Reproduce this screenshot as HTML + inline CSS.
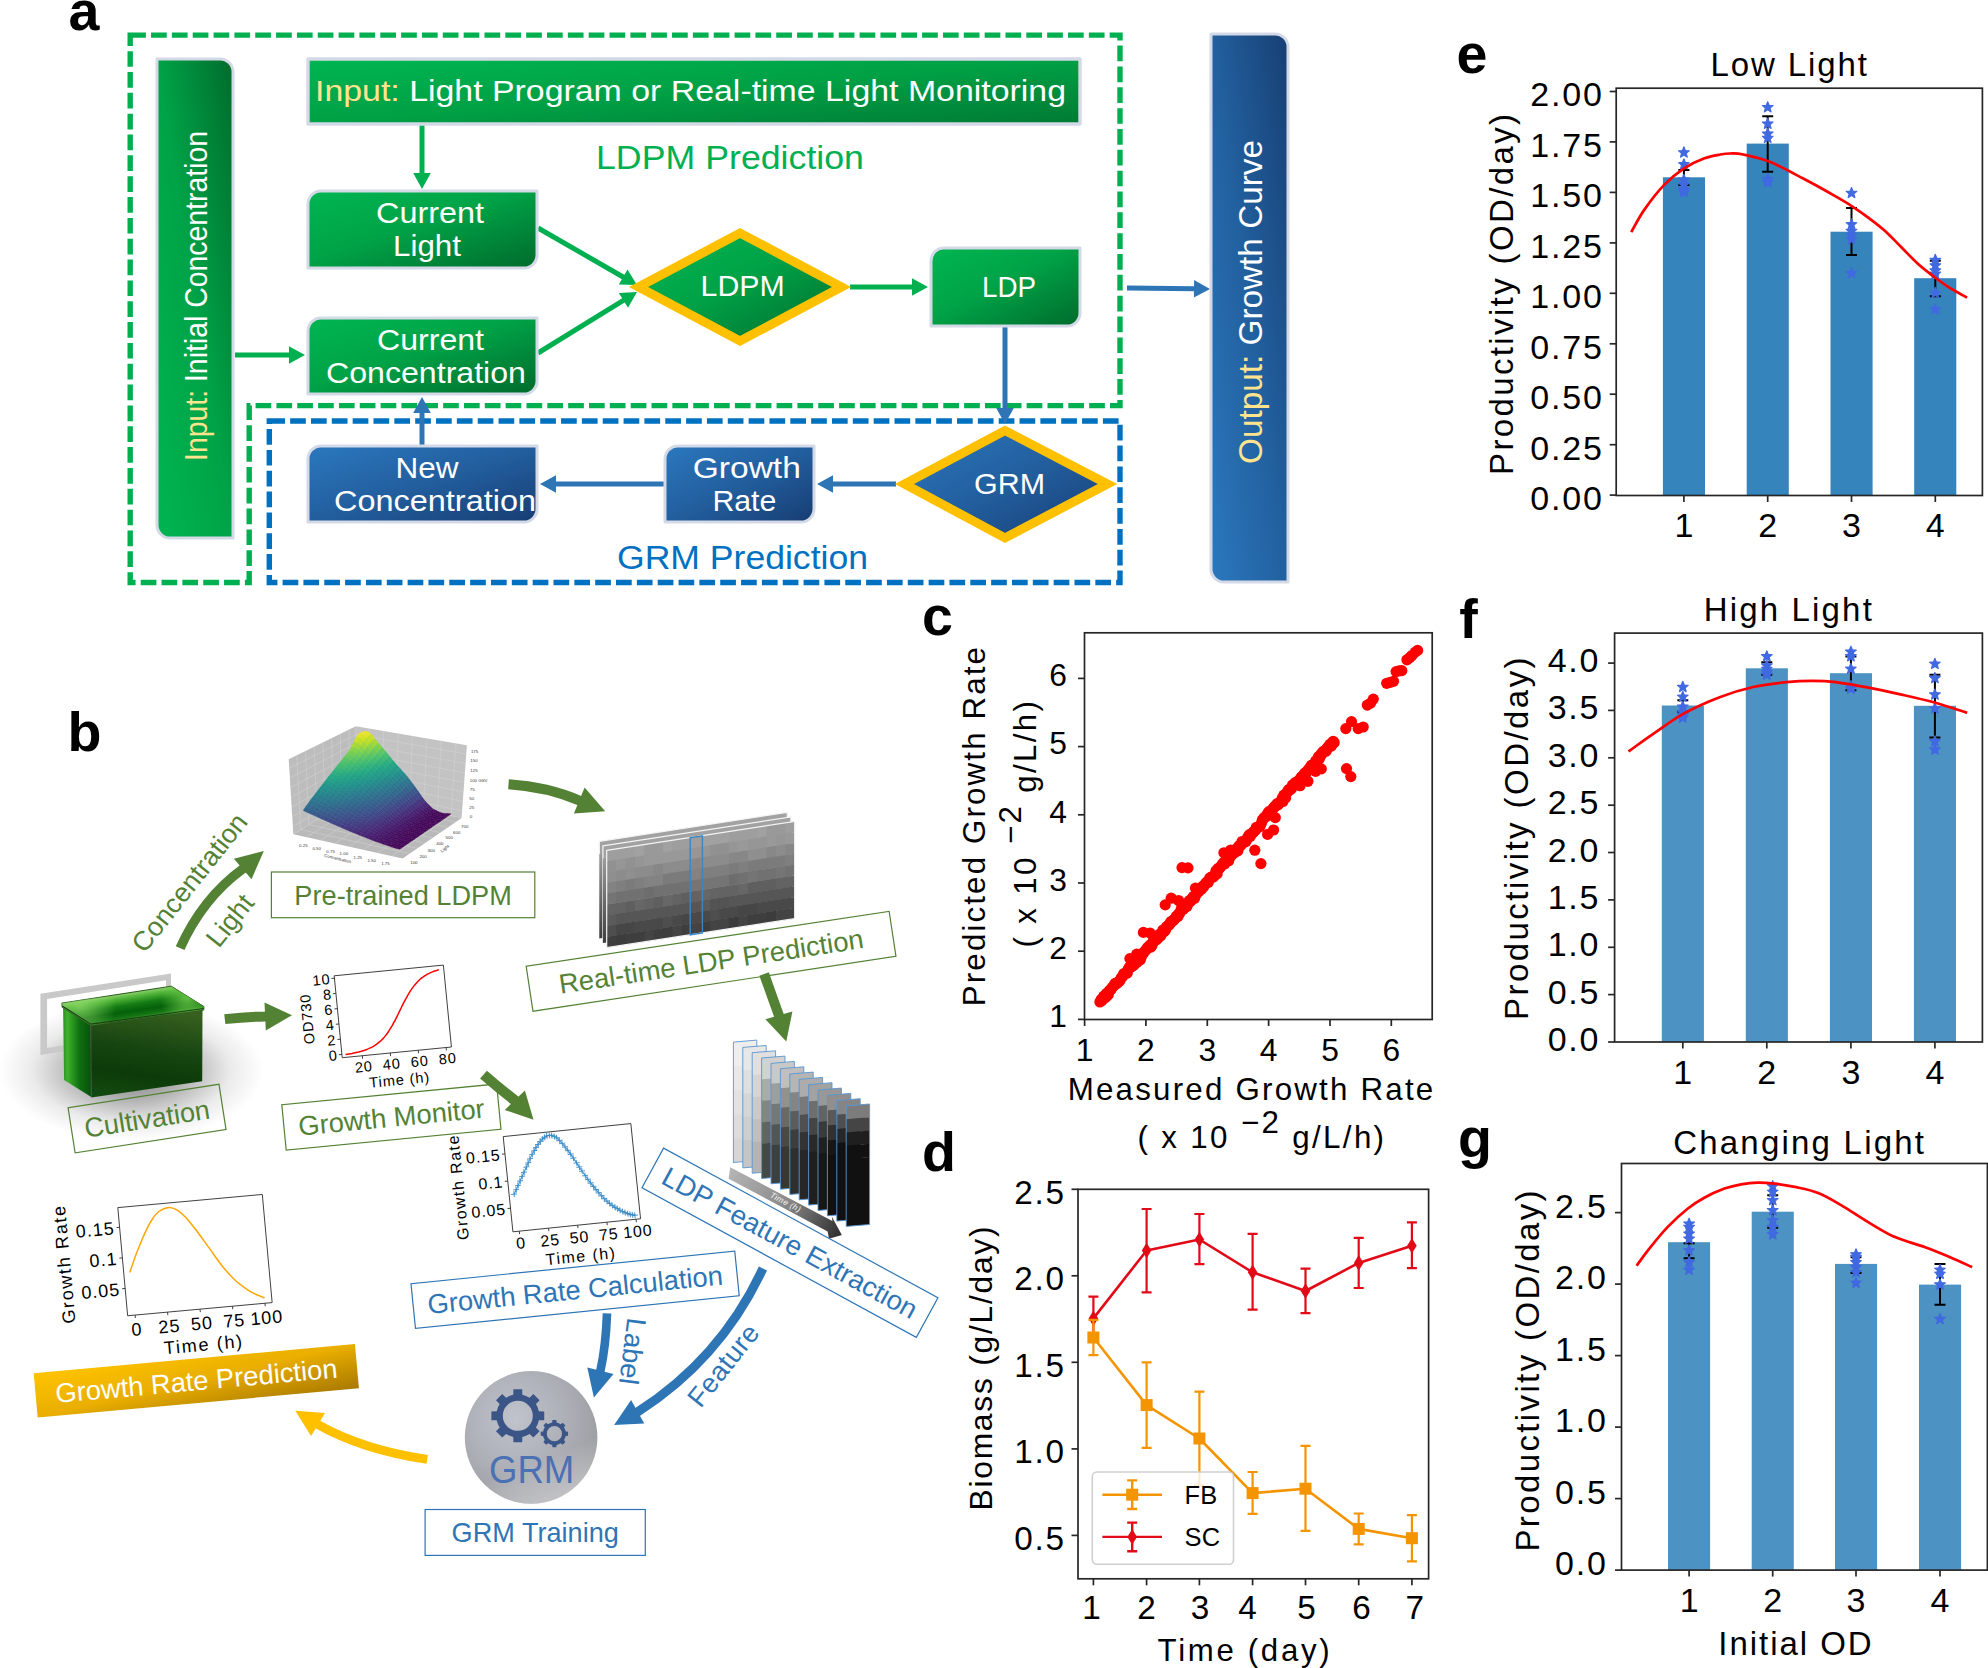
<!DOCTYPE html>
<html lang="en"><head><meta charset="utf-8"><title>Figure</title>
<style>
html,body{margin:0;padding:0;background:#fff;}
body{width:1988px;height:1668px;overflow:hidden;}
svg{display:block;}
text{font-family:"Liberation Sans",sans-serif;}
.pl{font-family:"Liberation Sans",sans-serif;fill:#000;}
</style></head><body>
<svg width="1988" height="1668" viewBox="0 0 1988 1668">
<rect x="0" y="0" width="1988" height="1668" fill="#ffffff"/>
<defs>
<linearGradient id="gG" x1="0" y1="0" x2="1" y2="1"><stop offset="0" stop-color="#00B552"/><stop offset="0.45" stop-color="#00A347"/><stop offset="1" stop-color="#006B2C"/></linearGradient>
<linearGradient id="gGw" x1="0" y1="0" x2="1" y2="1"><stop offset="0" stop-color="#00B552"/><stop offset="0.5" stop-color="#00A045"/><stop offset="1" stop-color="#007A34"/></linearGradient>
<linearGradient id="gGv" x1="0" y1="1" x2="1" y2="0"><stop offset="0" stop-color="#00B552"/><stop offset="0.5" stop-color="#00A347"/><stop offset="1" stop-color="#006B2C"/></linearGradient>
<linearGradient id="gB" x1="0" y1="0" x2="1" y2="1"><stop offset="0" stop-color="#2B78BE"/><stop offset="0.5" stop-color="#225E9E"/><stop offset="1" stop-color="#173D72"/></linearGradient>
<linearGradient id="gBv" x1="0" y1="1" x2="1" y2="0"><stop offset="0" stop-color="#2B78BE"/><stop offset="0.5" stop-color="#22609F"/><stop offset="1" stop-color="#173F73"/></linearGradient>
</defs>
<g id="panelA">
<text x="68.5" y="30.2" font-size="55.6" font-weight="bold" fill="#000">a</text>
<path d="M130.2,35.1 H1120 V405.6 H249.2 V582.5 H130.2 Z" fill="none" stroke="#00B050" stroke-width="5.4" stroke-dasharray="15.7,5.14"/>
<path d="M269.3,421 H1120 V582.5 H269.3 Z" fill="none" stroke="#0070C0" stroke-width="5.4" stroke-dasharray="15.7,5.14"/>
<line x1="422.0" y1="124.0" x2="422.0" y2="174.0" stroke="#00B050" stroke-width="5.0"/><polygon points="422.0,189.0 413.2,173.0 430.8,173.0" fill="#00B050"/>
<line x1="235.0" y1="355.0" x2="290.0" y2="355.0" stroke="#00B050" stroke-width="5.0"/><polygon points="305.0,355.0 289.0,363.8 289.0,346.2" fill="#00B050"/>
<line x1="538.0" y1="228.0" x2="624.0" y2="277.5" stroke="#00B050" stroke-width="5.0"/><polygon points="637.0,285.0 618.8,284.6 627.5,269.4" fill="#00B050"/>
<line x1="538.0" y1="353.0" x2="624.2" y2="299.9" stroke="#00B050" stroke-width="5.0"/><polygon points="637.0,292.0 628.0,307.8 618.8,292.9" fill="#00B050"/>
<line x1="850.0" y1="287.0" x2="913.0" y2="287.0" stroke="#00B050" stroke-width="5.0"/><polygon points="928.0,287.0 912.0,295.8 912.0,278.2" fill="#00B050"/>
<line x1="1005.0" y1="327.0" x2="1005.0" y2="409.0" stroke="#2E75B6" stroke-width="5.0"/><polygon points="1005.0,424.0 996.2,408.0 1013.8,408.0" fill="#2E75B6"/>
<line x1="1127.0" y1="288.0" x2="1195.0" y2="288.8" stroke="#2E75B6" stroke-width="5.0"/><polygon points="1210.0,289.0 1193.9,297.6 1194.1,280.1" fill="#2E75B6"/>
<line x1="896.0" y1="484.0" x2="832.0" y2="484.0" stroke="#2E75B6" stroke-width="5.0"/><polygon points="817.0,484.0 833.0,475.2 833.0,492.8" fill="#2E75B6"/>
<line x1="665.0" y1="484.0" x2="555.0" y2="484.0" stroke="#2E75B6" stroke-width="5.0"/><polygon points="540.0,484.0 556.0,475.2 556.0,492.8" fill="#2E75B6"/>
<line x1="422.0" y1="446.0" x2="422.0" y2="412.0" stroke="#2E75B6" stroke-width="5.0"/><polygon points="422.0,397.0 430.8,413.0 413.2,413.0" fill="#2E75B6"/>
<path d="M157.0,59.0 H220.0 A13,13 0 0 1 233.0,72.0 V538.0 H170.0 A13,13 0 0 1 157.0,525.0 V59.0 Z" fill="url(#gGv)" stroke="#D3D9E6" stroke-width="3.0" stroke-linejoin="round"/>
<path d="M308.0,59.0 H1080.0 V124.0 H308.0 V59.0 Z" fill="url(#gGw)" stroke="#D3D9E6" stroke-width="3.4" stroke-linejoin="round"/>
<path d="M321.0,191.0 H537.0 V255.0 A13,13 0 0 1 524.0,268.0 H308.0 V204.0 A13,13 0 0 1 321.0,191.0 Z" fill="url(#gG)" stroke="#D3D9E6" stroke-width="3.0" stroke-linejoin="round"/>
<path d="M321.0,318.0 H537.0 V381.0 A13,13 0 0 1 524.0,394.0 H308.0 V331.0 A13,13 0 0 1 321.0,318.0 Z" fill="url(#gG)" stroke="#D3D9E6" stroke-width="3.0" stroke-linejoin="round"/>
<path d="M944.0,248.0 H1080.0 V313.0 A13,13 0 0 1 1067.0,326.0 H931.0 V261.0 A13,13 0 0 1 944.0,248.0 Z" fill="url(#gG)" stroke="#D3D9E6" stroke-width="3.0" stroke-linejoin="round"/>
<path d="M321.0,446.0 H537.0 V509.0 A13,13 0 0 1 524.0,522.0 H308.0 V459.0 A13,13 0 0 1 321.0,446.0 Z" fill="url(#gB)" stroke="#D3D9E6" stroke-width="3.0" stroke-linejoin="round"/>
<path d="M678.0,446.0 H814.0 V509.0 A13,13 0 0 1 801.0,522.0 H665.0 V459.0 A13,13 0 0 1 678.0,446.0 Z" fill="url(#gB)" stroke="#D3D9E6" stroke-width="3.0" stroke-linejoin="round"/>
<path d="M1211.0,34.0 H1275.0 A13,13 0 0 1 1288.0,47.0 V582.0 H1224.0 A13,13 0 0 1 1211.0,569.0 V34.0 Z" fill="url(#gBv)" stroke="#D3D9E6" stroke-width="3.0" stroke-linejoin="round"/>
<polygon points="638.5,287 740,233 841.5,287 740,341" fill="url(#gG)" stroke="#FFC000" stroke-width="9" stroke-linejoin="miter"/>
<polygon points="904.5,484 1005,430.5 1107.5,484 1005,538" fill="url(#gB)" stroke="#FFC000" stroke-width="9" stroke-linejoin="miter"/>
<text x="315" y="100.9" font-size="30" fill="#fff" textLength="751" lengthAdjust="spacingAndGlyphs"><tspan fill="#FFE48F">Input:</tspan> Light Program or Real-time Light Monitoring</text>
<text x="430.0" y="223.0" font-size="30.0" fill="#fff" text-anchor="middle" textLength="108.0" lengthAdjust="spacingAndGlyphs">Current</text>
<text x="427.0" y="256.0" font-size="30.0" fill="#fff" text-anchor="middle" textLength="68.0" lengthAdjust="spacingAndGlyphs">Light</text>
<text x="430.5" y="349.5" font-size="30.0" fill="#fff" text-anchor="middle" textLength="107.0" lengthAdjust="spacingAndGlyphs">Current</text>
<text x="426.0" y="383.0" font-size="30.0" fill="#fff" text-anchor="middle" textLength="200.0" lengthAdjust="spacingAndGlyphs">Concentration</text>
<text x="427.0" y="477.5" font-size="30.0" fill="#fff" text-anchor="middle" textLength="63.0" lengthAdjust="spacingAndGlyphs">New</text>
<text x="435.0" y="510.5" font-size="30.0" fill="#fff" text-anchor="middle" textLength="202.0" lengthAdjust="spacingAndGlyphs">Concentration</text>
<text x="746.8" y="477.5" font-size="30.0" fill="#fff" text-anchor="middle" textLength="108.0" lengthAdjust="spacingAndGlyphs">Growth</text>
<text x="744.4" y="510.5" font-size="30.0" fill="#fff" text-anchor="middle" textLength="64.0" lengthAdjust="spacingAndGlyphs">Rate</text>
<text x="742.6" y="296.0" font-size="30.0" fill="#fff" text-anchor="middle" textLength="84.0" lengthAdjust="spacingAndGlyphs">LDPM</text>
<text x="1009.0" y="297.0" font-size="30.0" fill="#fff" text-anchor="middle" textLength="54.0" lengthAdjust="spacingAndGlyphs">LDP</text>
<text x="1009.5" y="494.0" font-size="30.0" fill="#fff" text-anchor="middle" textLength="71.0" lengthAdjust="spacingAndGlyphs">GRM</text>
<text transform="translate(207,461) rotate(-90)" font-size="31" fill="#fff" textLength="330" lengthAdjust="spacingAndGlyphs"><tspan fill="#FFE48F">Input:</tspan> Initial Concentration</text>
<text transform="translate(1262,464) rotate(-90)" font-size="33" fill="#fff" textLength="324" lengthAdjust="spacingAndGlyphs"><tspan fill="#FFE48F">Output:</tspan> Growth Curve</text>
<text x="596.0" y="169.0" font-size="33.0" fill="#00B050" text-anchor="start" textLength="268.0" lengthAdjust="spacingAndGlyphs">LDPM Prediction</text>
<text x="617.0" y="569.0" font-size="33.0" fill="#0070C0" text-anchor="start" textLength="251.0" lengthAdjust="spacingAndGlyphs">GRM Prediction</text>
</g>
<g id="panelB">
<defs><linearGradient id="stripg" x1="0" y1="0" x2="0" y2="1"><stop offset="0" stop-color="#9C9C9C"/><stop offset="1" stop-color="#3E3E3E"/></linearGradient><linearGradient id="goldg" x1="0" y1="0" x2="1" y2="1"><stop offset="0" stop-color="#FFC400"/><stop offset="0.5" stop-color="#E9AE00"/><stop offset="1" stop-color="#A97900"/></linearGradient><radialGradient id="sph" cx="0.38" cy="0.36" r="0.75"><stop offset="0" stop-color="#C0C3CB"/><stop offset="0.5" stop-color="#AEB0B8"/><stop offset="1" stop-color="#98989C"/></radialGradient><linearGradient id="sph2" x1="0.2" y1="0" x2="0.6" y2="1"><stop offset="0" stop-color="#fff" stop-opacity="0"/><stop offset="0.7" stop-color="#fff" stop-opacity="0"/><stop offset="1" stop-color="#fff" stop-opacity="0.38"/></linearGradient></defs>
<text x="67.5" y="750.5" font-size="55.6" font-weight="bold" fill="#000">b</text>
<g id="surf3d">
<polygon points="288.7,759.2 355.8,726.2 355.8,796.0 293.3,834.2" fill="#BDBDBD"/><polygon points="355.8,726.2 466.9,745.3 461.6,818.0 355.8,796.0" fill="#C3C3C3"/><polygon points="293.3,834.2 355.8,796.0 461.6,818.0 402.6,858.5" fill="#B9B9B9"/>
<path d="M296.7,755.2 L300.8,829.6 M369.1,728.5 L368.5,798.6 M289.2,768.2 L355.8,734.6 M355.8,734.6 L466.2,754.0 M300.8,829.6 L409.7,853.6 M306.4,837.1 L368.5,798.6 M305.5,751.0 L308.9,824.6 M383.6,731.0 L382.3,801.5 M289.8,777.9 L355.8,743.7 M355.8,743.7 L465.6,763.5 M308.9,824.6 L417.4,848.3 M320.6,840.2 L382.3,801.5 M314.2,746.7 L317.0,819.7 M398.0,733.5 L396.0,804.3 M290.4,787.7 L355.8,752.7 M355.8,752.7 L464.9,772.9 M317.0,819.7 L425.1,843.1 M334.9,843.4 L396.0,804.3 M322.9,742.4 L325.2,814.7 M412.4,736.0 L409.8,807.2 M291.0,797.4 L355.8,761.8 M355.8,761.8 L464.2,782.4 M325.2,814.7 L432.7,837.8 M349.1,846.6 L409.8,807.2 M331.6,738.1 L333.3,809.7 M426.9,738.4 L423.5,810.1 M291.6,807.2 L355.8,770.9 M355.8,770.9 L463.5,791.8 M333.3,809.7 L440.4,832.6 M363.3,849.7 L423.5,810.1 M340.3,733.8 L341.4,804.8 M441.3,740.9 L437.3,812.9 M292.2,816.9 L355.8,779.9 M355.8,779.9 L462.8,801.3 M341.4,804.8 L448.1,827.3 M377.5,852.9 L437.3,812.9 M349.1,729.5 L349.5,799.8 M455.7,743.4 L451.1,815.8 M292.8,826.7 L355.8,789.0 M355.8,789.0 L462.2,810.7 M349.5,799.8 L455.7,822.0 M391.7,856.0 L451.1,815.8" stroke="#D6D6D6" stroke-width="0.45" fill="none"/>
<polygon points="361.4,732.5 365.0,733.2 367.5,731.6 363.9,731.4" fill="#EEE525" stroke="#EEE525" stroke-width="0.35"/><polygon points="365.0,733.2 368.7,736.2 371.2,734.2 367.5,731.6" fill="#E5E425" stroke="#E5E425" stroke-width="0.35"/><polygon points="368.7,736.2 372.3,740.9 374.8,738.6 371.2,734.2" fill="#CAE126" stroke="#CAE126" stroke-width="0.35"/><polygon points="372.3,740.9 376.0,745.6 378.4,743.0 374.8,738.6" fill="#A6DA35" stroke="#A6DA35" stroke-width="0.35"/><polygon points="376.0,745.6 379.6,750.2 382.1,747.3 378.4,743.0" fill="#81D24D" stroke="#81D24D" stroke-width="0.35"/><polygon points="379.6,750.2 383.3,754.4 385.7,751.6 382.1,747.3" fill="#63C95E" stroke="#63C95E" stroke-width="0.35"/><polygon points="383.3,754.4 386.9,758.7 389.4,756.0 385.7,751.6" fill="#47C06E" stroke="#47C06E" stroke-width="0.35"/><polygon points="386.9,758.7 390.6,763.0 393.0,760.4 389.4,756.0" fill="#34B47A" stroke="#34B47A" stroke-width="0.35"/><polygon points="390.6,763.0 394.3,767.3 396.6,764.8 393.0,760.4" fill="#22A884" stroke="#22A884" stroke-width="0.35"/><polygon points="394.3,767.3 397.9,771.2 400.3,768.8 396.6,764.8" fill="#229D88" stroke="#229D88" stroke-width="0.35"/><polygon points="397.9,771.2 401.6,775.1 403.9,772.8 400.3,768.8" fill="#21928C" stroke="#21928C" stroke-width="0.35"/><polygon points="401.6,775.1 405.2,779.1 407.6,776.9 403.9,772.8" fill="#25868D" stroke="#25868D" stroke-width="0.35"/><polygon points="405.2,779.1 408.9,783.8 411.2,781.7 407.6,776.9" fill="#2A798E" stroke="#2A798E" stroke-width="0.35"/><polygon points="408.9,783.8 412.5,788.5 414.8,786.6 411.2,781.7" fill="#306A8D" stroke="#306A8D" stroke-width="0.35"/><polygon points="412.5,788.5 416.2,793.5 418.5,791.7 414.8,786.6" fill="#375A8C" stroke="#375A8C" stroke-width="0.35"/><polygon points="416.2,793.5 419.8,798.7 422.1,797.0 418.5,791.7" fill="#3F4988" stroke="#3F4988" stroke-width="0.35"/><polygon points="419.8,798.7 423.5,803.3 425.8,801.8 422.1,797.0" fill="#44367F" stroke="#44367F" stroke-width="0.35"/><polygon points="423.5,803.3 427.2,806.9 429.4,805.4 425.8,801.8" fill="#482676" stroke="#482676" stroke-width="0.35"/><polygon points="427.2,806.9 430.8,810.3 433.0,808.9 429.4,805.4" fill="#47186A" stroke="#47186A" stroke-width="0.35"/><polygon points="430.8,810.3 434.5,812.1 436.7,810.7 433.0,808.9" fill="#460E61" stroke="#460E61" stroke-width="0.35"/><polygon points="434.5,812.1 438.1,813.9 440.3,812.5 436.7,810.7" fill="#45095B" stroke="#45095B" stroke-width="0.35"/><polygon points="438.1,813.9 441.8,814.8 444.0,813.4 440.3,812.5" fill="#450658" stroke="#450658" stroke-width="0.35"/><polygon points="441.8,814.8 445.4,815.1 447.6,813.6 444.0,813.4" fill="#450659" stroke="#450659" stroke-width="0.35"/><polygon points="445.4,815.1 449.1,815.3 451.2,813.8 447.6,813.6" fill="#45095B" stroke="#45095B" stroke-width="0.35"/><polygon points="358.8,733.7 362.5,734.9 365.0,733.2 361.4,732.5" fill="#EEE525" stroke="#EEE525" stroke-width="0.35"/><polygon points="362.5,734.9 366.2,738.3 368.7,736.2 365.0,733.2" fill="#E1E425" stroke="#E1E425" stroke-width="0.35"/><polygon points="366.2,738.3 369.8,743.3 372.3,740.9 368.7,736.2" fill="#C3E026" stroke="#C3E026" stroke-width="0.35"/><polygon points="369.8,743.3 373.5,748.3 376.0,745.6 372.3,740.9" fill="#9BD83C" stroke="#9BD83C" stroke-width="0.35"/><polygon points="373.5,748.3 377.2,753.1 379.6,750.2 376.0,745.6" fill="#75CF54" stroke="#75CF54" stroke-width="0.35"/><polygon points="377.2,753.1 380.9,757.2 383.3,754.4 379.6,750.2" fill="#58C665" stroke="#58C665" stroke-width="0.35"/><polygon points="380.9,757.2 384.5,761.4 386.9,758.7 383.3,754.4" fill="#3FBC73" stroke="#3FBC73" stroke-width="0.35"/><polygon points="384.5,761.4 388.2,765.6 390.6,763.0 386.9,758.7" fill="#2EB07D" stroke="#2EB07D" stroke-width="0.35"/><polygon points="388.2,765.6 391.9,769.7 394.3,767.3 390.6,763.0" fill="#22A485" stroke="#22A485" stroke-width="0.35"/><polygon points="391.9,769.7 395.5,773.6 397.9,771.2 394.3,767.3" fill="#219989" stroke="#219989" stroke-width="0.35"/><polygon points="395.5,773.6 399.2,777.4 401.6,775.1 397.9,771.2" fill="#228E8C" stroke="#228E8C" stroke-width="0.35"/><polygon points="399.2,777.4 402.9,781.3 405.2,779.1 401.6,775.1" fill="#26838D" stroke="#26838D" stroke-width="0.35"/><polygon points="402.9,781.3 406.6,785.9 408.9,783.8 405.2,779.1" fill="#2B768E" stroke="#2B768E" stroke-width="0.35"/><polygon points="406.6,785.9 410.2,790.5 412.5,788.5 408.9,783.8" fill="#31688D" stroke="#31688D" stroke-width="0.35"/><polygon points="410.2,790.5 413.9,795.3 416.2,793.5 412.5,788.5" fill="#38588C" stroke="#38588C" stroke-width="0.35"/><polygon points="413.9,795.3 417.6,800.4 419.8,798.7 416.2,793.5" fill="#3F4888" stroke="#3F4888" stroke-width="0.35"/><polygon points="417.6,800.4 421.2,804.9 423.5,803.3 419.8,798.7" fill="#44357F" stroke="#44357F" stroke-width="0.35"/><polygon points="421.2,804.9 424.9,808.4 427.2,806.9 423.5,803.3" fill="#482676" stroke="#482676" stroke-width="0.35"/><polygon points="424.9,808.4 428.6,811.7 430.8,810.3 427.2,806.9" fill="#47186A" stroke="#47186A" stroke-width="0.35"/><polygon points="428.6,811.7 432.3,813.5 434.5,812.1 430.8,810.3" fill="#460E61" stroke="#460E61" stroke-width="0.35"/><polygon points="432.3,813.5 435.9,815.3 438.1,813.9 434.5,812.1" fill="#45095C" stroke="#45095C" stroke-width="0.35"/><polygon points="435.9,815.3 439.6,816.2 441.8,814.8 438.1,813.9" fill="#450658" stroke="#450658" stroke-width="0.35"/><polygon points="439.6,816.2 443.3,816.5 445.4,815.1 441.8,814.8" fill="#450659" stroke="#450659" stroke-width="0.35"/><polygon points="443.3,816.5 446.9,816.8 449.1,815.3 445.4,815.1" fill="#45095B" stroke="#45095B" stroke-width="0.35"/><polygon points="356.3,737.1 360.0,738.3 362.5,734.9 358.8,733.7" fill="#E4E425" stroke="#E4E425" stroke-width="0.35"/><polygon points="360.0,738.3 363.7,741.6 366.2,738.3 362.5,734.9" fill="#D6E226" stroke="#D6E226" stroke-width="0.35"/><polygon points="363.7,741.6 367.4,746.4 369.8,743.3 366.2,738.3" fill="#B6DE2A" stroke="#B6DE2A" stroke-width="0.35"/><polygon points="367.4,746.4 371.0,751.3 373.5,748.3 369.8,743.3" fill="#8DD545" stroke="#8DD545" stroke-width="0.35"/><polygon points="371.0,751.3 374.7,756.0 377.2,753.1 373.5,748.3" fill="#69CB5B" stroke="#69CB5B" stroke-width="0.35"/><polygon points="374.7,756.0 378.4,760.0 380.9,757.2 377.2,753.1" fill="#4DC26B" stroke="#4DC26B" stroke-width="0.35"/><polygon points="378.4,760.0 382.1,764.1 384.5,761.4 380.9,757.2" fill="#39B777" stroke="#39B777" stroke-width="0.35"/><polygon points="382.1,764.1 385.8,768.2 388.2,765.6 384.5,761.4" fill="#28AC81" stroke="#28AC81" stroke-width="0.35"/><polygon points="385.8,768.2 389.5,772.2 391.9,769.7 388.2,765.6" fill="#22A087" stroke="#22A087" stroke-width="0.35"/><polygon points="389.5,772.2 393.2,776.0 395.5,773.6 391.9,769.7" fill="#21968A" stroke="#21968A" stroke-width="0.35"/><polygon points="393.2,776.0 396.9,779.7 399.2,777.4 395.5,773.6" fill="#238B8C" stroke="#238B8C" stroke-width="0.35"/><polygon points="396.9,779.7 400.5,783.5 402.9,781.3 399.2,777.4" fill="#27808D" stroke="#27808D" stroke-width="0.35"/><polygon points="400.5,783.5 404.2,788.0 406.6,785.9 402.9,781.3" fill="#2C738E" stroke="#2C738E" stroke-width="0.35"/><polygon points="404.2,788.0 407.9,792.5 410.2,790.5 406.6,785.9" fill="#32658D" stroke="#32658D" stroke-width="0.35"/><polygon points="407.9,792.5 411.6,797.2 413.9,795.3 410.2,790.5" fill="#39568B" stroke="#39568B" stroke-width="0.35"/><polygon points="411.6,797.2 415.3,802.1 417.6,800.4 413.9,795.3" fill="#404687" stroke="#404687" stroke-width="0.35"/><polygon points="415.3,802.1 419.0,806.5 421.2,804.9 417.6,800.4" fill="#45347E" stroke="#45347E" stroke-width="0.35"/><polygon points="419.0,806.5 422.7,809.9 424.9,808.4 421.2,804.9" fill="#482576" stroke="#482576" stroke-width="0.35"/><polygon points="422.7,809.9 426.4,813.1 428.6,811.7 424.9,808.4" fill="#471869" stroke="#471869" stroke-width="0.35"/><polygon points="426.4,813.1 430.0,814.9 432.3,813.5 428.6,811.7" fill="#460E61" stroke="#460E61" stroke-width="0.35"/><polygon points="430.0,814.9 433.7,816.6 435.9,815.3 432.3,813.5" fill="#45095C" stroke="#45095C" stroke-width="0.35"/><polygon points="433.7,816.6 437.4,817.6 439.6,816.2 435.9,815.3" fill="#450659" stroke="#450659" stroke-width="0.35"/><polygon points="437.4,817.6 441.1,818.0 443.3,816.5 439.6,816.2" fill="#450659" stroke="#450659" stroke-width="0.35"/><polygon points="441.1,818.0 444.8,818.3 446.9,816.8 443.3,816.5" fill="#45085B" stroke="#45085B" stroke-width="0.35"/><polygon points="353.8,742.2 357.5,743.1 360.0,738.3 356.3,737.1" fill="#CBE126" stroke="#CBE126" stroke-width="0.35"/><polygon points="357.5,743.1 361.2,745.9 363.7,741.6 360.0,738.3" fill="#BEDF26" stroke="#BEDF26" stroke-width="0.35"/><polygon points="361.2,745.9 364.9,750.3 367.4,746.4 363.7,741.6" fill="#A0D939" stroke="#A0D939" stroke-width="0.35"/><polygon points="364.9,750.3 368.6,754.7 371.0,751.3 367.4,746.4" fill="#7AD151" stroke="#7AD151" stroke-width="0.35"/><polygon points="368.6,754.7 372.3,758.9 374.7,756.0 371.0,751.3" fill="#5CC762" stroke="#5CC762" stroke-width="0.35"/><polygon points="372.3,758.9 376.0,762.8 378.4,760.0 374.7,756.0" fill="#42BE71" stroke="#42BE71" stroke-width="0.35"/><polygon points="376.0,762.8 379.7,766.8 382.1,764.1 378.4,760.0" fill="#32B37B" stroke="#32B37B" stroke-width="0.35"/><polygon points="379.7,766.8 383.4,770.8 385.8,768.2 382.1,764.1" fill="#22A884" stroke="#22A884" stroke-width="0.35"/><polygon points="383.4,770.8 387.1,774.8 389.5,772.2 385.8,768.2" fill="#229D88" stroke="#229D88" stroke-width="0.35"/><polygon points="387.1,774.8 390.8,778.4 393.2,776.0 389.5,772.2" fill="#21928C" stroke="#21928C" stroke-width="0.35"/><polygon points="390.8,778.4 394.5,782.1 396.9,779.7 393.2,776.0" fill="#24878D" stroke="#24878D" stroke-width="0.35"/><polygon points="394.5,782.1 398.2,785.8 400.5,783.5 396.9,779.7" fill="#287D8E" stroke="#287D8E" stroke-width="0.35"/><polygon points="398.2,785.8 401.9,790.1 404.2,788.0 400.5,783.5" fill="#2D708E" stroke="#2D708E" stroke-width="0.35"/><polygon points="401.9,790.1 405.6,794.5 407.9,792.5 404.2,788.0" fill="#33638D" stroke="#33638D" stroke-width="0.35"/><polygon points="405.6,794.5 409.3,799.0 411.6,797.2 407.9,792.5" fill="#3A548B" stroke="#3A548B" stroke-width="0.35"/><polygon points="409.3,799.0 413.0,803.8 415.3,802.1 411.6,797.2" fill="#414587" stroke="#414587" stroke-width="0.35"/><polygon points="413.0,803.8 416.7,808.1 419.0,806.5 415.3,802.1" fill="#45337D" stroke="#45337D" stroke-width="0.35"/><polygon points="416.7,808.1 420.4,811.4 422.7,809.9 419.0,806.5" fill="#482475" stroke="#482475" stroke-width="0.35"/><polygon points="420.4,811.4 424.1,814.5 426.4,813.1 422.7,809.9" fill="#471769" stroke="#471769" stroke-width="0.35"/><polygon points="424.1,814.5 427.8,816.3 430.0,814.9 426.4,813.1" fill="#460F61" stroke="#460F61" stroke-width="0.35"/><polygon points="427.8,816.3 431.5,818.0 433.7,816.6 430.0,814.9" fill="#45095C" stroke="#45095C" stroke-width="0.35"/><polygon points="431.5,818.0 435.2,819.0 437.4,817.6 433.7,816.6" fill="#450659" stroke="#450659" stroke-width="0.35"/><polygon points="435.2,819.0 439.0,819.4 441.1,818.0 437.4,817.6" fill="#450659" stroke="#450659" stroke-width="0.35"/><polygon points="439.0,819.4 442.7,819.7 444.8,818.3 441.1,818.0" fill="#45085B" stroke="#45085B" stroke-width="0.35"/><polygon points="351.2,747.2 354.9,747.8 357.5,743.1 353.8,742.2" fill="#A9DB33" stroke="#A9DB33" stroke-width="0.35"/><polygon points="354.9,747.8 358.7,750.2 361.2,745.9 357.5,743.1" fill="#A0D939" stroke="#A0D939" stroke-width="0.35"/><polygon points="358.7,750.2 362.4,754.1 364.9,750.3 361.2,745.9" fill="#86D449" stroke="#86D449" stroke-width="0.35"/><polygon points="362.4,754.1 366.1,758.0 368.6,754.7 364.9,750.3" fill="#69CB5B" stroke="#69CB5B" stroke-width="0.35"/><polygon points="366.1,758.0 369.8,761.8 372.3,758.9 368.6,754.7" fill="#4FC36A" stroke="#4FC36A" stroke-width="0.35"/><polygon points="369.8,761.8 373.5,765.6 376.0,762.8 372.3,758.9" fill="#3BB975" stroke="#3BB975" stroke-width="0.35"/><polygon points="373.5,765.6 377.3,769.5 379.7,766.8 376.0,762.8" fill="#2BAE7F" stroke="#2BAE7F" stroke-width="0.35"/><polygon points="377.3,769.5 381.0,773.4 383.4,770.8 379.7,766.8" fill="#22A386" stroke="#22A386" stroke-width="0.35"/><polygon points="381.0,773.4 384.7,777.3 387.1,774.8 383.4,770.8" fill="#219989" stroke="#219989" stroke-width="0.35"/><polygon points="384.7,777.3 388.4,780.8 390.8,778.4 387.1,774.8" fill="#228E8C" stroke="#228E8C" stroke-width="0.35"/><polygon points="388.4,780.8 392.1,784.4 394.5,782.1 390.8,778.4" fill="#26848D" stroke="#26848D" stroke-width="0.35"/><polygon points="392.1,784.4 395.9,788.0 398.2,785.8 394.5,782.1" fill="#2A798E" stroke="#2A798E" stroke-width="0.35"/><polygon points="395.9,788.0 399.6,792.2 401.9,790.1 398.2,785.8" fill="#2F6E8E" stroke="#2F6E8E" stroke-width="0.35"/><polygon points="399.6,792.2 403.3,796.5 405.6,794.5 401.9,790.1" fill="#34618D" stroke="#34618D" stroke-width="0.35"/><polygon points="403.3,796.5 407.0,800.9 409.3,799.0 405.6,794.5" fill="#3B528A" stroke="#3B528A" stroke-width="0.35"/><polygon points="407.0,800.9 410.7,805.5 413.0,803.8 409.3,799.0" fill="#414387" stroke="#414387" stroke-width="0.35"/><polygon points="410.7,805.5 414.5,809.6 416.7,808.1 413.0,803.8" fill="#45327D" stroke="#45327D" stroke-width="0.35"/><polygon points="414.5,809.6 418.2,812.9 420.4,811.4 416.7,808.1" fill="#482475" stroke="#482475" stroke-width="0.35"/><polygon points="418.2,812.9 421.9,816.0 424.1,814.5 420.4,811.4" fill="#471769" stroke="#471769" stroke-width="0.35"/><polygon points="421.9,816.0 425.6,817.7 427.8,816.3 424.1,814.5" fill="#460F61" stroke="#460F61" stroke-width="0.35"/><polygon points="425.6,817.7 429.4,819.4 431.5,818.0 427.8,816.3" fill="#45095C" stroke="#45095C" stroke-width="0.35"/><polygon points="429.4,819.4 433.1,820.4 435.2,819.0 431.5,818.0" fill="#450659" stroke="#450659" stroke-width="0.35"/><polygon points="433.1,820.4 436.8,820.8 439.0,819.4 435.2,819.0" fill="#450659" stroke="#450659" stroke-width="0.35"/><polygon points="436.8,820.8 440.5,821.2 442.7,819.7 439.0,819.4" fill="#45085B" stroke="#45085B" stroke-width="0.35"/><polygon points="348.7,751.2 352.4,751.6 354.9,747.8 351.2,747.2" fill="#8CD545" stroke="#8CD545" stroke-width="0.35"/><polygon points="352.4,751.6 356.2,753.9 358.7,750.2 354.9,747.8" fill="#85D34A" stroke="#85D34A" stroke-width="0.35"/><polygon points="356.2,753.9 359.9,757.5 362.4,754.1 358.7,750.2" fill="#71CE56" stroke="#71CE56" stroke-width="0.35"/><polygon points="359.9,757.5 363.6,761.1 366.1,758.0 362.4,754.1" fill="#59C664" stroke="#59C664" stroke-width="0.35"/><polygon points="363.6,761.1 367.4,764.7 369.8,761.8 366.1,758.0" fill="#43BE71" stroke="#43BE71" stroke-width="0.35"/><polygon points="367.4,764.7 371.1,768.4 373.5,765.6 369.8,761.8" fill="#34B47A" stroke="#34B47A" stroke-width="0.35"/><polygon points="371.1,768.4 374.9,772.2 377.3,769.5 373.5,765.6" fill="#25AA83" stroke="#25AA83" stroke-width="0.35"/><polygon points="374.9,772.2 378.6,776.0 381.0,773.4 377.3,769.5" fill="#229F87" stroke="#229F87" stroke-width="0.35"/><polygon points="378.6,776.0 382.3,779.8 384.7,777.3 381.0,773.4" fill="#21958B" stroke="#21958B" stroke-width="0.35"/><polygon points="382.3,779.8 386.1,783.3 388.4,780.8 384.7,777.3" fill="#238B8D" stroke="#238B8D" stroke-width="0.35"/><polygon points="386.1,783.3 389.8,786.7 392.1,784.4 388.4,780.8" fill="#27808D" stroke="#27808D" stroke-width="0.35"/><polygon points="389.8,786.7 393.5,790.2 395.9,788.0 392.1,784.4" fill="#2B768E" stroke="#2B768E" stroke-width="0.35"/><polygon points="393.5,790.2 397.3,794.4 399.6,792.2 395.9,788.0" fill="#306B8D" stroke="#306B8D" stroke-width="0.35"/><polygon points="397.3,794.4 401.0,798.5 403.3,796.5 399.6,792.2" fill="#355E8D" stroke="#355E8D" stroke-width="0.35"/><polygon points="401.0,798.5 404.7,802.7 407.0,800.9 403.3,796.5" fill="#3B508A" stroke="#3B508A" stroke-width="0.35"/><polygon points="404.7,802.7 408.5,807.2 410.7,805.5 407.0,800.9" fill="#424186" stroke="#424186" stroke-width="0.35"/><polygon points="408.5,807.2 412.2,811.2 414.5,809.6 410.7,805.5" fill="#45317C" stroke="#45317C" stroke-width="0.35"/><polygon points="412.2,811.2 415.9,814.4 418.2,812.9 414.5,809.6" fill="#482374" stroke="#482374" stroke-width="0.35"/><polygon points="415.9,814.4 419.7,817.4 421.9,816.0 418.2,812.9" fill="#471769" stroke="#471769" stroke-width="0.35"/><polygon points="419.7,817.4 423.4,819.1 425.6,817.7 421.9,816.0" fill="#460F61" stroke="#460F61" stroke-width="0.35"/><polygon points="423.4,819.1 427.2,820.8 429.4,819.4 425.6,817.7" fill="#450A5C" stroke="#450A5C" stroke-width="0.35"/><polygon points="427.2,820.8 430.9,821.8 433.1,820.4 429.4,819.4" fill="#450659" stroke="#450659" stroke-width="0.35"/><polygon points="430.9,821.8 434.6,822.3 436.8,820.8 433.1,820.4" fill="#450659" stroke="#450659" stroke-width="0.35"/><polygon points="434.6,822.3 438.4,822.7 440.5,821.2 436.8,820.8" fill="#45085B" stroke="#45085B" stroke-width="0.35"/><polygon points="346.2,754.5 349.9,755.0 352.4,751.6 348.7,751.2" fill="#77D053" stroke="#77D053" stroke-width="0.35"/><polygon points="349.9,755.0 353.7,757.2 356.2,753.9 352.4,751.6" fill="#72CE55" stroke="#72CE55" stroke-width="0.35"/><polygon points="353.7,757.2 357.4,760.7 359.9,757.5 356.2,753.9" fill="#61C95F" stroke="#61C95F" stroke-width="0.35"/><polygon points="357.4,760.7 361.2,764.2 363.6,761.1 359.9,757.5" fill="#4BC16C" stroke="#4BC16C" stroke-width="0.35"/><polygon points="361.2,764.2 364.9,767.6 367.4,764.7 363.6,761.1" fill="#3BB976" stroke="#3BB976" stroke-width="0.35"/><polygon points="364.9,767.6 368.7,771.2 371.1,768.4 367.4,764.7" fill="#2CAF7E" stroke="#2CAF7E" stroke-width="0.35"/><polygon points="368.7,771.2 372.4,775.0 374.9,772.2 371.1,768.4" fill="#22A585" stroke="#22A585" stroke-width="0.35"/><polygon points="372.4,775.0 376.2,778.7 378.6,776.0 374.9,772.2" fill="#219B89" stroke="#219B89" stroke-width="0.35"/><polygon points="376.2,778.7 379.9,782.3 382.3,779.8 378.6,776.0" fill="#21918C" stroke="#21918C" stroke-width="0.35"/><polygon points="379.9,782.3 383.7,785.7 386.1,783.3 382.3,779.8" fill="#25878D" stroke="#25878D" stroke-width="0.35"/><polygon points="383.7,785.7 387.4,789.1 389.8,786.7 386.1,783.3" fill="#287D8E" stroke="#287D8E" stroke-width="0.35"/><polygon points="387.4,789.1 391.2,792.5 393.5,790.2 389.8,786.7" fill="#2C738E" stroke="#2C738E" stroke-width="0.35"/><polygon points="391.2,792.5 394.9,796.5 397.3,794.4 393.5,790.2" fill="#31688D" stroke="#31688D" stroke-width="0.35"/><polygon points="394.9,796.5 398.7,800.4 401.0,798.5 397.3,794.4" fill="#365C8C" stroke="#365C8C" stroke-width="0.35"/><polygon points="398.7,800.4 402.4,804.6 404.7,802.7 401.0,798.5" fill="#3C4E89" stroke="#3C4E89" stroke-width="0.35"/><polygon points="402.4,804.6 406.2,808.9 408.5,807.2 404.7,802.7" fill="#424085" stroke="#424085" stroke-width="0.35"/><polygon points="406.2,808.9 410.0,812.8 412.2,811.2 408.5,807.2" fill="#45307C" stroke="#45307C" stroke-width="0.35"/><polygon points="410.0,812.8 413.7,815.9 415.9,814.4 412.2,811.2" fill="#482374" stroke="#482374" stroke-width="0.35"/><polygon points="413.7,815.9 417.5,818.8 419.7,817.4 415.9,814.4" fill="#461769" stroke="#461769" stroke-width="0.35"/><polygon points="417.5,818.8 421.2,820.5 423.4,819.1 419.7,817.4" fill="#460F61" stroke="#460F61" stroke-width="0.35"/><polygon points="421.2,820.5 425.0,822.2 427.2,820.8 423.4,819.1" fill="#450A5C" stroke="#450A5C" stroke-width="0.35"/><polygon points="425.0,822.2 428.7,823.2 430.9,821.8 427.2,820.8" fill="#450659" stroke="#450659" stroke-width="0.35"/><polygon points="428.7,823.2 432.5,823.7 434.6,822.3 430.9,821.8" fill="#450659" stroke="#450659" stroke-width="0.35"/><polygon points="432.5,823.7 436.2,824.1 438.4,822.7 434.6,822.3" fill="#45085A" stroke="#45085A" stroke-width="0.35"/><polygon points="343.6,757.7 347.4,758.3 349.9,755.0 346.2,754.5" fill="#68CB5B" stroke="#68CB5B" stroke-width="0.35"/><polygon points="347.4,758.3 351.2,760.4 353.7,757.2 349.9,755.0" fill="#63C95E" stroke="#63C95E" stroke-width="0.35"/><polygon points="351.2,760.4 354.9,763.8 357.4,760.7 353.7,757.2" fill="#53C467" stroke="#53C467" stroke-width="0.35"/><polygon points="354.9,763.8 358.7,767.2 361.2,764.2 357.4,760.7" fill="#40BC72" stroke="#40BC72" stroke-width="0.35"/><polygon points="358.7,767.2 362.5,770.6 364.9,767.6 361.2,764.2" fill="#33B37A" stroke="#33B37A" stroke-width="0.35"/><polygon points="362.5,770.6 366.2,774.1 368.7,771.2 364.9,767.6" fill="#25AA82" stroke="#25AA82" stroke-width="0.35"/><polygon points="366.2,774.1 370.0,777.7 372.4,775.0 368.7,771.2" fill="#22A187" stroke="#22A187" stroke-width="0.35"/><polygon points="370.0,777.7 373.8,781.3 376.2,778.7 372.4,775.0" fill="#21978A" stroke="#21978A" stroke-width="0.35"/><polygon points="373.8,781.3 377.6,784.8 379.9,782.3 376.2,778.7" fill="#238D8C" stroke="#238D8C" stroke-width="0.35"/><polygon points="377.6,784.8 381.3,788.1 383.7,785.7 379.9,782.3" fill="#26838D" stroke="#26838D" stroke-width="0.35"/><polygon points="381.3,788.1 385.1,791.4 387.4,789.1 383.7,785.7" fill="#2A798E" stroke="#2A798E" stroke-width="0.35"/><polygon points="385.1,791.4 388.9,794.7 391.2,792.5 387.4,789.1" fill="#2E708E" stroke="#2E708E" stroke-width="0.35"/><polygon points="388.9,794.7 392.6,798.6 394.9,796.5 391.2,792.5" fill="#32658D" stroke="#32658D" stroke-width="0.35"/><polygon points="392.6,798.6 396.4,802.4 398.7,800.4 394.9,796.5" fill="#38598C" stroke="#38598C" stroke-width="0.35"/><polygon points="396.4,802.4 400.2,806.4 402.4,804.6 398.7,800.4" fill="#3D4C89" stroke="#3D4C89" stroke-width="0.35"/><polygon points="400.2,806.4 403.9,810.6 406.2,808.9 402.4,804.6" fill="#423E84" stroke="#423E84" stroke-width="0.35"/><polygon points="403.9,810.6 407.7,814.4 410.0,812.8 406.2,808.9" fill="#462F7B" stroke="#462F7B" stroke-width="0.35"/><polygon points="407.7,814.4 411.5,817.3 413.7,815.9 410.0,812.8" fill="#482273" stroke="#482273" stroke-width="0.35"/><polygon points="411.5,817.3 415.2,820.2 417.5,818.8 413.7,815.9" fill="#461768" stroke="#461768" stroke-width="0.35"/><polygon points="415.2,820.2 419.0,821.9 421.2,820.5 417.5,818.8" fill="#460F61" stroke="#460F61" stroke-width="0.35"/><polygon points="419.0,821.9 422.8,823.6 425.0,822.2 421.2,820.5" fill="#450A5C" stroke="#450A5C" stroke-width="0.35"/><polygon points="422.8,823.6 426.5,824.6 428.7,823.2 425.0,822.2" fill="#450759" stroke="#450759" stroke-width="0.35"/><polygon points="426.5,824.6 430.3,825.1 432.5,823.7 428.7,823.2" fill="#450659" stroke="#450659" stroke-width="0.35"/><polygon points="430.3,825.1 434.1,825.6 436.2,824.1 432.5,823.7" fill="#45085A" stroke="#45085A" stroke-width="0.35"/><polygon points="341.1,760.8 344.9,761.5 347.4,758.3 343.6,757.7" fill="#5AC663" stroke="#5AC663" stroke-width="0.35"/><polygon points="344.9,761.5 348.7,763.6 351.2,760.4 347.4,758.3" fill="#55C566" stroke="#55C566" stroke-width="0.35"/><polygon points="348.7,763.6 352.5,766.9 354.9,763.8 351.2,760.4" fill="#45BF6F" stroke="#45BF6F" stroke-width="0.35"/><polygon points="352.5,766.9 356.2,770.2 358.7,767.2 354.9,763.8" fill="#38B777" stroke="#38B777" stroke-width="0.35"/><polygon points="356.2,770.2 360.0,773.5 362.5,770.6 358.7,767.2" fill="#2BAE7F" stroke="#2BAE7F" stroke-width="0.35"/><polygon points="360.0,773.5 363.8,776.9 366.2,774.1 362.5,770.6" fill="#22A585" stroke="#22A585" stroke-width="0.35"/><polygon points="363.8,776.9 367.6,780.4 370.0,777.7 366.2,774.1" fill="#219C88" stroke="#219C88" stroke-width="0.35"/><polygon points="367.6,780.4 371.4,783.9 373.8,781.3 370.0,777.7" fill="#21928B" stroke="#21928B" stroke-width="0.35"/><polygon points="371.4,783.9 375.2,787.3 377.6,784.8 373.8,781.3" fill="#24898D" stroke="#24898D" stroke-width="0.35"/><polygon points="375.2,787.3 378.9,790.5 381.3,788.1 377.6,784.8" fill="#277F8D" stroke="#277F8D" stroke-width="0.35"/><polygon points="378.9,790.5 382.7,793.8 385.1,791.4 381.3,788.1" fill="#2B768E" stroke="#2B768E" stroke-width="0.35"/><polygon points="382.7,793.8 386.5,797.0 388.9,794.7 385.1,791.4" fill="#2F6D8E" stroke="#2F6D8E" stroke-width="0.35"/><polygon points="386.5,797.0 390.3,800.7 392.6,798.6 388.9,794.7" fill="#34628D" stroke="#34628D" stroke-width="0.35"/><polygon points="390.3,800.7 394.1,804.4 396.4,802.4 392.6,798.6" fill="#39578B" stroke="#39578B" stroke-width="0.35"/><polygon points="394.1,804.4 397.9,808.3 400.2,806.4 396.4,802.4" fill="#3E4A88" stroke="#3E4A88" stroke-width="0.35"/><polygon points="397.9,808.3 401.7,812.3 403.9,810.6 400.2,806.4" fill="#433C83" stroke="#433C83" stroke-width="0.35"/><polygon points="401.7,812.3 405.4,815.9 407.7,814.4 403.9,810.6" fill="#462E7A" stroke="#462E7A" stroke-width="0.35"/><polygon points="405.4,815.9 409.2,818.8 411.5,817.3 407.7,814.4" fill="#482173" stroke="#482173" stroke-width="0.35"/><polygon points="409.2,818.8 413.0,821.6 415.2,820.2 411.5,817.3" fill="#461668" stroke="#461668" stroke-width="0.35"/><polygon points="413.0,821.6 416.8,823.3 419.0,821.9 415.2,820.2" fill="#460F61" stroke="#460F61" stroke-width="0.35"/><polygon points="416.8,823.3 420.6,824.9 422.8,823.6 419.0,821.9" fill="#450A5C" stroke="#450A5C" stroke-width="0.35"/><polygon points="420.6,824.9 424.4,826.0 426.5,824.6 422.8,823.6" fill="#450759" stroke="#450759" stroke-width="0.35"/><polygon points="424.4,826.0 428.1,826.6 430.3,825.1 426.5,824.6" fill="#450659" stroke="#450659" stroke-width="0.35"/><polygon points="428.1,826.6 431.9,827.1 434.1,825.6 430.3,825.1" fill="#45075A" stroke="#45075A" stroke-width="0.35"/><polygon points="338.6,764.0 342.4,764.7 344.9,761.5 341.1,760.8" fill="#4CC26B" stroke="#4CC26B" stroke-width="0.35"/><polygon points="342.4,764.7 346.2,766.8 348.7,763.6 344.9,761.5" fill="#47C06E" stroke="#47C06E" stroke-width="0.35"/><polygon points="346.2,766.8 350.0,770.1 352.5,766.9 348.7,763.6" fill="#3CBA75" stroke="#3CBA75" stroke-width="0.35"/><polygon points="350.0,770.1 353.8,773.3 356.2,770.2 352.5,766.9" fill="#30B17C" stroke="#30B17C" stroke-width="0.35"/><polygon points="353.8,773.3 357.6,776.5 360.0,773.5 356.2,770.2" fill="#23A983" stroke="#23A983" stroke-width="0.35"/><polygon points="357.6,776.5 361.4,779.8 363.8,776.9 360.0,773.5" fill="#22A087" stroke="#22A087" stroke-width="0.35"/><polygon points="361.4,779.8 365.2,783.2 367.6,780.4 363.8,776.9" fill="#21978A" stroke="#21978A" stroke-width="0.35"/><polygon points="365.2,783.2 369.0,786.6 371.4,783.9 367.6,780.4" fill="#228E8C" stroke="#228E8C" stroke-width="0.35"/><polygon points="369.0,786.6 372.8,789.9 375.2,787.3 371.4,783.9" fill="#26848D" stroke="#26848D" stroke-width="0.35"/><polygon points="372.8,789.9 376.6,793.0 378.9,790.5 375.2,787.3" fill="#297B8E" stroke="#297B8E" stroke-width="0.35"/><polygon points="376.6,793.0 380.4,796.1 382.7,793.8 378.9,790.5" fill="#2D728E" stroke="#2D728E" stroke-width="0.35"/><polygon points="380.4,796.1 384.2,799.2 386.5,797.0 382.7,793.8" fill="#30698D" stroke="#30698D" stroke-width="0.35"/><polygon points="384.2,799.2 388.0,802.8 390.3,800.7 386.5,797.0" fill="#35608D" stroke="#35608D" stroke-width="0.35"/><polygon points="388.0,802.8 391.8,806.4 394.1,804.4 390.3,800.7" fill="#3A548B" stroke="#3A548B" stroke-width="0.35"/><polygon points="391.8,806.4 395.6,810.2 397.9,808.3 394.1,804.4" fill="#3F4888" stroke="#3F4888" stroke-width="0.35"/><polygon points="395.6,810.2 399.4,814.0 401.7,812.3 397.9,808.3" fill="#433B82" stroke="#433B82" stroke-width="0.35"/><polygon points="399.4,814.0 403.2,817.5 405.4,815.9 401.7,812.3" fill="#462D7A" stroke="#462D7A" stroke-width="0.35"/><polygon points="403.2,817.5 407.0,820.3 409.2,818.8 405.4,815.9" fill="#482172" stroke="#482172" stroke-width="0.35"/><polygon points="407.0,820.3 410.8,823.0 413.0,821.6 409.2,818.8" fill="#461668" stroke="#461668" stroke-width="0.35"/><polygon points="410.8,823.0 414.6,824.7 416.8,823.3 413.0,821.6" fill="#460F61" stroke="#460F61" stroke-width="0.35"/><polygon points="414.6,824.7 418.4,826.3 420.6,824.9 416.8,823.3" fill="#450A5D" stroke="#450A5D" stroke-width="0.35"/><polygon points="418.4,826.3 422.2,827.4 424.4,826.0 420.6,824.9" fill="#45075A" stroke="#45075A" stroke-width="0.35"/><polygon points="422.2,827.4 426.0,828.0 428.1,826.6 424.4,826.0" fill="#450659" stroke="#450659" stroke-width="0.35"/><polygon points="426.0,828.0 429.8,828.6 431.9,827.1 428.1,826.6" fill="#45075A" stroke="#45075A" stroke-width="0.35"/><polygon points="336.0,767.2 339.9,768.0 342.4,764.7 338.6,764.0" fill="#40BC72" stroke="#40BC72" stroke-width="0.35"/><polygon points="339.9,768.0 343.7,770.1 346.2,766.8 342.4,764.7" fill="#3DBA74" stroke="#3DBA74" stroke-width="0.35"/><polygon points="343.7,770.1 347.5,773.2 350.0,770.1 346.2,766.8" fill="#33B47A" stroke="#33B47A" stroke-width="0.35"/><polygon points="347.5,773.2 351.3,776.3 353.8,773.3 350.0,770.1" fill="#27AC81" stroke="#27AC81" stroke-width="0.35"/><polygon points="351.3,776.3 355.1,779.4 357.6,776.5 353.8,773.3" fill="#22A386" stroke="#22A386" stroke-width="0.35"/><polygon points="355.1,779.4 358.9,782.6 361.4,779.8 357.6,776.5" fill="#219B88" stroke="#219B88" stroke-width="0.35"/><polygon points="358.9,782.6 362.8,785.9 365.2,783.2 361.4,779.8" fill="#21938B" stroke="#21938B" stroke-width="0.35"/><polygon points="362.8,785.9 366.6,789.2 369.0,786.6 365.2,783.2" fill="#24898D" stroke="#24898D" stroke-width="0.35"/><polygon points="366.6,789.2 370.4,792.4 372.8,789.9 369.0,786.6" fill="#27808D" stroke="#27808D" stroke-width="0.35"/><polygon points="370.4,792.4 374.2,795.4 376.6,793.0 372.8,789.9" fill="#2A778E" stroke="#2A778E" stroke-width="0.35"/><polygon points="374.2,795.4 378.0,798.5 380.4,796.1 376.6,793.0" fill="#2E6F8E" stroke="#2E6F8E" stroke-width="0.35"/><polygon points="378.0,798.5 381.8,801.5 384.2,799.2 380.4,796.1" fill="#32668D" stroke="#32668D" stroke-width="0.35"/><polygon points="381.8,801.5 385.7,805.0 388.0,802.8 384.2,799.2" fill="#365D8C" stroke="#365D8C" stroke-width="0.35"/><polygon points="385.7,805.0 389.5,808.4 391.8,806.4 388.0,802.8" fill="#3B528A" stroke="#3B528A" stroke-width="0.35"/><polygon points="389.5,808.4 393.3,812.0 395.6,810.2 391.8,806.4" fill="#404688" stroke="#404688" stroke-width="0.35"/><polygon points="393.3,812.0 397.1,815.7 399.4,814.0 395.6,810.2" fill="#433981" stroke="#433981" stroke-width="0.35"/><polygon points="397.1,815.7 400.9,819.1 403.2,817.5 399.4,814.0" fill="#462C79" stroke="#462C79" stroke-width="0.35"/><polygon points="400.9,819.1 404.7,821.8 407.0,820.3 403.2,817.5" fill="#482071" stroke="#482071" stroke-width="0.35"/><polygon points="404.7,821.8 408.6,824.4 410.8,823.0 407.0,820.3" fill="#461668" stroke="#461668" stroke-width="0.35"/><polygon points="408.6,824.4 412.4,826.1 414.6,824.7 410.8,823.0" fill="#460F61" stroke="#460F61" stroke-width="0.35"/><polygon points="412.4,826.1 416.2,827.7 418.4,826.3 414.6,824.7" fill="#450A5D" stroke="#450A5D" stroke-width="0.35"/><polygon points="416.2,827.7 420.0,828.8 422.2,827.4 418.4,826.3" fill="#45075A" stroke="#45075A" stroke-width="0.35"/><polygon points="420.0,828.8 423.8,829.5 426.0,828.0 422.2,827.4" fill="#450659" stroke="#450659" stroke-width="0.35"/><polygon points="423.8,829.5 427.6,830.0 429.8,828.6 426.0,828.0" fill="#45075A" stroke="#45075A" stroke-width="0.35"/><polygon points="333.5,770.4 337.3,771.2 339.9,768.0 336.0,767.2" fill="#37B678" stroke="#37B678" stroke-width="0.35"/><polygon points="337.3,771.2 341.2,773.3 343.7,770.1 339.9,768.0" fill="#34B47A" stroke="#34B47A" stroke-width="0.35"/><polygon points="341.2,773.3 345.0,776.3 347.5,773.2 343.7,770.1" fill="#2AAE7F" stroke="#2AAE7F" stroke-width="0.35"/><polygon points="345.0,776.3 348.8,779.4 351.3,776.3 347.5,773.2" fill="#22A685" stroke="#22A685" stroke-width="0.35"/><polygon points="348.8,779.4 352.7,782.4 355.1,779.4 351.3,776.3" fill="#229E87" stroke="#229E87" stroke-width="0.35"/><polygon points="352.7,782.4 356.5,785.5 358.9,782.6 355.1,779.4" fill="#21968A" stroke="#21968A" stroke-width="0.35"/><polygon points="356.5,785.5 360.3,788.7 362.8,785.9 358.9,782.6" fill="#228E8C" stroke="#228E8C" stroke-width="0.35"/><polygon points="360.3,788.7 364.2,791.9 366.6,789.2 362.8,785.9" fill="#25858D" stroke="#25858D" stroke-width="0.35"/><polygon points="364.2,791.9 368.0,795.0 370.4,792.4 366.6,789.2" fill="#297C8E" stroke="#297C8E" stroke-width="0.35"/><polygon points="368.0,795.0 371.8,797.9 374.2,795.4 370.4,792.4" fill="#2C738E" stroke="#2C738E" stroke-width="0.35"/><polygon points="371.8,797.9 375.7,800.8 378.0,798.5 374.2,795.4" fill="#306B8D" stroke="#306B8D" stroke-width="0.35"/><polygon points="375.7,800.8 379.5,803.8 381.8,801.5 378.0,798.5" fill="#33638D" stroke="#33638D" stroke-width="0.35"/><polygon points="379.5,803.8 383.3,807.1 385.7,805.0 381.8,801.5" fill="#37598C" stroke="#37598C" stroke-width="0.35"/><polygon points="383.3,807.1 387.2,810.4 389.5,808.4 385.7,805.0" fill="#3C4F89" stroke="#3C4F89" stroke-width="0.35"/><polygon points="387.2,810.4 391.0,813.9 393.3,812.0 389.5,808.4" fill="#414487" stroke="#414487" stroke-width="0.35"/><polygon points="391.0,813.9 394.8,817.4 397.1,815.7 393.3,812.0" fill="#443780" stroke="#443780" stroke-width="0.35"/><polygon points="394.8,817.4 398.7,820.7 400.9,819.1 397.1,815.7" fill="#472A79" stroke="#472A79" stroke-width="0.35"/><polygon points="398.7,820.7 402.5,823.3 404.7,821.8 400.9,819.1" fill="#472071" stroke="#472071" stroke-width="0.35"/><polygon points="402.5,823.3 406.3,825.9 408.6,824.4 404.7,821.8" fill="#461668" stroke="#461668" stroke-width="0.35"/><polygon points="406.3,825.9 410.2,827.5 412.4,826.1 408.6,824.4" fill="#460F61" stroke="#460F61" stroke-width="0.35"/><polygon points="410.2,827.5 414.0,829.1 416.2,827.7 412.4,826.1" fill="#450A5D" stroke="#450A5D" stroke-width="0.35"/><polygon points="414.0,829.1 417.8,830.2 420.0,828.8 416.2,827.7" fill="#45075A" stroke="#45075A" stroke-width="0.35"/><polygon points="417.8,830.2 421.7,830.9 423.8,829.5 420.0,828.8" fill="#450659" stroke="#450659" stroke-width="0.35"/><polygon points="421.7,830.9 425.5,831.5 427.6,830.0 423.8,829.5" fill="#45075A" stroke="#45075A" stroke-width="0.35"/><polygon points="331.0,773.6 334.8,774.5 337.3,771.2 333.5,770.4" fill="#2EB07D" stroke="#2EB07D" stroke-width="0.35"/><polygon points="334.8,774.5 338.7,776.6 341.2,773.3 337.3,771.2" fill="#2AAE7F" stroke="#2AAE7F" stroke-width="0.35"/><polygon points="338.7,776.6 342.5,779.5 345.0,776.3 341.2,773.3" fill="#22A884" stroke="#22A884" stroke-width="0.35"/><polygon points="342.5,779.5 346.4,782.4 348.8,779.4 345.0,776.3" fill="#22A087" stroke="#22A087" stroke-width="0.35"/><polygon points="346.4,782.4 350.2,785.4 352.7,782.4 348.8,779.4" fill="#219989" stroke="#219989" stroke-width="0.35"/><polygon points="350.2,785.4 354.1,788.4 356.5,785.5 352.7,782.4" fill="#21918C" stroke="#21918C" stroke-width="0.35"/><polygon points="354.1,788.4 357.9,791.5 360.3,788.7 356.5,785.5" fill="#24888D" stroke="#24888D" stroke-width="0.35"/><polygon points="357.9,791.5 361.8,794.5 364.2,791.9 360.3,788.7" fill="#27808D" stroke="#27808D" stroke-width="0.35"/><polygon points="361.8,794.5 365.6,797.5 368.0,795.0 364.2,791.9" fill="#2A778E" stroke="#2A778E" stroke-width="0.35"/><polygon points="365.6,797.5 369.5,800.4 371.8,797.9 368.0,795.0" fill="#2E6F8E" stroke="#2E6F8E" stroke-width="0.35"/><polygon points="369.5,800.4 373.3,803.2 375.7,800.8 371.8,797.9" fill="#31678D" stroke="#31678D" stroke-width="0.35"/><polygon points="373.3,803.2 377.2,806.0 379.5,803.8 375.7,800.8" fill="#35608D" stroke="#35608D" stroke-width="0.35"/><polygon points="377.2,806.0 381.0,809.2 383.3,807.1 379.5,803.8" fill="#39568B" stroke="#39568B" stroke-width="0.35"/><polygon points="381.0,809.2 384.9,812.4 387.2,810.4 383.3,807.1" fill="#3D4C89" stroke="#3D4C89" stroke-width="0.35"/><polygon points="384.9,812.4 388.7,815.8 391.0,813.9 387.2,810.4" fill="#414286" stroke="#414286" stroke-width="0.35"/><polygon points="388.7,815.8 392.6,819.2 394.8,817.4 391.0,813.9" fill="#44357F" stroke="#44357F" stroke-width="0.35"/><polygon points="392.6,819.2 396.4,822.3 398.7,820.7 394.8,817.4" fill="#472978" stroke="#472978" stroke-width="0.35"/><polygon points="396.4,822.3 400.3,824.8 402.5,823.3 398.7,820.7" fill="#471F70" stroke="#471F70" stroke-width="0.35"/><polygon points="400.3,824.8 404.1,827.3 406.3,825.9 402.5,823.3" fill="#461667" stroke="#461667" stroke-width="0.35"/><polygon points="404.1,827.3 408.0,828.9 410.2,827.5 406.3,825.9" fill="#460F61" stroke="#460F61" stroke-width="0.35"/><polygon points="408.0,828.9 411.8,830.5 414.0,829.1 410.2,827.5" fill="#450B5D" stroke="#450B5D" stroke-width="0.35"/><polygon points="411.8,830.5 415.7,831.6 417.8,830.2 414.0,829.1" fill="#45075A" stroke="#45075A" stroke-width="0.35"/><polygon points="415.7,831.6 419.5,832.3 421.7,830.9 417.8,830.2" fill="#450659" stroke="#450659" stroke-width="0.35"/><polygon points="419.5,832.3 423.3,833.0 425.5,831.5 421.7,830.9" fill="#450759" stroke="#450759" stroke-width="0.35"/><polygon points="328.4,776.8 332.3,777.8 334.8,774.5 331.0,773.6" fill="#25AA82" stroke="#25AA82" stroke-width="0.35"/><polygon points="332.3,777.8 336.2,779.8 338.7,776.6 334.8,774.5" fill="#22A784" stroke="#22A784" stroke-width="0.35"/><polygon points="336.2,779.8 340.0,782.7 342.5,779.5 338.7,776.6" fill="#22A286" stroke="#22A286" stroke-width="0.35"/><polygon points="340.0,782.7 343.9,785.5 346.4,782.4 342.5,779.5" fill="#219A89" stroke="#219A89" stroke-width="0.35"/><polygon points="343.9,785.5 347.8,788.4 350.2,785.4 346.4,782.4" fill="#21938B" stroke="#21938B" stroke-width="0.35"/><polygon points="347.8,788.4 351.6,791.3 354.1,788.4 350.2,785.4" fill="#238B8C" stroke="#238B8C" stroke-width="0.35"/><polygon points="351.6,791.3 355.5,794.2 357.9,791.5 354.1,788.4" fill="#26838D" stroke="#26838D" stroke-width="0.35"/><polygon points="355.5,794.2 359.4,797.2 361.8,794.5 357.9,791.5" fill="#297B8E" stroke="#297B8E" stroke-width="0.35"/><polygon points="359.4,797.2 363.2,800.1 365.6,797.5 361.8,794.5" fill="#2C738E" stroke="#2C738E" stroke-width="0.35"/><polygon points="363.2,800.1 367.1,802.8 369.5,800.4 365.6,797.5" fill="#306B8D" stroke="#306B8D" stroke-width="0.35"/><polygon points="367.1,802.8 371.0,805.6 373.3,803.2 369.5,800.4" fill="#33648D" stroke="#33648D" stroke-width="0.35"/><polygon points="371.0,805.6 374.8,808.3 377.2,806.0 373.3,803.2" fill="#365C8C" stroke="#365C8C" stroke-width="0.35"/><polygon points="374.8,808.3 378.7,811.4 381.0,809.2 377.2,806.0" fill="#3A538A" stroke="#3A538A" stroke-width="0.35"/><polygon points="378.7,811.4 382.6,814.5 384.9,812.4 381.0,809.2" fill="#3E4A88" stroke="#3E4A88" stroke-width="0.35"/><polygon points="382.6,814.5 386.4,817.6 388.7,815.8 384.9,812.4" fill="#423F84" stroke="#423F84" stroke-width="0.35"/><polygon points="386.4,817.6 390.3,820.9 392.6,819.2 388.7,815.8" fill="#45347E" stroke="#45347E" stroke-width="0.35"/><polygon points="390.3,820.9 394.1,823.9 396.4,822.3 392.6,819.2" fill="#472877" stroke="#472877" stroke-width="0.35"/><polygon points="394.1,823.9 398.0,826.3 400.3,824.8 396.4,822.3" fill="#471E70" stroke="#471E70" stroke-width="0.35"/><polygon points="398.0,826.3 401.9,828.7 404.1,827.3 400.3,824.8" fill="#461567" stroke="#461567" stroke-width="0.35"/><polygon points="401.9,828.7 405.7,830.3 408.0,828.9 404.1,827.3" fill="#460F61" stroke="#460F61" stroke-width="0.35"/><polygon points="405.7,830.3 409.6,831.9 411.8,830.5 408.0,828.9" fill="#450B5D" stroke="#450B5D" stroke-width="0.35"/><polygon points="409.6,831.9 413.5,833.0 415.7,831.6 411.8,830.5" fill="#45085A" stroke="#45085A" stroke-width="0.35"/><polygon points="413.5,833.0 417.3,833.8 419.5,832.3 415.7,831.6" fill="#450659" stroke="#450659" stroke-width="0.35"/><polygon points="417.3,833.8 421.2,834.5 423.3,833.0 419.5,832.3" fill="#450759" stroke="#450759" stroke-width="0.35"/><polygon points="325.9,780.0 329.8,781.1 332.3,777.8 328.4,776.8" fill="#22A485" stroke="#22A485" stroke-width="0.35"/><polygon points="329.8,781.1 333.7,783.1 336.2,779.8 332.3,777.8" fill="#22A186" stroke="#22A186" stroke-width="0.35"/><polygon points="333.7,783.1 337.6,785.9 340.0,782.7 336.2,779.8" fill="#219B88" stroke="#219B88" stroke-width="0.35"/><polygon points="337.6,785.9 341.4,788.6 343.9,785.5 340.0,782.7" fill="#21958B" stroke="#21958B" stroke-width="0.35"/><polygon points="341.4,788.6 345.3,791.4 347.8,788.4 343.9,785.5" fill="#228D8C" stroke="#228D8C" stroke-width="0.35"/><polygon points="345.3,791.4 349.2,794.2 351.6,791.3 347.8,788.4" fill="#25868D" stroke="#25868D" stroke-width="0.35"/><polygon points="349.2,794.2 353.1,797.0 355.5,794.2 351.6,791.3" fill="#287E8E" stroke="#287E8E" stroke-width="0.35"/><polygon points="353.1,797.0 357.0,799.9 359.4,797.2 355.5,794.2" fill="#2B768E" stroke="#2B768E" stroke-width="0.35"/><polygon points="357.0,799.9 360.8,802.7 363.2,800.1 359.4,797.2" fill="#2E6E8E" stroke="#2E6E8E" stroke-width="0.35"/><polygon points="360.8,802.7 364.7,805.3 367.1,802.8 363.2,800.1" fill="#31678D" stroke="#31678D" stroke-width="0.35"/><polygon points="364.7,805.3 368.6,807.9 371.0,805.6 367.1,802.8" fill="#35608D" stroke="#35608D" stroke-width="0.35"/><polygon points="368.6,807.9 372.5,810.6 374.8,808.3 371.0,805.6" fill="#38588C" stroke="#38588C" stroke-width="0.35"/><polygon points="372.5,810.6 376.4,813.5 378.7,811.4 374.8,808.3" fill="#3C508A" stroke="#3C508A" stroke-width="0.35"/><polygon points="376.4,813.5 380.2,816.5 382.6,814.5 378.7,811.4" fill="#404788" stroke="#404788" stroke-width="0.35"/><polygon points="380.2,816.5 384.1,819.5 386.4,817.6 382.6,814.5" fill="#433D83" stroke="#433D83" stroke-width="0.35"/><polygon points="384.1,819.5 388.0,822.6 390.3,820.9 386.4,817.6" fill="#45327D" stroke="#45327D" stroke-width="0.35"/><polygon points="388.0,822.6 391.9,825.4 394.1,823.9 390.3,820.9" fill="#472777" stroke="#472777" stroke-width="0.35"/><polygon points="391.9,825.4 395.8,827.8 398.0,826.3 394.1,823.9" fill="#471E6F" stroke="#471E6F" stroke-width="0.35"/><polygon points="395.8,827.8 399.7,830.1 401.9,828.7 398.0,826.3" fill="#461567" stroke="#461567" stroke-width="0.35"/><polygon points="399.7,830.1 403.5,831.7 405.7,830.3 401.9,828.7" fill="#460F61" stroke="#460F61" stroke-width="0.35"/><polygon points="403.5,831.7 407.4,833.2 409.6,831.9 405.7,830.3" fill="#450B5D" stroke="#450B5D" stroke-width="0.35"/><polygon points="407.4,833.2 411.3,834.4 413.5,833.0 409.6,831.9" fill="#45085A" stroke="#45085A" stroke-width="0.35"/><polygon points="411.3,834.4 415.2,835.2 417.3,833.8 413.5,833.0" fill="#450659" stroke="#450659" stroke-width="0.35"/><polygon points="415.2,835.2 419.1,835.9 421.2,834.5 417.3,833.8" fill="#450659" stroke="#450659" stroke-width="0.35"/><polygon points="323.4,783.2 327.3,784.4 329.8,781.1 325.9,780.0" fill="#229E88" stroke="#229E88" stroke-width="0.35"/><polygon points="327.3,784.4 331.2,786.4 333.7,783.1 329.8,781.1" fill="#219B89" stroke="#219B89" stroke-width="0.35"/><polygon points="331.2,786.4 335.1,789.1 337.6,785.9 333.7,783.1" fill="#21958B" stroke="#21958B" stroke-width="0.35"/><polygon points="335.1,789.1 339.0,791.7 341.4,788.6 337.6,785.9" fill="#228F8C" stroke="#228F8C" stroke-width="0.35"/><polygon points="339.0,791.7 342.9,794.4 345.3,791.4 341.4,788.6" fill="#24878D" stroke="#24878D" stroke-width="0.35"/><polygon points="342.9,794.4 346.8,797.1 349.2,794.2 345.3,791.4" fill="#27808D" stroke="#27808D" stroke-width="0.35"/><polygon points="346.8,797.1 350.7,799.8 353.1,797.0 349.2,794.2" fill="#2A798E" stroke="#2A798E" stroke-width="0.35"/><polygon points="350.7,799.8 354.6,802.6 357.0,799.9 353.1,797.0" fill="#2D718E" stroke="#2D718E" stroke-width="0.35"/><polygon points="354.6,802.6 358.5,805.2 360.8,802.7 357.0,799.9" fill="#306A8D" stroke="#306A8D" stroke-width="0.35"/><polygon points="358.5,805.2 362.4,807.8 364.7,805.3 360.8,802.7" fill="#33638D" stroke="#33638D" stroke-width="0.35"/><polygon points="362.4,807.8 366.3,810.3 368.6,807.9 364.7,805.3" fill="#365C8C" stroke="#365C8C" stroke-width="0.35"/><polygon points="366.3,810.3 370.2,812.9 372.5,810.6 368.6,807.9" fill="#3A558B" stroke="#3A558B" stroke-width="0.35"/><polygon points="370.2,812.9 374.0,815.7 376.4,813.5 372.5,810.6" fill="#3D4D89" stroke="#3D4D89" stroke-width="0.35"/><polygon points="374.0,815.7 377.9,818.5 380.2,816.5 376.4,813.5" fill="#414487" stroke="#414487" stroke-width="0.35"/><polygon points="377.9,818.5 381.8,821.4 384.1,819.5 380.2,816.5" fill="#433A82" stroke="#433A82" stroke-width="0.35"/><polygon points="381.8,821.4 385.7,824.3 388.0,822.6 384.1,819.5" fill="#45307C" stroke="#45307C" stroke-width="0.35"/><polygon points="385.7,824.3 389.6,827.0 391.9,825.4 388.0,822.6" fill="#482676" stroke="#482676" stroke-width="0.35"/><polygon points="389.6,827.0 393.5,829.3 395.8,827.8 391.9,825.4" fill="#471D6E" stroke="#471D6E" stroke-width="0.35"/><polygon points="393.5,829.3 397.4,831.5 399.7,830.1 395.8,827.8" fill="#461567" stroke="#461567" stroke-width="0.35"/><polygon points="397.4,831.5 401.3,833.1 403.5,831.7 399.7,830.1" fill="#460F61" stroke="#460F61" stroke-width="0.35"/><polygon points="401.3,833.1 405.2,834.6 407.4,833.2 403.5,831.7" fill="#450B5D" stroke="#450B5D" stroke-width="0.35"/><polygon points="405.2,834.6 409.1,835.8 411.3,834.4 407.4,833.2" fill="#45085A" stroke="#45085A" stroke-width="0.35"/><polygon points="409.1,835.8 413.0,836.7 415.2,835.2 411.3,834.4" fill="#450659" stroke="#450659" stroke-width="0.35"/><polygon points="413.0,836.7 416.9,837.4 419.1,835.9 415.2,835.2" fill="#450659" stroke="#450659" stroke-width="0.35"/><polygon points="320.9,786.5 324.8,787.7 327.3,784.4 323.4,783.2" fill="#21978A" stroke="#21978A" stroke-width="0.35"/><polygon points="324.8,787.7 328.7,789.7 331.2,786.4 327.3,784.4" fill="#21948B" stroke="#21948B" stroke-width="0.35"/><polygon points="328.7,789.7 332.6,792.3 335.1,789.1 331.2,786.4" fill="#228F8C" stroke="#228F8C" stroke-width="0.35"/><polygon points="332.6,792.3 336.5,794.9 339.0,791.7 335.1,789.1" fill="#24888D" stroke="#24888D" stroke-width="0.35"/><polygon points="336.5,794.9 340.4,797.4 342.9,794.4 339.0,791.7" fill="#27818D" stroke="#27818D" stroke-width="0.35"/><polygon points="340.4,797.4 344.3,800.0 346.8,797.1 342.9,794.4" fill="#297B8E" stroke="#297B8E" stroke-width="0.35"/><polygon points="344.3,800.0 348.2,802.6 350.7,799.8 346.8,797.1" fill="#2C748E" stroke="#2C748E" stroke-width="0.35"/><polygon points="348.2,802.6 352.2,805.3 354.6,802.6 350.7,799.8" fill="#2F6C8E" stroke="#2F6C8E" stroke-width="0.35"/><polygon points="352.2,805.3 356.1,807.8 358.5,805.2 354.6,802.6" fill="#32668D" stroke="#32668D" stroke-width="0.35"/><polygon points="356.1,807.8 360.0,810.3 362.4,807.8 358.5,805.2" fill="#355F8D" stroke="#355F8D" stroke-width="0.35"/><polygon points="360.0,810.3 363.9,812.7 366.3,810.3 362.4,807.8" fill="#38588B" stroke="#38588B" stroke-width="0.35"/><polygon points="363.9,812.7 367.8,815.2 370.2,812.9 366.3,810.3" fill="#3B518A" stroke="#3B518A" stroke-width="0.35"/><polygon points="367.8,815.2 371.7,817.9 374.0,815.7 370.2,812.9" fill="#3E4A88" stroke="#3E4A88" stroke-width="0.35"/><polygon points="371.7,817.9 375.6,820.5 377.9,818.5 374.0,815.7" fill="#424186" stroke="#424186" stroke-width="0.35"/><polygon points="375.6,820.5 379.6,823.3 381.8,821.4 377.9,818.5" fill="#443880" stroke="#443880" stroke-width="0.35"/><polygon points="379.6,823.3 383.5,826.0 385.7,824.3 381.8,821.4" fill="#462E7B" stroke="#462E7B" stroke-width="0.35"/><polygon points="383.5,826.0 387.4,828.6 389.6,827.0 385.7,824.3" fill="#482575" stroke="#482575" stroke-width="0.35"/><polygon points="387.4,828.6 391.3,830.8 393.5,829.3 389.6,827.0" fill="#471C6E" stroke="#471C6E" stroke-width="0.35"/><polygon points="391.3,830.8 395.2,832.9 397.4,831.5 393.5,829.3" fill="#461567" stroke="#461567" stroke-width="0.35"/><polygon points="395.2,832.9 399.1,834.5 401.3,833.1 397.4,831.5" fill="#460F61" stroke="#460F61" stroke-width="0.35"/><polygon points="399.1,834.5 403.0,836.0 405.2,834.6 401.3,833.1" fill="#450B5E" stroke="#450B5E" stroke-width="0.35"/><polygon points="403.0,836.0 406.9,837.2 409.1,835.8 405.2,834.6" fill="#45085B" stroke="#45085B" stroke-width="0.35"/><polygon points="406.9,837.2 410.9,838.1 413.0,836.7 409.1,835.8" fill="#450759" stroke="#450759" stroke-width="0.35"/><polygon points="410.9,838.1 414.8,838.9 416.9,837.4 413.0,836.7" fill="#450659" stroke="#450659" stroke-width="0.35"/><polygon points="318.3,789.8 322.3,791.1 324.8,787.7 320.9,786.5" fill="#21918C" stroke="#21918C" stroke-width="0.35"/><polygon points="322.3,791.1 326.2,793.1 328.7,789.7 324.8,787.7" fill="#228E8C" stroke="#228E8C" stroke-width="0.35"/><polygon points="326.2,793.1 330.1,795.6 332.6,792.3 328.7,789.7" fill="#24888D" stroke="#24888D" stroke-width="0.35"/><polygon points="330.1,795.6 334.0,798.0 336.5,794.9 332.6,792.3" fill="#27828D" stroke="#27828D" stroke-width="0.35"/><polygon points="334.0,798.0 338.0,800.5 340.4,797.4 336.5,794.9" fill="#297B8E" stroke="#297B8E" stroke-width="0.35"/><polygon points="338.0,800.5 341.9,803.0 344.3,800.0 340.4,797.4" fill="#2B758E" stroke="#2B758E" stroke-width="0.35"/><polygon points="341.9,803.0 345.8,805.5 348.2,802.6 344.3,800.0" fill="#2E6E8E" stroke="#2E6E8E" stroke-width="0.35"/><polygon points="345.8,805.5 349.8,808.0 352.2,805.3 348.2,802.6" fill="#31688D" stroke="#31688D" stroke-width="0.35"/><polygon points="349.8,808.0 353.7,810.4 356.1,807.8 352.2,805.3" fill="#34618D" stroke="#34618D" stroke-width="0.35"/><polygon points="353.7,810.4 357.6,812.8 360.0,810.3 356.1,807.8" fill="#375A8C" stroke="#375A8C" stroke-width="0.35"/><polygon points="357.6,812.8 361.5,815.2 363.9,812.7 360.0,810.3" fill="#3A548B" stroke="#3A548B" stroke-width="0.35"/><polygon points="361.5,815.2 365.5,817.5 367.8,815.2 363.9,812.7" fill="#3D4D89" stroke="#3D4D89" stroke-width="0.35"/><polygon points="365.5,817.5 369.4,820.0 371.7,817.9 367.8,815.2" fill="#404688" stroke="#404688" stroke-width="0.35"/><polygon points="369.4,820.0 373.3,822.6 375.6,820.5 371.7,817.9" fill="#423E84" stroke="#423E84" stroke-width="0.35"/><polygon points="373.3,822.6 377.3,825.2 379.6,823.3 375.6,820.5" fill="#44357F" stroke="#44357F" stroke-width="0.35"/><polygon points="377.3,825.2 381.2,827.8 383.5,826.0 379.6,823.3" fill="#462C7A" stroke="#462C7A" stroke-width="0.35"/><polygon points="381.2,827.8 385.1,830.2 387.4,828.6 383.5,826.0" fill="#482475" stroke="#482475" stroke-width="0.35"/><polygon points="385.1,830.2 389.0,832.3 391.3,830.8 387.4,828.6" fill="#471C6D" stroke="#471C6D" stroke-width="0.35"/><polygon points="389.0,832.3 393.0,834.4 395.2,832.9 391.3,830.8" fill="#461567" stroke="#461567" stroke-width="0.35"/><polygon points="393.0,834.4 396.9,835.9 399.1,834.5 395.2,832.9" fill="#460F61" stroke="#460F61" stroke-width="0.35"/><polygon points="396.9,835.9 400.8,837.4 403.0,836.0 399.1,834.5" fill="#450B5E" stroke="#450B5E" stroke-width="0.35"/><polygon points="400.8,837.4 404.8,838.6 406.9,837.2 403.0,836.0" fill="#45085B" stroke="#45085B" stroke-width="0.35"/><polygon points="404.8,838.6 408.7,839.5 410.9,838.1 406.9,837.2" fill="#450759" stroke="#450759" stroke-width="0.35"/><polygon points="408.7,839.5 412.6,840.4 414.8,838.9 410.9,838.1" fill="#450659" stroke="#450659" stroke-width="0.35"/><polygon points="315.8,793.1 319.7,794.5 322.3,791.1 318.3,789.8" fill="#248A8D" stroke="#248A8D" stroke-width="0.35"/><polygon points="319.7,794.5 323.7,796.5 326.2,793.1 322.3,791.1" fill="#25868D" stroke="#25868D" stroke-width="0.35"/><polygon points="323.7,796.5 327.6,798.8 330.1,795.6 326.2,793.1" fill="#27818D" stroke="#27818D" stroke-width="0.35"/><polygon points="327.6,798.8 331.6,801.2 334.0,798.0 330.1,795.6" fill="#297B8E" stroke="#297B8E" stroke-width="0.35"/><polygon points="331.6,801.2 335.5,803.5 338.0,800.5 334.0,798.0" fill="#2B758E" stroke="#2B758E" stroke-width="0.35"/><polygon points="335.5,803.5 339.5,805.9 341.9,803.0 338.0,800.5" fill="#2E6F8E" stroke="#2E6F8E" stroke-width="0.35"/><polygon points="339.5,805.9 343.4,808.3 345.8,805.5 341.9,803.0" fill="#31698D" stroke="#31698D" stroke-width="0.35"/><polygon points="343.4,808.3 347.4,810.7 349.8,808.0 345.8,805.5" fill="#33628D" stroke="#33628D" stroke-width="0.35"/><polygon points="347.4,810.7 351.3,813.1 353.7,810.4 349.8,808.0" fill="#365C8C" stroke="#365C8C" stroke-width="0.35"/><polygon points="351.3,813.1 355.2,815.3 357.6,812.8 353.7,810.4" fill="#39568B" stroke="#39568B" stroke-width="0.35"/><polygon points="355.2,815.3 359.2,817.6 361.5,815.2 357.6,812.8" fill="#3C508A" stroke="#3C508A" stroke-width="0.35"/><polygon points="359.2,817.6 363.1,819.8 365.5,817.5 361.5,815.2" fill="#3F4A88" stroke="#3F4A88" stroke-width="0.35"/><polygon points="363.1,819.8 367.1,822.2 369.4,820.0 365.5,817.5" fill="#414386" stroke="#414386" stroke-width="0.35"/><polygon points="367.1,822.2 371.0,824.6 373.3,822.6 369.4,820.0" fill="#433B82" stroke="#433B82" stroke-width="0.35"/><polygon points="371.0,824.6 375.0,827.0 377.3,825.2 373.3,822.6" fill="#45337D" stroke="#45337D" stroke-width="0.35"/><polygon points="375.0,827.0 378.9,829.5 381.2,827.8 377.3,825.2" fill="#472B79" stroke="#472B79" stroke-width="0.35"/><polygon points="378.9,829.5 382.9,831.8 385.1,830.2 381.2,827.8" fill="#482274" stroke="#482274" stroke-width="0.35"/><polygon points="382.9,831.8 386.8,833.8 389.0,832.3 385.1,830.2" fill="#471B6C" stroke="#471B6C" stroke-width="0.35"/><polygon points="386.8,833.8 390.8,835.8 393.0,834.4 389.0,832.3" fill="#461466" stroke="#461466" stroke-width="0.35"/><polygon points="390.8,835.8 394.7,837.3 396.9,835.9 393.0,834.4" fill="#460F61" stroke="#460F61" stroke-width="0.35"/><polygon points="394.7,837.3 398.6,838.8 400.8,837.4 396.9,835.9" fill="#450B5E" stroke="#450B5E" stroke-width="0.35"/><polygon points="398.6,838.8 402.6,840.0 404.8,838.6 400.8,837.4" fill="#45085B" stroke="#45085B" stroke-width="0.35"/><polygon points="402.6,840.0 406.5,841.0 408.7,839.5 404.8,838.6" fill="#450759" stroke="#450759" stroke-width="0.35"/><polygon points="406.5,841.0 410.5,841.8 412.6,840.4 408.7,839.5" fill="#450658" stroke="#450658" stroke-width="0.35"/><polygon points="313.3,796.4 317.2,797.9 319.7,794.5 315.8,793.1" fill="#26838D" stroke="#26838D" stroke-width="0.35"/><polygon points="317.2,797.9 321.2,799.9 323.7,796.5 319.7,794.5" fill="#277F8D" stroke="#277F8D" stroke-width="0.35"/><polygon points="321.2,799.9 325.1,802.1 327.6,798.8 323.7,796.5" fill="#297A8E" stroke="#297A8E" stroke-width="0.35"/><polygon points="325.1,802.1 329.1,804.4 331.6,801.2 327.6,798.8" fill="#2C748E" stroke="#2C748E" stroke-width="0.35"/><polygon points="329.1,804.4 333.1,806.6 335.5,803.5 331.6,801.2" fill="#2E6F8E" stroke="#2E6F8E" stroke-width="0.35"/><polygon points="333.1,806.6 337.0,808.9 339.5,805.9 335.5,803.5" fill="#31698D" stroke="#31698D" stroke-width="0.35"/><polygon points="337.0,808.9 341.0,811.2 343.4,808.3 339.5,805.9" fill="#33638D" stroke="#33638D" stroke-width="0.35"/><polygon points="341.0,811.2 345.0,813.5 347.4,810.7 343.4,808.3" fill="#365D8D" stroke="#365D8D" stroke-width="0.35"/><polygon points="345.0,813.5 348.9,815.7 351.3,813.1 347.4,810.7" fill="#39578B" stroke="#39578B" stroke-width="0.35"/><polygon points="348.9,815.7 352.9,817.9 355.2,815.3 351.3,813.1" fill="#3B518A" stroke="#3B518A" stroke-width="0.35"/><polygon points="352.9,817.9 356.8,820.0 359.2,817.6 355.2,815.3" fill="#3E4B89" stroke="#3E4B89" stroke-width="0.35"/><polygon points="356.8,820.0 360.8,822.2 363.1,819.8 359.2,817.6" fill="#404687" stroke="#404687" stroke-width="0.35"/><polygon points="360.8,822.2 364.8,824.4 367.1,822.2 363.1,819.8" fill="#423F84" stroke="#423F84" stroke-width="0.35"/><polygon points="364.8,824.4 368.7,826.7 371.0,824.6 367.1,822.2" fill="#443880" stroke="#443880" stroke-width="0.35"/><polygon points="368.7,826.7 372.7,829.0 375.0,827.0 371.0,824.6" fill="#45307C" stroke="#45307C" stroke-width="0.35"/><polygon points="372.7,829.0 376.6,831.2 378.9,829.5 375.0,827.0" fill="#472978" stroke="#472978" stroke-width="0.35"/><polygon points="376.6,831.2 380.6,833.4 382.9,831.8 378.9,829.5" fill="#482172" stroke="#482172" stroke-width="0.35"/><polygon points="380.6,833.4 384.6,835.3 386.8,833.8 382.9,831.8" fill="#471A6C" stroke="#471A6C" stroke-width="0.35"/><polygon points="384.6,835.3 388.5,837.2 390.8,835.8 386.8,833.8" fill="#461466" stroke="#461466" stroke-width="0.35"/><polygon points="388.5,837.2 392.5,838.7 394.7,837.3 390.8,835.8" fill="#460F62" stroke="#460F62" stroke-width="0.35"/><polygon points="392.5,838.7 396.4,840.1 398.6,838.8 394.7,837.3" fill="#450C5E" stroke="#450C5E" stroke-width="0.35"/><polygon points="396.4,840.1 400.4,841.4 402.6,840.0 398.6,838.8" fill="#45085B" stroke="#45085B" stroke-width="0.35"/><polygon points="400.4,841.4 404.4,842.4 406.5,841.0 402.6,840.0" fill="#450759" stroke="#450759" stroke-width="0.35"/><polygon points="404.4,842.4 408.3,843.3 410.5,841.8 406.5,841.0" fill="#450658" stroke="#450658" stroke-width="0.35"/><polygon points="310.7,799.8 314.7,801.4 317.2,797.9 313.3,796.4" fill="#297B8E" stroke="#297B8E" stroke-width="0.35"/><polygon points="314.7,801.4 318.7,803.3 321.2,799.9 317.2,797.9" fill="#2A788E" stroke="#2A788E" stroke-width="0.35"/><polygon points="318.7,803.3 322.7,805.5 325.1,802.1 321.2,799.9" fill="#2C738E" stroke="#2C738E" stroke-width="0.35"/><polygon points="322.7,805.5 326.6,807.6 329.1,804.4 325.1,802.1" fill="#2F6E8E" stroke="#2F6E8E" stroke-width="0.35"/><polygon points="326.6,807.6 330.6,809.8 333.1,806.6 329.1,804.4" fill="#31688D" stroke="#31688D" stroke-width="0.35"/><polygon points="330.6,809.8 334.6,811.9 337.0,808.9 333.1,806.6" fill="#33638D" stroke="#33638D" stroke-width="0.35"/><polygon points="334.6,811.9 338.6,814.1 341.0,811.2 337.0,808.9" fill="#365D8D" stroke="#365D8D" stroke-width="0.35"/><polygon points="338.6,814.1 342.6,816.3 345.0,813.5 341.0,811.2" fill="#38588B" stroke="#38588B" stroke-width="0.35"/><polygon points="342.6,816.3 346.5,818.4 348.9,815.7 345.0,813.5" fill="#3B528A" stroke="#3B528A" stroke-width="0.35"/><polygon points="346.5,818.4 350.5,820.4 352.9,817.9 348.9,815.7" fill="#3D4C89" stroke="#3D4C89" stroke-width="0.35"/><polygon points="350.5,820.4 354.5,822.5 356.8,820.0 352.9,817.9" fill="#404788" stroke="#404788" stroke-width="0.35"/><polygon points="354.5,822.5 358.5,824.5 360.8,822.2 356.8,820.0" fill="#424186" stroke="#424186" stroke-width="0.35"/><polygon points="358.5,824.5 362.4,826.6 364.8,824.4 360.8,822.2" fill="#433B82" stroke="#433B82" stroke-width="0.35"/><polygon points="362.4,826.6 366.4,828.7 368.7,826.7 364.8,824.4" fill="#44347E" stroke="#44347E" stroke-width="0.35"/><polygon points="366.4,828.7 370.4,830.9 372.7,829.0 368.7,826.7" fill="#462E7A" stroke="#462E7A" stroke-width="0.35"/><polygon points="370.4,830.9 374.4,833.0 376.6,831.2 372.7,829.0" fill="#472777" stroke="#472777" stroke-width="0.35"/><polygon points="374.4,833.0 378.3,835.0 380.6,833.4 376.6,831.2" fill="#482071" stroke="#482071" stroke-width="0.35"/><polygon points="378.3,835.0 382.3,836.8 384.6,835.3 380.6,833.4" fill="#471A6B" stroke="#471A6B" stroke-width="0.35"/><polygon points="382.3,836.8 386.3,838.6 388.5,837.2 384.6,835.3" fill="#461466" stroke="#461466" stroke-width="0.35"/><polygon points="386.3,838.6 390.3,840.1 392.5,838.7 388.5,837.2" fill="#460F62" stroke="#460F62" stroke-width="0.35"/><polygon points="390.3,840.1 394.3,841.5 396.4,840.1 392.5,838.7" fill="#450C5E" stroke="#450C5E" stroke-width="0.35"/><polygon points="394.3,841.5 398.2,842.8 400.4,841.4 396.4,840.1" fill="#45095B" stroke="#45095B" stroke-width="0.35"/><polygon points="398.2,842.8 402.2,843.9 404.4,842.4 400.4,841.4" fill="#450759" stroke="#450759" stroke-width="0.35"/><polygon points="402.2,843.9 406.2,844.8 408.3,843.3 404.4,842.4" fill="#440558" stroke="#440558" stroke-width="0.35"/><polygon points="308.2,803.2 312.2,804.9 314.7,801.4 310.7,799.8" fill="#2C748E" stroke="#2C748E" stroke-width="0.35"/><polygon points="312.2,804.9 316.2,806.8 318.7,803.3 314.7,801.4" fill="#2D708E" stroke="#2D708E" stroke-width="0.35"/><polygon points="316.2,806.8 320.2,808.9 322.7,805.5 318.7,803.3" fill="#2F6C8E" stroke="#2F6C8E" stroke-width="0.35"/><polygon points="320.2,808.9 324.2,810.9 326.6,807.6 322.7,805.5" fill="#32678D" stroke="#32678D" stroke-width="0.35"/><polygon points="324.2,810.9 328.2,813.0 330.6,809.8 326.6,807.6" fill="#34628D" stroke="#34628D" stroke-width="0.35"/><polygon points="328.2,813.0 332.2,815.0 334.6,811.9 330.6,809.8" fill="#365D8C" stroke="#365D8C" stroke-width="0.35"/><polygon points="332.2,815.0 336.2,817.1 338.6,814.1 334.6,811.9" fill="#38578B" stroke="#38578B" stroke-width="0.35"/><polygon points="336.2,817.1 340.1,819.1 342.6,816.3 338.6,814.1" fill="#3B528A" stroke="#3B528A" stroke-width="0.35"/><polygon points="340.1,819.1 344.1,821.1 346.5,818.4 342.6,816.3" fill="#3D4D89" stroke="#3D4D89" stroke-width="0.35"/><polygon points="344.1,821.1 348.1,823.0 350.5,820.4 346.5,818.4" fill="#3F4888" stroke="#3F4888" stroke-width="0.35"/><polygon points="348.1,823.0 352.1,825.0 354.5,822.5 350.5,820.4" fill="#414386" stroke="#414386" stroke-width="0.35"/><polygon points="352.1,825.0 356.1,826.9 358.5,824.5 354.5,822.5" fill="#433D83" stroke="#433D83" stroke-width="0.35"/><polygon points="356.1,826.9 360.1,828.9 362.4,826.6 358.5,824.5" fill="#443780" stroke="#443780" stroke-width="0.35"/><polygon points="360.1,828.9 364.1,830.8 366.4,828.7 362.4,826.6" fill="#45317C" stroke="#45317C" stroke-width="0.35"/><polygon points="364.1,830.8 368.1,832.8 370.4,830.9 366.4,828.7" fill="#472B79" stroke="#472B79" stroke-width="0.35"/><polygon points="368.1,832.8 372.1,834.7 374.4,833.0 370.4,830.9" fill="#482575" stroke="#482575" stroke-width="0.35"/><polygon points="372.1,834.7 376.1,836.6 378.3,835.0 374.4,833.0" fill="#471F70" stroke="#471F70" stroke-width="0.35"/><polygon points="376.1,836.6 380.1,838.3 382.3,836.8 378.3,835.0" fill="#47196B" stroke="#47196B" stroke-width="0.35"/><polygon points="380.1,838.3 384.1,840.0 386.3,838.6 382.3,836.8" fill="#461466" stroke="#461466" stroke-width="0.35"/><polygon points="384.1,840.0 388.1,841.5 390.3,840.1 386.3,838.6" fill="#460F62" stroke="#460F62" stroke-width="0.35"/><polygon points="388.1,841.5 392.1,842.9 394.3,841.5 390.3,840.1" fill="#450C5E" stroke="#450C5E" stroke-width="0.35"/><polygon points="392.1,842.9 396.1,844.2 398.2,842.8 394.3,841.5" fill="#45095B" stroke="#45095B" stroke-width="0.35"/><polygon points="396.1,844.2 400.0,845.3 402.2,843.9 398.2,842.8" fill="#450759" stroke="#450759" stroke-width="0.35"/><polygon points="400.0,845.3 404.0,846.3 406.2,844.8 402.2,843.9" fill="#440558" stroke="#440558" stroke-width="0.35"/><polygon points="305.7,806.7 309.7,808.5 312.2,804.9 308.2,803.2" fill="#2F6C8E" stroke="#2F6C8E" stroke-width="0.35"/><polygon points="309.7,808.5 313.7,810.4 316.2,806.8 312.2,804.9" fill="#31688D" stroke="#31688D" stroke-width="0.35"/><polygon points="313.7,810.4 317.7,812.3 320.2,808.9 316.2,806.8" fill="#33648D" stroke="#33648D" stroke-width="0.35"/><polygon points="317.7,812.3 321.7,814.3 324.2,810.9 320.2,808.9" fill="#355F8D" stroke="#355F8D" stroke-width="0.35"/><polygon points="321.7,814.3 325.7,816.2 328.2,813.0 324.2,810.9" fill="#375B8C" stroke="#375B8C" stroke-width="0.35"/><polygon points="325.7,816.2 329.7,818.2 332.2,815.0 328.2,813.0" fill="#39568B" stroke="#39568B" stroke-width="0.35"/><polygon points="329.7,818.2 333.7,820.1 336.2,817.1 332.2,815.0" fill="#3B518A" stroke="#3B518A" stroke-width="0.35"/><polygon points="333.7,820.1 337.7,822.0 340.1,819.1 336.2,817.1" fill="#3D4C89" stroke="#3D4C89" stroke-width="0.35"/><polygon points="337.7,822.0 341.8,823.9 344.1,821.1 340.1,819.1" fill="#404788" stroke="#404788" stroke-width="0.35"/><polygon points="341.8,823.9 345.8,825.7 348.1,823.0 344.1,821.1" fill="#414286" stroke="#414286" stroke-width="0.35"/><polygon points="345.8,825.7 349.8,827.5 352.1,825.0 348.1,823.0" fill="#433D83" stroke="#433D83" stroke-width="0.35"/><polygon points="349.8,827.5 353.8,829.3 356.1,826.9 352.1,825.0" fill="#443880" stroke="#443880" stroke-width="0.35"/><polygon points="353.8,829.3 357.8,831.2 360.1,828.9 356.1,826.9" fill="#45337D" stroke="#45337D" stroke-width="0.35"/><polygon points="357.8,831.2 361.8,833.0 364.1,830.8 360.1,828.9" fill="#462D7A" stroke="#462D7A" stroke-width="0.35"/><polygon points="361.8,833.0 365.8,834.7 368.1,832.8 364.1,830.8" fill="#472877" stroke="#472877" stroke-width="0.35"/><polygon points="365.8,834.7 369.8,836.5 372.1,834.7 368.1,832.8" fill="#482374" stroke="#482374" stroke-width="0.35"/><polygon points="369.8,836.5 373.8,838.2 376.1,836.6 372.1,834.7" fill="#471D6F" stroke="#471D6F" stroke-width="0.35"/><polygon points="373.8,838.2 377.8,839.9 380.1,838.3 376.1,836.6" fill="#47186A" stroke="#47186A" stroke-width="0.35"/><polygon points="377.8,839.9 381.8,841.4 384.1,840.0 380.1,838.3" fill="#461465" stroke="#461465" stroke-width="0.35"/><polygon points="381.8,841.4 385.9,842.9 388.1,841.5 384.1,840.0" fill="#461062" stroke="#461062" stroke-width="0.35"/><polygon points="385.9,842.9 389.9,844.3 392.1,842.9 388.1,841.5" fill="#450C5E" stroke="#450C5E" stroke-width="0.35"/><polygon points="389.9,844.3 393.9,845.6 396.1,844.2 392.1,842.9" fill="#45095C" stroke="#45095C" stroke-width="0.35"/><polygon points="393.9,845.6 397.9,846.7 400.0,845.3 396.1,844.2" fill="#450759" stroke="#450759" stroke-width="0.35"/><polygon points="397.9,846.7 401.9,847.8 404.0,846.3 400.0,845.3" fill="#440558" stroke="#440558" stroke-width="0.35"/><polygon points="303.1,810.5 307.2,812.4 309.7,808.5 305.7,806.7" fill="#33648D" stroke="#33648D" stroke-width="0.35"/><polygon points="307.2,812.4 311.2,814.2 313.7,810.4 309.7,808.5" fill="#35608D" stroke="#35608D" stroke-width="0.35"/><polygon points="311.2,814.2 315.2,816.1 317.7,812.3 313.7,810.4" fill="#375C8C" stroke="#375C8C" stroke-width="0.35"/><polygon points="315.2,816.1 319.2,817.9 321.7,814.3 317.7,812.3" fill="#39578B" stroke="#39578B" stroke-width="0.35"/><polygon points="319.2,817.9 323.3,819.7 325.7,816.2 321.7,814.3" fill="#3B538A" stroke="#3B538A" stroke-width="0.35"/><polygon points="323.3,819.7 327.3,821.5 329.7,818.2 325.7,816.2" fill="#3C4E89" stroke="#3C4E89" stroke-width="0.35"/><polygon points="327.3,821.5 331.3,823.3 333.7,820.1 329.7,818.2" fill="#3E4A88" stroke="#3E4A88" stroke-width="0.35"/><polygon points="331.3,823.3 335.3,825.0 337.7,822.0 333.7,820.1" fill="#404687" stroke="#404687" stroke-width="0.35"/><polygon points="335.3,825.0 339.4,826.8 341.8,823.9 337.7,822.0" fill="#424185" stroke="#424185" stroke-width="0.35"/><polygon points="339.4,826.8 343.4,828.5 345.8,825.7 341.8,823.9" fill="#433C83" stroke="#433C83" stroke-width="0.35"/><polygon points="343.4,828.5 347.4,830.2 349.8,827.5 345.8,825.7" fill="#443780" stroke="#443780" stroke-width="0.35"/><polygon points="347.4,830.2 351.4,831.9 353.8,829.3 349.8,827.5" fill="#45337D" stroke="#45337D" stroke-width="0.35"/><polygon points="351.4,831.9 355.5,833.5 357.8,831.2 353.8,829.3" fill="#462E7B" stroke="#462E7B" stroke-width="0.35"/><polygon points="355.5,833.5 359.5,835.2 361.8,833.0 357.8,831.2" fill="#472978" stroke="#472978" stroke-width="0.35"/><polygon points="359.5,835.2 363.5,836.8 365.8,834.7 361.8,833.0" fill="#482576" stroke="#482576" stroke-width="0.35"/><polygon points="363.5,836.8 367.5,838.3 369.8,836.5 365.8,834.7" fill="#482071" stroke="#482071" stroke-width="0.35"/><polygon points="367.5,838.3 371.6,839.9 373.8,838.2 369.8,836.5" fill="#471C6D" stroke="#471C6D" stroke-width="0.35"/><polygon points="371.6,839.9 375.6,841.4 377.8,839.9 373.8,838.2" fill="#471769" stroke="#471769" stroke-width="0.35"/><polygon points="375.6,841.4 379.6,842.8 381.8,841.4 377.8,839.9" fill="#461365" stroke="#461365" stroke-width="0.35"/><polygon points="379.6,842.8 383.6,844.3 385.9,842.9 381.8,841.4" fill="#461062" stroke="#461062" stroke-width="0.35"/><polygon points="383.6,844.3 387.7,845.6 389.9,844.3 385.9,842.9" fill="#450C5F" stroke="#450C5F" stroke-width="0.35"/><polygon points="387.7,845.6 391.7,847.0 393.9,845.6 389.9,844.3" fill="#45095C" stroke="#45095C" stroke-width="0.35"/><polygon points="391.7,847.0 395.7,848.2 397.9,846.7 393.9,845.6" fill="#450759" stroke="#450759" stroke-width="0.35"/><polygon points="395.7,848.2 399.8,849.2 401.9,847.8 397.9,846.7" fill="#440557" stroke="#440557" stroke-width="0.35"/>
<g font-size="4.4" fill="#3A3A3A"><text x="470.9" y="752.6">175</text><text x="470.3" y="762.4">150</text><text x="470.3" y="771.9">125</text><text x="469.7" y="781.9">100 GSV</text><text x="469.7" y="790.8">75</text><text x="469.2" y="799.8">50</text><text x="469.2" y="808.9">25</text><text x="469.7" y="817.7">0</text><text x="299.1" y="846.9">0.25</text><text x="312.4" y="849.8">0.50</text><text x="326.3" y="852.7">0.75</text><text x="339.6" y="855.3">1.00</text><text x="353.5" y="858.5">1.25</text><text x="367.4" y="861.7">1.50</text><text x="381.2" y="864.8">1.75</text><text x="410.2" y="864.3">100</text><text x="419.4" y="857.9">200</text><text x="427.5" y="851.5">300</text><text x="436.2" y="845.2">400</text><text x="445.5" y="838.8">500</text><text x="453.0" y="833.6">600</text><text x="461.1" y="827.8">700</text><text x="324.0" y="856.7" transform="rotate(14 324.0 856.7)">Concentration</text><text x="442.0" y="852.7" transform="rotate(-38 442.0 852.7)">Light</text></g>
</g>
<g transform="translate(403.1,894.9) rotate(0.00)"><rect x="-131.7" y="-22.9" width="263.4" height="45.7" fill="none" stroke="#548235" stroke-width="1.2"/><text x="0" y="10.0" font-size="27.3" fill="#548235" text-anchor="middle" textLength="217.5" lengthAdjust="spacingAndGlyphs">Pre-trained LDPM</text></g>
<path d="M180.1,948.1 Q202.8,897.9 242.7,869.0 L243.9,868.0" fill="none" stroke="#548235" stroke-width="9.5"/><polygon points="263.8,851.0 251.5,879.2 233.9,858.7" fill="#548235"/>
<text transform="translate(144.5,954.2) rotate(-51.6)" font-size="27" fill="#548235">Concentration</text>
<text transform="translate(218.8,949.1) rotate(-51.3)" font-size="27" fill="#548235">Light</text>
<path d="M508.5,784.2 Q548.6,787.0 579.2,800.5 L580.6,801.1" fill="none" stroke="#548235" stroke-width="10.0"/><polygon points="605.2,811.3 573.9,813.4 584.6,787.6" fill="#548235"/>
<g id="ldpstack">
<polygon points="599.3,841.3 787.3,812.3 787.3,909.5 599.3,938.5" fill="#A2A2A2" stroke="#F4F4F4" stroke-width="1.2"/><polygon points="599.3,854.0 603.1,853.3 603.1,937.8 599.3,938.5" fill="url(#stripg)"/>
<polygon points="602.9,845.9 790.9,817.0 790.9,914.2 602.9,943.1" fill="#A2A2A2" stroke="#F4F4F4" stroke-width="1.2"/><polygon points="602.9,858.6 606.7,858.0 606.7,942.5 602.9,943.1" fill="url(#stripg)"/>
<polygon points="606.7,850.4 794.7,821.4 794.7,832.4 606.7,861.4" fill="rgb(158,158,158)"/><polygon points="606.7,861.2 794.7,832.2 794.7,843.2 606.7,872.2" fill="rgb(150,150,150)"/><polygon points="606.7,872.0 794.7,843.0 794.7,854.0 606.7,883.0" fill="rgb(140,140,140)"/><polygon points="606.7,882.8 794.7,853.8 794.7,864.8 606.7,893.8" fill="rgb(127,127,127)"/><polygon points="606.7,893.6 794.7,864.6 794.7,875.6 606.7,904.6" fill="rgb(113,113,113)"/><polygon points="606.7,904.4 794.7,875.4 794.7,886.4 606.7,915.4" fill="rgb(99,99,99)"/><polygon points="606.7,915.2 794.7,886.2 794.7,897.2 606.7,926.2" fill="rgb(86,86,86)"/><polygon points="606.7,926.0 794.7,897.0 794.7,908.0 606.7,937.0" fill="rgb(73,73,73)"/><polygon points="606.7,936.8 794.7,907.8 794.7,918.8 606.7,947.8" fill="rgb(62,62,62)"/><polygon points="634.9,846.0 644.3,844.6 644.3,855.4 634.9,856.8" fill="#fff" fill-opacity="0.03"/><polygon points="644.3,844.6 653.7,843.1 653.7,853.9 644.3,855.4" fill="#000" fill-opacity="0.03"/><polygon points="653.7,843.1 663.1,841.7 663.1,852.5 653.7,853.9" fill="#000" fill-opacity="0.03"/><polygon points="663.1,841.7 672.5,840.2 672.5,851.0 663.1,852.5" fill="#fff" fill-opacity="0.03"/><polygon points="700.7,835.9 710.1,834.4 710.1,845.2 700.7,846.7" fill="#fff" fill-opacity="0.03"/><polygon points="710.1,834.4 719.5,833.0 719.5,843.8 710.1,845.2" fill="#fff" fill-opacity="0.03"/><polygon points="719.5,833.0 728.9,831.5 728.9,842.3 719.5,843.8" fill="#fff" fill-opacity="0.03"/><polygon points="757.1,827.2 766.5,825.8 766.5,836.6 757.1,838.0" fill="#fff" fill-opacity="0.03"/><polygon points="766.5,825.8 775.9,824.3 775.9,835.1 766.5,836.6" fill="#000" fill-opacity="0.03"/><polygon points="775.9,824.3 785.3,822.9 785.3,833.7 775.9,835.1" fill="#000" fill-opacity="0.03"/><polygon points="606.7,861.2 616.1,859.7 616.1,870.5 606.7,872.0" fill="#000" fill-opacity="0.03"/><polygon points="625.5,858.3 634.9,856.8 634.9,867.6 625.5,869.1" fill="#000" fill-opacity="0.03"/><polygon points="644.3,855.4 653.7,853.9 653.7,864.7 644.3,866.2" fill="#fff" fill-opacity="0.03"/><polygon points="653.7,853.9 663.1,852.5 663.1,863.3 653.7,864.7" fill="#fff" fill-opacity="0.03"/><polygon points="663.1,852.5 672.5,851.0 672.5,861.8 663.1,863.3" fill="#fff" fill-opacity="0.03"/><polygon points="672.5,851.0 681.9,849.6 681.9,860.4 672.5,861.8" fill="#fff" fill-opacity="0.03"/><polygon points="681.9,849.6 691.3,848.1 691.3,858.9 681.9,860.4" fill="#fff" fill-opacity="0.03"/><polygon points="710.1,845.2 719.5,843.8 719.5,854.6 710.1,856.0" fill="#000" fill-opacity="0.03"/><polygon points="719.5,843.8 728.9,842.3 728.9,853.1 719.5,854.6" fill="#000" fill-opacity="0.03"/><polygon points="738.3,840.9 747.7,839.4 747.7,850.2 738.3,851.7" fill="#fff" fill-opacity="0.03"/><polygon points="766.5,836.6 775.9,835.1 775.9,845.9 766.5,847.4" fill="#fff" fill-opacity="0.03"/><polygon points="785.3,833.7 794.7,832.2 794.7,843.0 785.3,844.5" fill="#fff" fill-opacity="0.03"/><polygon points="606.7,872.0 616.1,870.5 616.1,881.3 606.7,882.8" fill="#fff" fill-opacity="0.03"/><polygon points="625.5,869.1 634.9,867.6 634.9,878.4 625.5,879.9" fill="#fff" fill-opacity="0.03"/><polygon points="653.7,864.7 663.1,863.3 663.1,874.1 653.7,875.5" fill="#000" fill-opacity="0.03"/><polygon points="691.3,858.9 700.7,857.5 700.7,868.3 691.3,869.7" fill="#000" fill-opacity="0.03"/><polygon points="728.9,853.1 738.3,851.7 738.3,862.5 728.9,863.9" fill="#000" fill-opacity="0.03"/><polygon points="738.3,851.7 747.7,850.2 747.7,861.0 738.3,862.5" fill="#000" fill-opacity="0.03"/><polygon points="747.7,850.2 757.1,848.8 757.1,859.6 747.7,861.0" fill="#fff" fill-opacity="0.03"/><polygon points="757.1,848.8 766.5,847.4 766.5,858.2 757.1,859.6" fill="#fff" fill-opacity="0.03"/><polygon points="766.5,847.4 775.9,845.9 775.9,856.7 766.5,858.2" fill="#000" fill-opacity="0.03"/><polygon points="785.3,844.5 794.7,843.0 794.7,853.8 785.3,855.3" fill="#000" fill-opacity="0.03"/><polygon points="606.7,882.8 616.1,881.3 616.1,892.1 606.7,893.6" fill="#fff" fill-opacity="0.03"/><polygon points="625.5,879.9 634.9,878.4 634.9,889.2 625.5,890.7" fill="#000" fill-opacity="0.03"/><polygon points="644.3,877.0 653.7,875.5 653.7,886.3 644.3,887.8" fill="#fff" fill-opacity="0.03"/><polygon points="653.7,875.5 663.1,874.1 663.1,884.9 653.7,886.3" fill="#fff" fill-opacity="0.03"/><polygon points="663.1,874.1 672.5,872.6 672.5,883.4 663.1,884.9" fill="#000" fill-opacity="0.03"/><polygon points="672.5,872.6 681.9,871.2 681.9,882.0 672.5,883.4" fill="#000" fill-opacity="0.03"/><polygon points="681.9,871.2 691.3,869.7 691.3,880.5 681.9,882.0" fill="#000" fill-opacity="0.03"/><polygon points="691.3,869.7 700.7,868.3 700.7,879.1 691.3,880.5" fill="#fff" fill-opacity="0.03"/><polygon points="728.9,863.9 738.3,862.5 738.3,873.3 728.9,874.7" fill="#000" fill-opacity="0.03"/><polygon points="747.7,861.0 757.1,859.6 757.1,870.4 747.7,871.8" fill="#000" fill-opacity="0.03"/><polygon points="757.1,859.6 766.5,858.2 766.5,869.0 757.1,870.4" fill="#000" fill-opacity="0.03"/><polygon points="766.5,858.2 775.9,856.7 775.9,867.5 766.5,869.0" fill="#000" fill-opacity="0.03"/><polygon points="775.9,856.7 785.3,855.3 785.3,866.1 775.9,867.5" fill="#000" fill-opacity="0.03"/><polygon points="606.7,893.6 616.1,892.1 616.1,902.9 606.7,904.4" fill="#fff" fill-opacity="0.03"/><polygon points="644.3,887.8 653.7,886.3 653.7,897.1 644.3,898.6" fill="#000" fill-opacity="0.03"/><polygon points="691.3,880.5 700.7,879.1 700.7,889.9 691.3,891.3" fill="#fff" fill-opacity="0.03"/><polygon points="700.7,879.1 710.1,877.6 710.1,888.4 700.7,889.9" fill="#fff" fill-opacity="0.03"/><polygon points="710.1,877.6 719.5,876.2 719.5,887.0 710.1,888.4" fill="#fff" fill-opacity="0.03"/><polygon points="719.5,876.2 728.9,874.7 728.9,885.5 719.5,887.0" fill="#fff" fill-opacity="0.03"/><polygon points="728.9,874.7 738.3,873.3 738.3,884.1 728.9,885.5" fill="#000" fill-opacity="0.03"/><polygon points="747.7,871.8 757.1,870.4 757.1,881.2 747.7,882.6" fill="#fff" fill-opacity="0.03"/><polygon points="775.9,867.5 785.3,866.1 785.3,876.9 775.9,878.3" fill="#fff" fill-opacity="0.03"/><polygon points="625.5,901.5 634.9,900.0 634.9,910.8 625.5,912.3" fill="#000" fill-opacity="0.03"/><polygon points="634.9,900.0 644.3,898.6 644.3,909.4 634.9,910.8" fill="#fff" fill-opacity="0.03"/><polygon points="653.7,897.1 663.1,895.7 663.1,906.5 653.7,907.9" fill="#000" fill-opacity="0.03"/><polygon points="663.1,895.7 672.5,894.2 672.5,905.0 663.1,906.5" fill="#fff" fill-opacity="0.03"/><polygon points="681.9,892.8 691.3,891.3 691.3,902.1 681.9,903.6" fill="#000" fill-opacity="0.03"/><polygon points="700.7,889.9 710.1,888.4 710.1,899.2 700.7,900.7" fill="#fff" fill-opacity="0.03"/><polygon points="738.3,884.1 747.7,882.6 747.7,893.4 738.3,894.9" fill="#fff" fill-opacity="0.03"/><polygon points="747.7,882.6 757.1,881.2 757.1,892.0 747.7,893.4" fill="#000" fill-opacity="0.03"/><polygon points="757.1,881.2 766.5,879.7 766.5,890.5 757.1,892.0" fill="#000" fill-opacity="0.03"/><polygon points="766.5,879.7 775.9,878.3 775.9,889.1 766.5,890.5" fill="#000" fill-opacity="0.03"/><polygon points="606.7,915.2 616.1,913.7 616.1,924.5 606.7,926.0" fill="#fff" fill-opacity="0.03"/><polygon points="700.7,900.7 710.1,899.2 710.1,910.0 700.7,911.5" fill="#fff" fill-opacity="0.03"/><polygon points="710.1,899.2 719.5,897.8 719.5,908.6 710.1,910.0" fill="#000" fill-opacity="0.03"/><polygon points="719.5,897.8 728.9,896.3 728.9,907.1 719.5,908.6" fill="#000" fill-opacity="0.03"/><polygon points="606.7,926.0 616.1,924.5 616.1,935.3 606.7,936.8" fill="#fff" fill-opacity="0.03"/><polygon points="616.1,924.5 625.5,923.1 625.5,933.9 616.1,935.3" fill="#000" fill-opacity="0.03"/><polygon points="625.5,923.1 634.9,921.6 634.9,932.4 625.5,933.9" fill="#000" fill-opacity="0.03"/><polygon points="663.1,917.3 672.5,915.8 672.5,926.6 663.1,928.1" fill="#fff" fill-opacity="0.03"/><polygon points="681.9,914.4 691.3,912.9 691.3,923.7 681.9,925.2" fill="#000" fill-opacity="0.03"/><polygon points="710.1,910.0 719.5,908.6 719.5,919.4 710.1,920.8" fill="#fff" fill-opacity="0.03"/><polygon points="738.3,905.7 747.7,904.2 747.7,915.0 738.3,916.5" fill="#000" fill-opacity="0.03"/><polygon points="747.7,904.2 757.1,902.8 757.1,913.6 747.7,915.0" fill="#000" fill-opacity="0.03"/><polygon points="616.1,935.3 625.5,933.9 625.5,944.7 616.1,946.1" fill="#000" fill-opacity="0.03"/><polygon points="644.3,931.0 653.7,929.5 653.7,940.3 644.3,941.8" fill="#fff" fill-opacity="0.03"/><polygon points="672.5,926.6 681.9,925.2 681.9,936.0 672.5,937.4" fill="#fff" fill-opacity="0.03"/><polygon points="691.3,923.7 700.7,922.3 700.7,933.1 691.3,934.5" fill="#fff" fill-opacity="0.03"/><polygon points="710.1,920.8 719.5,919.4 719.5,930.2 710.1,931.6" fill="#fff" fill-opacity="0.03"/><polygon points="719.5,919.4 728.9,917.9 728.9,928.7 719.5,930.2" fill="#fff" fill-opacity="0.03"/><polygon points="728.9,917.9 738.3,916.5 738.3,927.3 728.9,928.7" fill="#000" fill-opacity="0.03"/><polygon points="738.3,916.5 747.7,915.0 747.7,925.8 738.3,927.3" fill="#fff" fill-opacity="0.03"/><polygon points="766.5,912.1 775.9,910.7 775.9,921.5 766.5,922.9" fill="#000" fill-opacity="0.03"/><polygon points="775.9,910.7 785.3,909.3 785.3,920.1 775.9,921.5" fill="#fff" fill-opacity="0.03"/><polygon points="785.3,909.3 794.7,907.8 794.7,918.6 785.3,920.1" fill="#fff" fill-opacity="0.03"/><polygon points="606.7,850.4 794.7,821.4 794.7,918.6 606.7,947.5" fill="none" stroke="#F4F4F4" stroke-width="1.2"/>
<polygon points="690.2,837.7 702.4,835.8 702.4,933.0 690.2,934.9" fill="none" stroke="#3B86C6" stroke-width="1.4"/>
</g>
<g transform="translate(711.1,961.3) rotate(-8.60)"><rect x="-183.6" y="-22.7" width="367.1" height="45.4" fill="none" stroke="#548235" stroke-width="1.2"/><text x="0" y="9.6" font-size="27.3" fill="#548235" text-anchor="middle" textLength="307.5" lengthAdjust="spacingAndGlyphs">Real-time LDP Prediction</text></g>
<path d="M764.1,974.0 Q771.5,995.1 778.9,1015.4 L779.3,1016.8" fill="none" stroke="#548235" stroke-width="10.0"/><polygon points="786.3,1041.6 765.4,1019.2 792.4,1011.6" fill="#548235"/>
<g id="cube">
<defs><radialGradient id="cshadow" cx="0.5" cy="0.5" r="0.5"><stop offset="0" stop-color="#000" stop-opacity="0.55"/><stop offset="0.45" stop-color="#000" stop-opacity="0.28"/><stop offset="0.75" stop-color="#000" stop-opacity="0.08"/><stop offset="1" stop-color="#000" stop-opacity="0"/></radialGradient><linearGradient id="cfront" x1="0.6" y1="0" x2="0.4" y2="1"><stop offset="0" stop-color="#37601F"/><stop offset="0.45" stop-color="#174511"/><stop offset="0.75" stop-color="#0C3B09"/><stop offset="1" stop-color="#12480E"/></linearGradient><linearGradient id="cleft" x1="0" y1="0" x2="1" y2="0"><stop offset="0" stop-color="#2E8F22"/><stop offset="0.15" stop-color="#3DB22C"/><stop offset="0.6" stop-color="#0E6E10"/><stop offset="1" stop-color="#07500A"/></linearGradient><linearGradient id="ctop" gradientUnits="userSpaceOnUse" x1="116.2" y1="994.7" x2="120.3" y2="1020.9"><stop offset="0" stop-color="#8ED26F"/><stop offset="0.18" stop-color="#4FB437"/><stop offset="0.45" stop-color="#157C14"/><stop offset="0.7" stop-color="#05600A"/><stop offset="0.9" stop-color="#157514"/><stop offset="1" stop-color="#3A982B"/></linearGradient><radialGradient id="ctopR" gradientUnits="userSpaceOnUse" cx="187.1" cy="998.0" r="27"><stop offset="0" stop-color="#74D04E" stop-opacity="0.8"/><stop offset="1" stop-color="#74D04E" stop-opacity="0"/></radialGradient><radialGradient id="ctopL" gradientUnits="userSpaceOnUse" cx="80.0" cy="1006.1" r="36"><stop offset="0" stop-color="#8FDB6A" stop-opacity="0.7"/><stop offset="1" stop-color="#8FDB6A" stop-opacity="0"/></radialGradient></defs>
<ellipse cx="131.3" cy="1070.7" rx="132" ry="70" fill="url(#cshadow)"/>
<path d="M40.4,993.8 L171.0,973.4 L171.0,1034.5 L40.4,1054.9 Z M47.1,998.9 L166.0,980.3 L166.0,1029.2 L47.1,1048.1 Z" fill="#C9C9C9" fill-rule="evenodd"/>
<polygon points="63.1,1007.3 90.8,1025.0 91.3,1097.1 64.1,1080.1" fill="url(#cleft)"/><polygon points="90.5,1025.0 202.5,1009.2 202.2,1081.3 91.3,1097.4" fill="url(#cfront)"/><polygon points="61.9,1003.1 171.3,986.2 204.0,1006.6 203.7,1010.1 90.8,1025.4 62.2,1007.3" fill="url(#ctop)" stroke="#2A5A1C" stroke-width="1" stroke-linejoin="round"/><polygon points="61.9,1003.1 171.3,986.2 204.0,1006.6 203.7,1010.1 90.8,1025.4 62.2,1007.3" fill="url(#ctopR)"/><polygon points="61.9,1003.1 171.3,986.2 204.0,1006.6 203.7,1010.1 90.8,1025.4 62.2,1007.3" fill="url(#ctopL)"/>
<polyline points="62.2,1006.1 90.8,1024.2 203.7,1008.5" fill="none" stroke="#1C3F14" stroke-width="1.2"/>
<line x1="90.8" y1="1025.4" x2="91.3" y2="1097.1" stroke="#555" stroke-width="0.8"/>
</g>
<g transform="translate(147.0,1118.6) rotate(-8.80)"><rect x="-76.3" y="-22.9" width="152.7" height="45.8" fill="none" stroke="#548235" stroke-width="1.2"/><text x="0" y="9.6" font-size="27.3" fill="#548235" text-anchor="middle" textLength="126.5" lengthAdjust="spacingAndGlyphs">Cultivation</text></g>
<path d="M224.8,1019.1 Q246.0,1016.7 265.1,1016.4 L266.6,1016.3" fill="none" stroke="#548235" stroke-width="10.0"/><polygon points="292.0,1015.2 265.8,1030.4 264.5,1002.4" fill="#548235"/>
<g transform="translate(334.2,975.8) rotate(-5.60)" font-size="14.6" letter-spacing="0.90" fill="#000"><rect x="0" y="0" width="109.7" height="82.3" fill="#fff" stroke="#333" stroke-width="0.9"/><path d="M3.6,79.4 L5.3,79.3 L7.0,79.2 L8.7,79.1 L10.3,79.0 L12.0,78.8 L13.7,78.6 L15.4,78.4 L17.1,78.2 L18.8,77.9 L20.5,77.6 L22.2,77.3 L23.8,76.9 L25.5,76.4 L27.2,75.9 L28.9,75.3 L30.6,74.7 L32.3,74.0 L34.0,73.1 L35.6,72.2 L37.3,71.1 L39.0,70.0 L40.7,68.7 L42.4,67.3 L44.1,65.7 L45.8,64.0 L47.5,62.1 L49.1,60.1 L50.8,57.9 L52.5,55.7 L54.2,53.2 L55.9,50.7 L57.6,48.1 L59.3,45.4 L60.9,42.7 L62.6,40.0 L64.3,37.2 L66.0,34.5 L67.7,31.9 L69.4,29.4 L71.1,26.9 L72.8,24.6 L74.4,22.4 L76.1,20.4 L77.8,18.5 L79.5,16.7 L81.2,15.1 L82.9,13.7 L84.6,12.3 L86.2,11.1 L87.9,10.1 L89.6,9.1 L91.3,8.2 L93.0,7.5 L94.7,6.8 L96.4,6.2 L98.1,5.7 L99.7,5.2 L101.4,4.8 L103.1,4.5 L104.8,4.1" fill="none" stroke="#FF0000" stroke-width="1.5"/><line x1="20.2" y1="82.3" x2="20.2" y2="85.3" stroke="#333" stroke-width="0.9"/><text x="20.2" y="98.5" text-anchor="middle" dx="0.45">20</text><line x1="48.3" y1="82.3" x2="48.3" y2="85.3" stroke="#333" stroke-width="0.9"/><text x="48.3" y="98.5" text-anchor="middle" dx="0.45">40</text><line x1="76.4" y1="82.3" x2="76.4" y2="85.3" stroke="#333" stroke-width="0.9"/><text x="76.4" y="98.5" text-anchor="middle" dx="0.45">60</text><line x1="104.4" y1="82.3" x2="104.4" y2="85.3" stroke="#333" stroke-width="0.9"/><text x="104.4" y="98.5" text-anchor="middle" dx="0.45">80</text><line x1="-3" y1="79.0" x2="0" y2="79.0" stroke="#333" stroke-width="0.9"/><text x="-5.0" y="84.3" text-anchor="end" dx="0.90">0</text><line x1="-3" y1="63.7" x2="0" y2="63.7" stroke="#333" stroke-width="0.9"/><text x="-5.0" y="68.9" text-anchor="end" dx="0.90">2</text><line x1="-3" y1="48.4" x2="0" y2="48.4" stroke="#333" stroke-width="0.9"/><text x="-5.0" y="53.6" text-anchor="end" dx="0.90">4</text><line x1="-3" y1="33.0" x2="0" y2="33.0" stroke="#333" stroke-width="0.9"/><text x="-5.0" y="38.3" text-anchor="end" dx="0.90">6</text><line x1="-3" y1="17.7" x2="0" y2="17.7" stroke="#333" stroke-width="0.9"/><text x="-5.0" y="23.0" text-anchor="end" dx="0.90">8</text><line x1="-3" y1="2.4" x2="0" y2="2.4" stroke="#333" stroke-width="0.9"/><text x="-5.0" y="7.7" text-anchor="end" dx="0.90">10</text><text x="55.0" y="115.0" text-anchor="middle">Time (h)</text><text transform="translate(-26.0,40.3) rotate(-90)" text-anchor="middle">OD730</text></g>
<g transform="translate(391.4,1117.1) rotate(-5.54)"><rect x="-107.9" y="-22.8" width="215.8" height="45.5" fill="none" stroke="#548235" stroke-width="1.2"/><text x="0" y="9.6" font-size="27.3" fill="#548235" text-anchor="middle" textLength="187.0" lengthAdjust="spacingAndGlyphs">Growth Monitor</text></g>
<path d="M483.5,1074.6 Q499.7,1088.7 514.8,1100.3 L515.8,1101.4" fill="none" stroke="#548235" stroke-width="10.5"/><polygon points="533.5,1119.7 504.7,1110.0 524.9,1090.6" fill="#548235"/>
<g id="featstack">
<defs><linearGradient id="tarr" gradientUnits="userSpaceOnUse" x1="729.2" y1="1173.5" x2="841.4" y2="1234.9"><stop offset="0" stop-color="#B4B4B4"/><stop offset="0.5" stop-color="#8A8A8A"/><stop offset="1" stop-color="#2E2E2E"/></linearGradient></defs><polygon points="730.2,1167.3 832.4,1220.9 831.8,1216.6 841.8,1234.9 829.0,1238.7 827.6,1231.4 728.6,1178.8" fill="url(#tarr)"/><text x="784.3" y="1204.6" transform="rotate(27.5 784.3 1204.6)" font-size="8.2" font-style="italic" fill="#F2F2F2" text-anchor="middle" letter-spacing="0.4">Time (h)</text>
<polygon points="733.4,1042.1 756.8,1040.1 756.8,1064.5 733.4,1066.4" fill="rgb(238,238,238)"/><polygon points="733.4,1066.2 756.8,1064.2 756.8,1088.6 733.4,1090.5" fill="rgb(232,232,232)"/><polygon points="733.4,1090.3 756.8,1088.3 756.8,1112.7 733.4,1114.6" fill="rgb(226,226,226)"/><polygon points="733.4,1114.4 756.8,1112.4 756.8,1136.8 733.4,1138.7" fill="rgb(220,220,220)"/><polygon points="733.4,1138.4 756.8,1136.5 756.8,1160.6 733.4,1162.5" fill="rgb(214,214,214)"/><polygon points="733.4,1042.1 756.8,1040.1 756.8,1160.6 733.4,1162.5" fill="none" stroke="#5A96D0" stroke-width="0.9"/>
<polygon points="742.8,1047.4 766.2,1045.5 766.2,1068.9 742.8,1070.9" fill="rgb(231,231,231)"/><polygon points="742.8,1070.6 766.2,1068.7 766.2,1092.1 742.8,1094.1" fill="rgb(223,223,223)"/><polygon points="742.8,1093.8 766.2,1091.9 766.2,1115.3 742.8,1117.3" fill="rgb(214,214,214)"/><polygon points="742.8,1117.0 766.2,1115.0 766.2,1138.5 742.8,1140.4" fill="rgb(206,206,206)"/><polygon points="742.8,1140.2 766.2,1138.2 766.2,1165.9 742.8,1167.9" fill="rgb(197,197,197)"/><polygon points="742.8,1047.4 766.2,1045.5 766.2,1165.9 742.8,1167.9" fill="none" stroke="#5A96D0" stroke-width="0.9"/>
<polygon points="752.2,1052.7 775.6,1050.8 775.6,1073.4 752.2,1075.3" fill="rgb(224,224,224)"/><polygon points="752.2,1075.0 775.6,1073.1 775.6,1095.7 752.2,1097.6" fill="rgb(213,213,213)"/><polygon points="752.2,1097.3 775.6,1095.4 775.6,1117.9 752.2,1119.9" fill="rgb(202,202,202)"/><polygon points="752.2,1119.6 775.6,1117.7 775.6,1140.2 752.2,1142.2" fill="rgb(191,191,191)"/><polygon points="752.2,1141.9 775.6,1139.9 775.6,1171.3 752.2,1173.2" fill="rgb(180,180,180)"/><polygon points="752.2,1052.7 775.6,1050.8 775.6,1171.3 752.2,1173.2" fill="none" stroke="#5A96D0" stroke-width="0.9"/>
<polygon points="761.6,1058.0 785.0,1056.1 785.0,1077.8 761.6,1079.7" fill="rgb(210,210,210)"/><polygon points="761.6,1079.4 785.0,1077.5 785.0,1099.2 761.6,1101.1" fill="rgb(171,171,171)"/><polygon points="761.6,1100.8 785.0,1098.9 785.0,1120.6 761.6,1122.5" fill="rgb(133,133,133)"/><polygon points="761.6,1122.2 785.0,1120.3 785.0,1141.9 761.6,1143.9" fill="rgb(99,99,99)"/><polygon points="761.6,1143.6 785.0,1141.7 785.0,1176.6 761.6,1178.5" fill="rgb(71,71,71)"/><polygon points="761.6,1058.0 785.0,1056.1 785.0,1176.6 761.6,1178.5" fill="none" stroke="#5A96D0" stroke-width="0.9"/>
<polygon points="771.0,1063.4 794.4,1061.4 794.4,1082.2 771.0,1084.1" fill="rgb(201,201,201)"/><polygon points="771.0,1083.8 794.4,1081.9 794.4,1102.7 771.0,1104.6" fill="rgb(158,158,158)"/><polygon points="771.0,1104.3 794.4,1102.4 794.4,1123.2 771.0,1125.1" fill="rgb(119,119,119)"/><polygon points="771.0,1124.8 794.4,1122.9 794.4,1143.7 771.0,1145.6" fill="rgb(85,85,85)"/><polygon points="771.0,1145.3 794.4,1143.4 794.4,1181.9 771.0,1183.8" fill="rgb(63,63,63)"/><polygon points="771.0,1063.4 794.4,1061.4 794.4,1181.9 771.0,1183.8" fill="none" stroke="#5A96D0" stroke-width="0.9"/>
<polygon points="780.4,1068.7 803.8,1066.8 803.8,1086.6 780.4,1088.5" fill="rgb(191,191,191)"/><polygon points="780.4,1088.3 803.8,1086.3 803.8,1106.2 780.4,1108.1" fill="rgb(145,145,145)"/><polygon points="780.4,1107.8 803.8,1105.9 803.8,1125.8 780.4,1127.7" fill="rgb(105,105,105)"/><polygon points="780.4,1127.4 803.8,1125.5 803.8,1145.4 780.4,1147.3" fill="rgb(73,73,73)"/><polygon points="780.4,1147.0 803.8,1145.1 803.8,1187.2 780.4,1189.2" fill="rgb(55,55,55)"/><polygon points="780.4,1068.7 803.8,1066.8 803.8,1187.2 780.4,1189.2" fill="none" stroke="#5A96D0" stroke-width="0.9"/>
<polygon points="789.8,1074.0 813.2,1072.1 813.2,1091.0 789.8,1093.0" fill="rgb(181,181,181)"/><polygon points="789.8,1092.7 813.2,1090.8 813.2,1109.7 789.8,1111.6" fill="rgb(133,133,133)"/><polygon points="789.8,1111.4 813.2,1109.4 813.2,1128.4 789.8,1130.3" fill="rgb(92,92,92)"/><polygon points="789.8,1130.0 813.2,1128.1 813.2,1147.1 789.8,1149.0" fill="rgb(61,61,61)"/><polygon points="789.8,1148.7 813.2,1146.8 813.2,1192.6 789.8,1194.5" fill="rgb(47,47,47)"/><polygon points="789.8,1074.0 813.2,1072.1 813.2,1192.6 789.8,1194.5" fill="none" stroke="#5A96D0" stroke-width="0.9"/>
<polygon points="799.2,1079.3 822.6,1077.4 822.6,1095.5 799.2,1097.4" fill="rgb(172,172,172)"/><polygon points="799.2,1097.1 822.6,1095.2 822.6,1113.2 799.2,1115.2" fill="rgb(121,121,121)"/><polygon points="799.2,1114.9 822.6,1113.0 822.6,1131.0 799.2,1132.9" fill="rgb(80,80,80)"/><polygon points="799.2,1132.6 822.6,1130.7 822.6,1148.8 799.2,1150.7" fill="rgb(51,51,51)"/><polygon points="799.2,1150.4 822.6,1148.5 822.6,1197.9 799.2,1199.8" fill="rgb(39,39,39)"/><polygon points="799.2,1079.3 822.6,1077.4 822.6,1197.9 799.2,1199.8" fill="none" stroke="#5A96D0" stroke-width="0.9"/>
<polygon points="808.6,1084.7 832.0,1082.7 832.0,1099.9 808.6,1101.8" fill="rgb(162,162,162)"/><polygon points="808.6,1101.5 832.0,1099.6 832.0,1116.8 808.6,1118.7" fill="rgb(110,110,110)"/><polygon points="808.6,1118.4 832.0,1116.5 832.0,1133.6 808.6,1135.5" fill="rgb(69,69,69)"/><polygon points="808.6,1135.3 832.0,1133.3 832.0,1150.5 808.6,1152.4" fill="rgb(41,41,41)"/><polygon points="808.6,1152.1 832.0,1150.2 832.0,1203.2 808.6,1205.1" fill="rgb(31,31,31)"/><polygon points="808.6,1084.7 832.0,1082.7 832.0,1203.2 808.6,1205.1" fill="none" stroke="#5A96D0" stroke-width="0.9"/>
<polygon points="818.0,1090.0 841.4,1088.1 841.4,1104.3 818.0,1106.2" fill="rgb(152,152,152)"/><polygon points="818.0,1105.9 841.4,1104.0 841.4,1120.3 818.0,1122.2" fill="rgb(99,99,99)"/><polygon points="818.0,1121.9 841.4,1120.0 841.4,1136.2 818.0,1138.2" fill="rgb(58,58,58)"/><polygon points="818.0,1137.9 841.4,1135.9 841.4,1152.2 818.0,1154.1" fill="rgb(32,32,32)"/><polygon points="818.0,1153.8 841.4,1151.9 841.4,1208.5 818.0,1210.5" fill="rgb(23,23,23)"/><polygon points="818.0,1090.0 841.4,1088.1 841.4,1208.5 818.0,1210.5" fill="none" stroke="#5A96D0" stroke-width="0.9"/>
<polygon points="827.4,1095.3 850.8,1093.4 850.8,1108.7 827.4,1110.6" fill="rgb(143,143,143)"/><polygon points="827.4,1110.4 850.8,1108.4 850.8,1123.8 827.4,1125.7" fill="rgb(89,89,89)"/><polygon points="827.4,1125.4 850.8,1123.5 850.8,1138.8 827.4,1140.8" fill="rgb(49,49,49)"/><polygon points="827.4,1140.5 850.8,1138.6 850.8,1153.9 827.4,1155.8" fill="rgb(23,23,23)"/><polygon points="827.4,1155.5 850.8,1153.6 850.8,1213.9 827.4,1215.8" fill="rgb(17,17,17)"/><polygon points="827.4,1095.3 850.8,1093.4 850.8,1213.9 827.4,1215.8" fill="none" stroke="#5A96D0" stroke-width="0.9"/>
<polygon points="836.8,1100.6 860.2,1098.7 860.2,1113.1 836.8,1115.1" fill="rgb(133,133,133)"/><polygon points="836.8,1114.8 860.2,1112.9 860.2,1127.3 836.8,1129.2" fill="rgb(79,79,79)"/><polygon points="836.8,1128.9 860.2,1127.0 860.2,1141.5 836.8,1143.4" fill="rgb(39,39,39)"/><polygon points="836.8,1143.1 860.2,1141.2 860.2,1155.6 836.8,1157.5" fill="rgb(17,17,17)"/><polygon points="836.8,1157.2 860.2,1155.3 860.2,1219.2 836.8,1221.1" fill="rgb(17,17,17)"/><polygon points="836.8,1100.6 860.2,1098.7 860.2,1219.2 836.8,1221.1" fill="none" stroke="#5A96D0" stroke-width="0.9"/>
<polygon points="846.2,1105.9 869.6,1104.0 869.6,1117.6 846.2,1119.5" fill="rgb(124,124,124)"/><polygon points="846.2,1119.2 869.6,1117.3 869.6,1130.8 846.2,1132.7" fill="rgb(69,69,69)"/><polygon points="846.2,1132.5 869.6,1130.5 869.6,1144.1 846.2,1146.0" fill="rgb(31,31,31)"/><polygon points="846.2,1145.7 869.6,1143.8 869.6,1157.3 846.2,1159.2" fill="rgb(17,17,17)"/><polygon points="846.2,1159.0 869.6,1157.0 869.6,1224.5 846.2,1226.4" fill="rgb(17,17,17)"/><polygon points="846.2,1105.9 869.6,1104.0 869.6,1224.5 846.2,1226.4" fill="none" stroke="#5A96D0" stroke-width="0.9"/>
</g>
<g transform="translate(503.2,1136.6) rotate(-5.83)" font-size="16.0" letter-spacing="0.90" fill="#000"><rect x="0" y="0" width="128.3" height="95.7" fill="#fff" stroke="#333" stroke-width="0.9"/><path d="M5.0,58.4 C6.8,55.2 12.3,45.8 16.0,39.5 C19.7,33.2 23.8,25.6 27.0,20.6 C30.3,15.6 33.0,12.3 35.4,9.6 C37.8,7.0 39.6,5.8 41.4,4.8 C43.2,3.7 44.3,3.2 46.1,3.4 C47.9,3.6 50.1,4.1 52.2,5.9 C54.3,7.6 56.3,10.4 58.7,13.8 C61.0,17.2 63.9,21.9 66.5,26.4 C69.0,31.0 71.5,36.2 74.1,40.9 C76.7,45.5 79.2,50.2 81.8,54.4 C84.4,58.6 87.1,62.5 89.7,66.1 C92.4,69.7 95.1,73.2 97.8,76.1 C100.6,78.9 103.4,81.2 106.2,83.3 C109.0,85.4 111.9,87.3 114.7,88.7 C117.5,90.1 121.6,91.2 123.0,91.7" fill="none" stroke="#3A8DCB" stroke-width="1.0"/><path d="M2.0,58.4 h6 M5.0,55.4 v6 M4.5,54.1 h6 M7.5,51.1 v6 M6.8,50.1 h6 M9.8,47.1 v6 M9.3,45.8 h6 M12.3,42.8 v6 M11.8,41.5 h6 M14.8,38.5 v6 M14.1,37.6 h6 M17.1,34.6 v6 M17.0,32.6 h6 M20.0,29.6 v6 M19.2,28.6 h6 M22.2,25.6 v6 M21.4,24.8 h6 M24.4,21.8 v6 M24.0,20.6 h6 M27.0,17.6 v6 M26.4,17.2 h6 M29.4,14.2 v6 M28.5,14.2 h6 M31.5,11.2 v6 M30.9,11.3 h6 M33.9,8.3 v6 M33.5,8.5 h6 M36.5,5.5 v6 M35.9,6.4 h6 M38.9,3.4 v6 M38.1,4.9 h6 M41.1,1.9 v6 M40.5,3.7 h6 M43.5,0.7 v6 M43.1,3.4 h6 M46.1,0.4 v6 M45.4,3.9 h6 M48.4,0.9 v6 M47.9,5.0 h6 M50.9,2.0 v6 M50.1,6.7 h6 M53.1,3.7 v6 M52.6,9.6 h6 M55.6,6.6 v6 M55.0,12.8 h6 M58.0,9.8 v6 M57.5,16.6 h6 M60.5,13.6 v6 M59.9,20.4 h6 M62.9,17.4 v6 M62.3,24.4 h6 M65.3,21.4 v6 M64.6,28.5 h6 M67.6,25.5 v6 M67.3,33.6 h6 M70.3,30.6 v6 M69.6,38.0 h6 M72.6,35.0 v6 M71.9,42.3 h6 M74.9,39.3 v6 M74.6,47.1 h6 M77.6,44.1 v6 M76.9,51.2 h6 M79.9,48.2 v6 M79.2,55.0 h6 M82.2,52.0 v6 M81.6,58.7 h6 M84.6,55.7 v6 M83.9,62.2 h6 M86.9,59.2 v6 M86.3,65.6 h6 M89.3,62.6 v6 M88.7,68.8 h6 M91.7,65.8 v6 M91.1,71.9 h6 M94.1,68.9 v6 M93.6,74.7 h6 M96.6,71.7 v6 M96.1,77.3 h6 M99.1,74.3 v6 M98.5,79.6 h6 M101.5,76.6 v6 M101.1,81.7 h6 M104.1,78.7 v6 M103.2,83.3 h6 M106.2,80.3 v6 M105.7,85.1 h6 M108.7,82.1 v6 M108.3,86.8 h6 M111.3,83.8 v6 M110.5,88.0 h6 M113.5,85.0 v6 M113.1,89.3 h6 M116.1,86.3 v6 M115.4,90.2 h6 M118.4,87.2 v6 M117.7,91.0 h6 M120.7,88.0 v6 M120.0,91.7 h6 M123.0,88.7 v6 " stroke="#3A8DCB" stroke-width="0.9" fill="none"/><line x1="6.4" y1="95.7" x2="6.4" y2="98.7" stroke="#333" stroke-width="0.9"/><text x="6.4" y="113.3" text-anchor="middle" dx="0.45">0</text><line x1="35.8" y1="95.7" x2="35.8" y2="98.7" stroke="#333" stroke-width="0.9"/><text x="35.8" y="113.3" text-anchor="middle" dx="0.45">25</text><line x1="65.1" y1="95.7" x2="65.1" y2="98.7" stroke="#333" stroke-width="0.9"/><text x="65.1" y="113.3" text-anchor="middle" dx="0.45">50</text><line x1="94.5" y1="95.7" x2="94.5" y2="98.7" stroke="#333" stroke-width="0.9"/><text x="94.5" y="113.3" text-anchor="middle" dx="0.45">75</text><line x1="123.8" y1="95.7" x2="123.8" y2="98.7" stroke="#333" stroke-width="0.9"/><text x="123.8" y="113.3" text-anchor="middle" dx="0.45">100</text><line x1="-3" y1="17.4" x2="0" y2="17.4" stroke="#333" stroke-width="0.9"/><text x="-5.5" y="23.2" text-anchor="end" dx="0.90">0.15</text><line x1="-3" y1="44.7" x2="0" y2="44.7" stroke="#333" stroke-width="0.9"/><text x="-5.5" y="50.5" text-anchor="end" dx="0.90">0.1</text><line x1="-3" y1="72.0" x2="0" y2="72.0" stroke="#333" stroke-width="0.9"/><text x="-5.5" y="77.8" text-anchor="end" dx="0.90">0.05</text><text x="65.3" y="132.3" text-anchor="middle" letter-spacing="1.50">Time (h)</text><text transform="translate(-44.5,45.7) rotate(-90)" text-anchor="middle" letter-spacing="1.50">Growth Rate</text></g>
<g transform="translate(575.1,1289.7) rotate(-5.75)"><rect x="-162.7" y="-22.4" width="325.4" height="44.9" fill="none" stroke="#2E75B6" stroke-width="1.2"/><text x="0" y="9.6" font-size="27.3" fill="#2E75B6" text-anchor="middle" textLength="296.5" lengthAdjust="spacingAndGlyphs">Growth Rate Calculation</text></g>
<g transform="translate(789.9,1242.8) rotate(28.60)"><rect x="-156.2" y="-22.6" width="312.5" height="45.1" fill="none" stroke="#2E75B6" stroke-width="1.2"/><text x="0" y="9.6" font-size="27.3" fill="#2E75B6" text-anchor="middle" textLength="286.0" lengthAdjust="spacingAndGlyphs">LDP Feature Extraction</text></g>
<path d="M607.0,1313.4 Q605.9,1346.0 600.4,1370.7 L600.1,1372.1" fill="none" stroke="#2E75B6" stroke-width="8.6"/><polygon points="593.9,1397.4 587.3,1367.5 613.5,1373.9" fill="#2E75B6"/>
<path d="M762.9,1268.5 Q721.3,1358.2 637.7,1411.9 L636.4,1412.6" fill="none" stroke="#2E75B6" stroke-width="9.0"/><polygon points="614.1,1425.1 631.1,1400.1 644.3,1423.6" fill="#2E75B6"/>
<text transform="translate(627.5,1317.1) rotate(97.3)" font-size="27.3" fill="#2E75B6">Label</text>
<text transform="translate(700.5,1409.0) rotate(-51.5)" font-size="27.3" letter-spacing="0.45" fill="#2E75B6">Feature</text>
<circle cx="531.1" cy="1437.4" r="66.3" fill="url(#sph)"/><circle cx="531.1" cy="1437.4" r="66.3" fill="url(#sph2)"/>
<path d="M538.92,1411.25 L544.23,1411.39 L544.23,1420.21 L538.92,1420.35 A21.60,21.60 0 0 1 535.95,1427.52 L539.61,1431.37 L533.37,1437.61 L529.52,1433.95 A21.60,21.60 0 0 1 522.35,1436.92 L522.21,1442.23 L513.39,1442.23 L513.25,1436.92 A21.60,21.60 0 0 1 506.08,1433.95 L502.23,1437.61 L495.99,1431.37 L499.65,1427.52 A21.60,21.60 0 0 1 496.68,1420.35 L491.37,1420.21 L491.37,1411.39 L496.68,1411.25 A21.60,21.60 0 0 1 499.65,1404.08 L495.99,1400.23 L502.23,1393.99 L506.08,1397.65 A21.60,21.60 0 0 1 513.25,1394.68 L513.39,1389.37 L522.21,1389.37 L522.35,1394.68 A21.60,21.60 0 0 1 529.52,1397.65 L533.37,1393.99 L539.61,1400.23 L535.95,1404.08 A21.60,21.60 0 0 1 538.92,1411.25 Z M532.80,1415.80 A15.00,15.00 0 1 0 502.80,1415.80 A15.00,15.00 0 1 0 532.80,1415.80 Z" fill="#3C5587" fill-rule="evenodd"/>
<path d="M565.68,1431.46 L568.06,1431.76 L568.06,1435.64 L565.68,1435.94 A11.50,11.50 0 0 1 563.96,1440.09 L565.44,1441.99 L562.69,1444.74 L560.79,1443.26 A11.50,11.50 0 0 1 556.64,1444.98 L556.34,1447.36 L552.46,1447.36 L552.16,1444.98 A11.50,11.50 0 0 1 548.01,1443.26 L546.11,1444.74 L543.36,1441.99 L544.84,1440.09 A11.50,11.50 0 0 1 543.12,1435.94 L540.74,1435.64 L540.74,1431.76 L543.12,1431.46 A11.50,11.50 0 0 1 544.84,1427.31 L543.36,1425.41 L546.11,1422.66 L548.01,1424.14 A11.50,11.50 0 0 1 552.16,1422.42 L552.46,1420.04 L556.34,1420.04 L556.64,1422.42 A11.50,11.50 0 0 1 560.79,1424.14 L562.69,1422.66 L565.44,1425.41 L563.96,1427.31 A11.50,11.50 0 0 1 565.68,1431.46 Z M562.00,1433.70 A7.60,7.60 0 1 0 546.80,1433.70 A7.60,7.60 0 1 0 562.00,1433.70 Z" fill="#3C5587" fill-rule="evenodd"/>
<text x="531.7" y="1483.2" font-size="39" fill="#4B70B4" text-anchor="middle" textLength="85.2" lengthAdjust="spacingAndGlyphs">GRM</text>
<g transform="translate(535.2,1532.4) rotate(0.00)"><rect x="-110.1" y="-22.9" width="220.2" height="45.9" fill="none" stroke="#2E75B6" stroke-width="1.2"/><text x="0" y="9.7" font-size="27.3" fill="#2E75B6" text-anchor="middle" textLength="167.2" lengthAdjust="spacingAndGlyphs">GRM Training</text></g>
<path d="M427.2,1459.4 Q362.7,1449.8 318.0,1424.6 L316.8,1423.8" fill="none" stroke="#FFC000" stroke-width="9.0"/><polygon points="295.3,1410.8 325.0,1413.0 311.1,1436.1" fill="#FFC000"/>
<g transform="translate(196.3,1380.7) rotate(-5.17)"><rect x="-161.3" y="-22.2" width="322.6" height="44.5" fill="url(#goldg)" stroke="none" stroke-width="0.0"/><text x="0" y="9.6" font-size="27.3" fill="#fff" text-anchor="middle" textLength="283.0" lengthAdjust="spacingAndGlyphs">Growth Rate Prediction</text></g>
<g transform="translate(117.8,1207.6) rotate(-5.20)" font-size="18.0" letter-spacing="1.00" fill="#000"><rect x="0" y="0" width="145.1" height="108.6" fill="#fff" stroke="#333" stroke-width="0.9"/><path d="M6.1,65.6 C7.5,62.5 11.5,53.3 14.4,47.4 C17.2,41.5 20.5,35.4 23.4,30.1 C26.4,24.9 29.4,19.6 32.3,15.9 C35.1,12.1 37.5,9.5 40.5,7.6 C43.6,5.7 47.7,4.6 50.7,4.6 C53.8,4.6 55.9,5.8 58.6,7.7 C61.3,9.6 63.7,12.0 66.9,16.0 C70.0,20.1 73.9,26.4 77.5,32.0 C81.0,37.6 84.4,43.7 87.9,49.5 C91.4,55.4 94.8,61.7 98.3,67.0 C101.9,72.4 105.4,77.4 109.1,81.6 C112.7,85.8 116.9,89.4 120.1,92.2 C123.4,95.0 125.6,96.6 128.6,98.4 C131.6,100.2 136.5,102.4 138.1,103.2" fill="none" stroke="#FFA500" stroke-width="1.5"/><line x1="7.5" y1="108.6" x2="7.5" y2="111.6" stroke="#333" stroke-width="0.9"/><text x="7.5" y="129.2" text-anchor="middle" dx="0.50">0</text><line x1="40.1" y1="108.6" x2="40.1" y2="111.6" stroke="#333" stroke-width="0.9"/><text x="40.1" y="129.2" text-anchor="middle" dx="0.50">25</text><line x1="72.7" y1="108.6" x2="72.7" y2="111.6" stroke="#333" stroke-width="0.9"/><text x="72.7" y="129.2" text-anchor="middle" dx="0.50">50</text><line x1="105.3" y1="108.6" x2="105.3" y2="111.6" stroke="#333" stroke-width="0.9"/><text x="105.3" y="129.2" text-anchor="middle" dx="0.50">75</text><line x1="137.9" y1="108.6" x2="137.9" y2="111.6" stroke="#333" stroke-width="0.9"/><text x="137.9" y="129.2" text-anchor="middle" dx="0.50">100</text><line x1="-3" y1="19.8" x2="0" y2="19.8" stroke="#333" stroke-width="0.9"/><text x="-6.0" y="26.3" text-anchor="end" dx="1.00">0.15</text><line x1="-3" y1="50.5" x2="0" y2="50.5" stroke="#333" stroke-width="0.9"/><text x="-6.0" y="57.0" text-anchor="end" dx="1.00">0.1</text><line x1="-3" y1="81.2" x2="0" y2="81.2" stroke="#333" stroke-width="0.9"/><text x="-6.0" y="87.7" text-anchor="end" dx="1.00">0.05</text><text x="73.3" y="150.3" text-anchor="middle" letter-spacing="1.70">Time (h)</text><text transform="translate(-52.5,51.3) rotate(-90)" text-anchor="middle" letter-spacing="1.70">Growth Rate</text></g>
</g>
<g id="panelC">
<g fill="#FF0000"><circle cx="1099.9" cy="1002.0" r="5.6"/><circle cx="1101.2" cy="999.7" r="5.6"/><circle cx="1101.9" cy="1000.6" r="5.6"/><circle cx="1102.7" cy="998.8" r="5.6"/><circle cx="1103.8" cy="996.1" r="5.6"/><circle cx="1104.6" cy="996.2" r="5.6"/><circle cx="1105.4" cy="997.6" r="5.6"/><circle cx="1106.2" cy="993.6" r="5.6"/><circle cx="1107.1" cy="995.7" r="5.6"/><circle cx="1108.3" cy="994.5" r="5.6"/><circle cx="1109.3" cy="990.8" r="5.6"/><circle cx="1110.7" cy="989.8" r="5.6"/><circle cx="1111.7" cy="988.3" r="5.6"/><circle cx="1112.6" cy="987.1" r="5.6"/><circle cx="1114.0" cy="985.4" r="5.6"/><circle cx="1115.2" cy="983.3" r="5.6"/><circle cx="1116.2" cy="984.0" r="5.6"/><circle cx="1117.0" cy="982.9" r="5.6"/><circle cx="1117.8" cy="982.3" r="5.6"/><circle cx="1118.8" cy="981.9" r="5.6"/><circle cx="1120.0" cy="980.4" r="5.6"/><circle cx="1121.3" cy="977.6" r="5.6"/><circle cx="1122.5" cy="976.5" r="5.6"/><circle cx="1123.7" cy="973.7" r="5.6"/><circle cx="1125.1" cy="973.9" r="5.6"/><circle cx="1126.5" cy="973.1" r="5.6"/><circle cx="1127.3" cy="973.0" r="5.6"/><circle cx="1128.2" cy="969.3" r="5.6"/><circle cx="1129.3" cy="967.3" r="5.6"/><circle cx="1130.6" cy="967.2" r="5.6"/><circle cx="1131.7" cy="965.6" r="5.6"/><circle cx="1133.0" cy="965.7" r="5.6"/><circle cx="1134.2" cy="964.8" r="5.6"/><circle cx="1135.5" cy="962.8" r="5.6"/><circle cx="1136.9" cy="962.3" r="5.6"/><circle cx="1137.7" cy="959.4" r="5.6"/><circle cx="1139.0" cy="960.6" r="5.6"/><circle cx="1140.3" cy="959.9" r="5.6"/><circle cx="1141.3" cy="957.1" r="5.6"/><circle cx="1142.0" cy="953.7" r="5.6"/><circle cx="1143.1" cy="953.4" r="5.6"/><circle cx="1143.9" cy="952.3" r="5.6"/><circle cx="1145.2" cy="950.7" r="5.6"/><circle cx="1146.2" cy="949.6" r="5.6"/><circle cx="1147.6" cy="947.5" r="5.6"/><circle cx="1148.7" cy="946.8" r="5.6"/><circle cx="1150.1" cy="944.9" r="5.6"/><circle cx="1151.0" cy="947.1" r="5.6"/><circle cx="1152.1" cy="945.3" r="5.6"/><circle cx="1153.5" cy="940.1" r="5.6"/><circle cx="1154.4" cy="940.8" r="5.6"/><circle cx="1155.3" cy="939.3" r="5.6"/><circle cx="1156.4" cy="939.7" r="5.6"/><circle cx="1157.1" cy="938.6" r="5.6"/><circle cx="1158.2" cy="938.0" r="5.6"/><circle cx="1159.6" cy="934.2" r="5.6"/><circle cx="1160.8" cy="935.7" r="5.6"/><circle cx="1162.1" cy="932.8" r="5.6"/><circle cx="1162.9" cy="930.0" r="5.6"/><circle cx="1164.2" cy="931.5" r="5.6"/><circle cx="1165.6" cy="929.7" r="5.6"/><circle cx="1166.4" cy="927.0" r="5.6"/><circle cx="1167.6" cy="926.1" r="5.6"/><circle cx="1168.5" cy="925.3" r="5.6"/><circle cx="1169.3" cy="924.8" r="5.6"/><circle cx="1170.1" cy="923.4" r="5.6"/><circle cx="1170.9" cy="921.8" r="5.6"/><circle cx="1171.7" cy="921.2" r="5.6"/><circle cx="1173.0" cy="920.9" r="5.6"/><circle cx="1174.0" cy="919.8" r="5.6"/><circle cx="1174.9" cy="918.7" r="5.6"/><circle cx="1176.3" cy="916.3" r="5.6"/><circle cx="1177.8" cy="916.5" r="5.6"/><circle cx="1178.6" cy="913.9" r="5.6"/><circle cx="1179.4" cy="913.9" r="5.6"/><circle cx="1180.7" cy="911.0" r="5.6"/><circle cx="1181.6" cy="907.9" r="5.6"/><circle cx="1182.7" cy="909.2" r="5.6"/><circle cx="1183.6" cy="909.0" r="5.6"/><circle cx="1184.7" cy="907.5" r="5.6"/><circle cx="1186.1" cy="904.6" r="5.6"/><circle cx="1187.1" cy="906.2" r="5.6"/><circle cx="1188.1" cy="902.6" r="5.6"/><circle cx="1189.2" cy="900.6" r="5.6"/><circle cx="1190.5" cy="901.4" r="5.6"/><circle cx="1191.8" cy="898.7" r="5.6"/><circle cx="1193.3" cy="896.5" r="5.6"/><circle cx="1194.6" cy="898.2" r="5.6"/><circle cx="1195.9" cy="894.7" r="5.6"/><circle cx="1196.9" cy="892.4" r="5.6"/><circle cx="1197.7" cy="892.0" r="5.6"/><circle cx="1198.6" cy="891.8" r="5.6"/><circle cx="1199.9" cy="889.3" r="5.6"/><circle cx="1201.3" cy="889.4" r="5.6"/><circle cx="1202.7" cy="886.3" r="5.6"/><circle cx="1203.6" cy="886.7" r="5.6"/><circle cx="1204.5" cy="885.1" r="5.6"/><circle cx="1205.7" cy="883.3" r="5.6"/><circle cx="1207.1" cy="881.7" r="5.6"/><circle cx="1208.4" cy="882.3" r="5.6"/><circle cx="1209.7" cy="878.1" r="5.6"/><circle cx="1211.1" cy="877.2" r="5.6"/><circle cx="1212.4" cy="876.6" r="5.6"/><circle cx="1213.3" cy="877.1" r="5.6"/><circle cx="1214.6" cy="875.3" r="5.6"/><circle cx="1216.0" cy="870.7" r="5.6"/><circle cx="1217.1" cy="873.9" r="5.6"/><circle cx="1218.3" cy="868.3" r="5.6"/><circle cx="1219.2" cy="868.6" r="5.6"/><circle cx="1220.6" cy="867.0" r="5.6"/><circle cx="1221.9" cy="864.7" r="5.6"/><circle cx="1223.4" cy="862.6" r="5.6"/><circle cx="1224.6" cy="864.0" r="5.6"/><circle cx="1225.4" cy="860.9" r="5.6"/><circle cx="1226.2" cy="859.6" r="5.6"/><circle cx="1227.3" cy="860.4" r="5.6"/><circle cx="1228.7" cy="860.8" r="5.6"/><circle cx="1230.1" cy="856.0" r="5.6"/><circle cx="1231.0" cy="856.0" r="5.6"/><circle cx="1231.9" cy="854.0" r="5.6"/><circle cx="1233.1" cy="853.8" r="5.6"/><circle cx="1233.9" cy="851.5" r="5.6"/><circle cx="1235.3" cy="852.0" r="5.6"/><circle cx="1236.5" cy="848.8" r="5.6"/><circle cx="1237.9" cy="850.8" r="5.6"/><circle cx="1239.0" cy="845.8" r="5.6"/><circle cx="1240.1" cy="846.1" r="5.6"/><circle cx="1241.2" cy="844.7" r="5.6"/><circle cx="1242.0" cy="841.5" r="5.6"/><circle cx="1242.9" cy="842.7" r="5.6"/><circle cx="1244.0" cy="841.8" r="5.6"/><circle cx="1244.9" cy="842.0" r="5.6"/><circle cx="1246.1" cy="841.2" r="5.6"/><circle cx="1246.9" cy="839.1" r="5.6"/><circle cx="1248.0" cy="837.0" r="5.6"/><circle cx="1249.3" cy="834.6" r="5.6"/><circle cx="1250.4" cy="836.3" r="5.6"/><circle cx="1251.8" cy="833.6" r="5.6"/><circle cx="1252.9" cy="832.7" r="5.6"/><circle cx="1254.0" cy="831.3" r="5.6"/><circle cx="1255.3" cy="830.4" r="5.6"/><circle cx="1256.4" cy="827.3" r="5.6"/><circle cx="1257.8" cy="827.0" r="5.6"/><circle cx="1259.2" cy="827.0" r="5.6"/><circle cx="1260.1" cy="826.3" r="5.6"/><circle cx="1261.5" cy="823.1" r="5.6"/><circle cx="1262.3" cy="820.2" r="5.6"/><circle cx="1263.1" cy="819.3" r="5.6"/><circle cx="1264.0" cy="817.6" r="5.6"/><circle cx="1265.4" cy="817.0" r="5.6"/><circle cx="1266.8" cy="815.1" r="5.6"/><circle cx="1268.0" cy="813.3" r="5.6"/><circle cx="1268.8" cy="811.6" r="5.6"/><circle cx="1269.7" cy="815.1" r="5.6"/><circle cx="1271.1" cy="812.5" r="5.6"/><circle cx="1272.6" cy="808.9" r="5.6"/><circle cx="1274.0" cy="807.5" r="5.6"/><circle cx="1275.1" cy="805.9" r="5.6"/><circle cx="1276.1" cy="805.5" r="5.6"/><circle cx="1277.3" cy="803.5" r="5.6"/><circle cx="1278.1" cy="804.9" r="5.6"/><circle cx="1278.8" cy="803.2" r="5.6"/><circle cx="1279.8" cy="802.8" r="5.6"/><circle cx="1280.6" cy="801.9" r="5.6"/><circle cx="1282.1" cy="798.4" r="5.6"/><circle cx="1282.9" cy="801.5" r="5.6"/><circle cx="1283.8" cy="795.2" r="5.6"/><circle cx="1284.7" cy="795.7" r="5.6"/><circle cx="1285.6" cy="797.7" r="5.6"/><circle cx="1286.9" cy="792.6" r="5.6"/><circle cx="1287.8" cy="791.2" r="5.6"/><circle cx="1289.0" cy="789.3" r="5.6"/><circle cx="1290.2" cy="789.8" r="5.6"/><circle cx="1291.5" cy="788.5" r="5.6"/><circle cx="1292.5" cy="785.0" r="5.6"/><circle cx="1293.7" cy="785.0" r="5.6"/><circle cx="1295.1" cy="782.7" r="5.6"/><circle cx="1295.9" cy="782.7" r="5.6"/><circle cx="1297.2" cy="783.4" r="5.6"/><circle cx="1298.4" cy="780.8" r="5.6"/><circle cx="1299.8" cy="779.6" r="5.6"/><circle cx="1300.9" cy="777.6" r="5.6"/><circle cx="1301.8" cy="776.7" r="5.6"/><circle cx="1302.6" cy="775.9" r="5.6"/><circle cx="1303.5" cy="775.8" r="5.6"/><circle cx="1304.8" cy="773.0" r="5.6"/><circle cx="1305.7" cy="773.7" r="5.6"/><circle cx="1306.7" cy="771.8" r="5.6"/><circle cx="1307.5" cy="771.0" r="5.6"/><circle cx="1308.7" cy="769.3" r="5.6"/><circle cx="1309.9" cy="767.8" r="5.6"/><circle cx="1311.3" cy="765.4" r="5.6"/><circle cx="1312.1" cy="765.2" r="5.6"/><circle cx="1313.2" cy="765.8" r="5.6"/><circle cx="1314.6" cy="764.2" r="5.6"/><circle cx="1315.8" cy="760.8" r="5.6"/><circle cx="1317.3" cy="761.3" r="5.6"/><circle cx="1318.5" cy="756.7" r="5.6"/><circle cx="1319.7" cy="758.3" r="5.6"/><circle cx="1320.5" cy="755.8" r="5.6"/><circle cx="1321.3" cy="753.7" r="5.6"/><circle cx="1322.3" cy="753.6" r="5.6"/><circle cx="1323.1" cy="751.5" r="5.6"/><circle cx="1324.5" cy="750.8" r="5.6"/><circle cx="1325.7" cy="750.8" r="5.6"/><circle cx="1326.7" cy="748.7" r="5.6"/><circle cx="1327.8" cy="747.7" r="5.6"/><circle cx="1328.7" cy="746.3" r="5.6"/><circle cx="1330.1" cy="744.2" r="5.6"/><circle cx="1331.0" cy="745.0" r="5.6"/><circle cx="1332.5" cy="743.6" r="5.6"/><circle cx="1333.2" cy="741.3" r="5.6"/><circle cx="1334.2" cy="742.6" r="5.6"/><circle cx="1182.0" cy="867.6" r="5.6"/><circle cx="1188.0" cy="867.9" r="5.6"/><circle cx="1165.2" cy="904.9" r="5.6"/><circle cx="1171.2" cy="898.2" r="5.6"/><circle cx="1178.6" cy="900.5" r="5.6"/><circle cx="1143.4" cy="932.4" r="5.6"/><circle cx="1150.1" cy="933.1" r="5.6"/><circle cx="1129.9" cy="958.6" r="5.6"/><circle cx="1136.7" cy="954.2" r="5.6"/><circle cx="1195.4" cy="888.1" r="5.6"/><circle cx="1223.9" cy="852.8" r="5.6"/><circle cx="1230.6" cy="850.2" r="5.6"/><circle cx="1254.8" cy="850.2" r="5.6"/><circle cx="1260.9" cy="863.6" r="5.6"/><circle cx="1267.6" cy="834.4" r="5.6"/><circle cx="1273.6" cy="830.0" r="5.6"/><circle cx="1275.3" cy="817.6" r="5.6"/><circle cx="1300.1" cy="785.7" r="5.6"/><circle cx="1307.9" cy="781.3" r="5.6"/><circle cx="1315.6" cy="771.3" r="5.6"/><circle cx="1321.3" cy="768.9" r="5.6"/><circle cx="1346.5" cy="768.6" r="5.6"/><circle cx="1350.8" cy="776.6" r="5.6"/><circle cx="1345.8" cy="728.6" r="5.6"/><circle cx="1351.5" cy="721.6" r="5.6"/><circle cx="1358.2" cy="728.6" r="5.6"/><circle cx="1363.2" cy="727.0" r="5.6"/><circle cx="1367.3" cy="705.1" r="5.6"/><circle cx="1370.6" cy="703.1" r="5.6"/><circle cx="1373.3" cy="699.1" r="5.6"/><circle cx="1386.7" cy="683.3" r="5.6"/><circle cx="1390.1" cy="682.3" r="5.6"/><circle cx="1393.5" cy="681.3" r="5.6"/><circle cx="1396.1" cy="671.6" r="5.6"/><circle cx="1399.2" cy="670.9" r="5.6"/><circle cx="1401.8" cy="670.6" r="5.6"/><circle cx="1406.9" cy="659.8" r="5.6"/><circle cx="1409.6" cy="657.8" r="5.6"/><circle cx="1411.9" cy="655.5" r="5.6"/><circle cx="1415.3" cy="652.1" r="5.6"/><circle cx="1417.6" cy="650.4" r="5.6"/><circle cx="1101.4" cy="999.5" r="5.6"/><circle cx="1331.4" cy="746.1" r="5.6"/><circle cx="1326.3" cy="751.1" r="5.6"/></g>
<rect x="1084.5" y="632.8" width="347.7" height="386.7" fill="none" stroke="#262626" stroke-width="1.7"/>
<line x1="1084.6" y1="1019.5" x2="1084.6" y2="1026.0" stroke="#262626" stroke-width="1.7"/><text x="1084.6" y="1060.7" dx="0.90" font-size="31.8" letter-spacing="1.80" text-anchor="middle" fill="#000">1</text>
<line x1="1145.9" y1="1019.5" x2="1145.9" y2="1026.0" stroke="#262626" stroke-width="1.7"/><text x="1145.9" y="1060.7" dx="0.90" font-size="31.8" letter-spacing="1.80" text-anchor="middle" fill="#000">2</text>
<line x1="1207.3" y1="1019.5" x2="1207.3" y2="1026.0" stroke="#262626" stroke-width="1.7"/><text x="1207.3" y="1060.7" dx="0.90" font-size="31.8" letter-spacing="1.80" text-anchor="middle" fill="#000">3</text>
<line x1="1268.6" y1="1019.5" x2="1268.6" y2="1026.0" stroke="#262626" stroke-width="1.7"/><text x="1268.6" y="1060.7" dx="0.90" font-size="31.8" letter-spacing="1.80" text-anchor="middle" fill="#000">4</text>
<line x1="1330.0" y1="1019.5" x2="1330.0" y2="1026.0" stroke="#262626" stroke-width="1.7"/><text x="1330.0" y="1060.7" dx="0.90" font-size="31.8" letter-spacing="1.80" text-anchor="middle" fill="#000">5</text>
<line x1="1391.3" y1="1019.5" x2="1391.3" y2="1026.0" stroke="#262626" stroke-width="1.7"/><text x="1391.3" y="1060.7" dx="0.90" font-size="31.8" letter-spacing="1.80" text-anchor="middle" fill="#000">6</text>
<line x1="1078.0" y1="1019.4" x2="1084.5" y2="1019.4" stroke="#262626" stroke-width="1.7"/><text x="1067.0" y="1027.2" dx="1.80" font-size="31.8" letter-spacing="1.80" text-anchor="end" fill="#000">1</text>
<line x1="1078.0" y1="951.2" x2="1084.5" y2="951.2" stroke="#262626" stroke-width="1.7"/><text x="1067.0" y="959.0" dx="1.80" font-size="31.8" letter-spacing="1.80" text-anchor="end" fill="#000">2</text>
<line x1="1078.0" y1="883.0" x2="1084.5" y2="883.0" stroke="#262626" stroke-width="1.7"/><text x="1067.0" y="890.8" dx="1.80" font-size="31.8" letter-spacing="1.80" text-anchor="end" fill="#000">3</text>
<line x1="1078.0" y1="814.8" x2="1084.5" y2="814.8" stroke="#262626" stroke-width="1.7"/><text x="1067.0" y="822.6" dx="1.80" font-size="31.8" letter-spacing="1.80" text-anchor="end" fill="#000">4</text>
<line x1="1078.0" y1="746.6" x2="1084.5" y2="746.6" stroke="#262626" stroke-width="1.7"/><text x="1067.0" y="754.4" dx="1.80" font-size="31.8" letter-spacing="1.80" text-anchor="end" fill="#000">5</text>
<line x1="1078.0" y1="678.4" x2="1084.5" y2="678.4" stroke="#262626" stroke-width="1.7"/><text x="1067.0" y="686.2" dx="1.80" font-size="31.8" letter-spacing="1.80" text-anchor="end" fill="#000">6</text>
<text x="0" y="0" dx="1.06" transform="translate(984.9,826.6) rotate(-90)" font-size="31.3" letter-spacing="2.13" text-anchor="middle" fill="#000">Predicted Growth Rate</text>
<text x="0" y="0" dx="1.17" transform="translate(1036.0,824.2) rotate(-90)" font-size="31.3" letter-spacing="2.34" text-anchor="middle" fill="#000">( x 10 <tspan dy="-14.7">−2</tspan><tspan dy="14.7"> g/L/h)</tspan></text>
<text x="1250.5" y="1100.2" dx="1.10" font-size="31.3" letter-spacing="2.21" text-anchor="middle" fill="#000">Measured Growth Rate</text>
<text x="1260.8" y="1148.1" dx="1.17" font-size="31.3" letter-spacing="2.34" text-anchor="middle" fill="#000">( x 10 <tspan dy="-14.7">−2</tspan><tspan dy="14.7"> g/L/h)</tspan></text>
<text x="922" y="635" font-size="55.6" font-weight="bold" fill="#000">c</text>
</g>
<g id="panelD">
<path d="M1093.4,1296.7 V1340.2 M1088.4,1296.7 H1098.4 M1088.4,1340.2 H1098.4" stroke="#E20A17" stroke-width="2.2" fill="none"/><path d="M1146.6,1209.0 V1292.3 M1141.6,1209.0 H1151.6 M1141.6,1292.3 H1151.6" stroke="#E20A17" stroke-width="2.2" fill="none"/><path d="M1199.4,1214.0 V1264.2 M1194.4,1214.0 H1204.4 M1194.4,1264.2 H1204.4" stroke="#E20A17" stroke-width="2.2" fill="none"/><path d="M1252.6,1233.8 V1309.7 M1247.6,1233.8 H1257.6 M1247.6,1309.7 H1257.6" stroke="#E20A17" stroke-width="2.2" fill="none"/><path d="M1305.5,1268.6 V1313.1 M1300.5,1268.6 H1310.5 M1300.5,1313.1 H1310.5" stroke="#E20A17" stroke-width="2.2" fill="none"/><path d="M1358.7,1237.8 V1288.0 M1353.7,1237.8 H1363.7 M1353.7,1288.0 H1363.7" stroke="#E20A17" stroke-width="2.2" fill="none"/><path d="M1411.9,1222.4 V1268.2 M1406.9,1222.4 H1416.9 M1406.9,1268.2 H1416.9" stroke="#E20A17" stroke-width="2.2" fill="none"/><polyline points="1093.4,1318.4 1146.6,1250.5 1199.4,1239.5 1252.6,1272.3 1305.5,1291.0 1358.7,1262.9 1411.9,1245.8" fill="none" stroke="#E20A17" stroke-width="2.6" stroke-linejoin="round"/><polygon points="1093.4,1310.6 1098.2,1318.4 1093.4,1326.2 1088.6,1318.4" fill="#E20A17"/><polygon points="1146.6,1242.7 1151.4,1250.5 1146.6,1258.3 1141.8,1250.5" fill="#E20A17"/><polygon points="1199.4,1231.7 1204.2,1239.5 1199.4,1247.3 1194.6,1239.5" fill="#E20A17"/><polygon points="1252.6,1264.5 1257.4,1272.3 1252.6,1280.1 1247.8,1272.3" fill="#E20A17"/><polygon points="1305.5,1283.2 1310.3,1291.0 1305.5,1298.8 1300.7,1291.0" fill="#E20A17"/><polygon points="1358.7,1255.1 1363.5,1262.9 1358.7,1270.7 1353.9,1262.9" fill="#E20A17"/><polygon points="1411.9,1238.0 1416.7,1245.8 1411.9,1253.6 1407.1,1245.8" fill="#E20A17"/>
<path d="M1093.4,1319.8 V1355.2 M1088.4,1319.8 H1098.4 M1088.4,1355.2 H1098.4" stroke="#F39400" stroke-width="2.2" fill="none"/><path d="M1146.6,1362.3 V1447.9 M1141.6,1362.3 H1151.6 M1141.6,1447.9 H1151.6" stroke="#F39400" stroke-width="2.2" fill="none"/><path d="M1199.4,1391.7 V1485.4 M1194.4,1391.7 H1204.4 M1194.4,1485.4 H1204.4" stroke="#F39400" stroke-width="2.2" fill="none"/><path d="M1252.6,1472.0 V1513.8 M1247.6,1472.0 H1257.6 M1247.6,1513.8 H1257.6" stroke="#F39400" stroke-width="2.2" fill="none"/><path d="M1305.5,1445.9 V1530.9 M1300.5,1445.9 H1310.5 M1300.5,1530.9 H1310.5" stroke="#F39400" stroke-width="2.2" fill="none"/><path d="M1358.7,1513.5 V1544.3 M1353.7,1513.5 H1363.7 M1353.7,1544.3 H1363.7" stroke="#F39400" stroke-width="2.2" fill="none"/><path d="M1411.9,1515.2 V1561.3 M1406.9,1515.2 H1416.9 M1406.9,1561.3 H1416.9" stroke="#F39400" stroke-width="2.2" fill="none"/><polyline points="1093.4,1337.5 1146.6,1405.1 1199.4,1438.5 1252.6,1493.1 1305.5,1488.7 1358.7,1528.9 1411.9,1538.2" fill="none" stroke="#F39400" stroke-width="2.6" stroke-linejoin="round"/><rect x="1087.4" y="1331.5" width="12.0" height="12.0" fill="#F39400"/><rect x="1140.6" y="1399.1" width="12.0" height="12.0" fill="#F39400"/><rect x="1193.4" y="1432.5" width="12.0" height="12.0" fill="#F39400"/><rect x="1246.6" y="1487.1" width="12.0" height="12.0" fill="#F39400"/><rect x="1299.5" y="1482.7" width="12.0" height="12.0" fill="#F39400"/><rect x="1352.7" y="1522.9" width="12.0" height="12.0" fill="#F39400"/><rect x="1405.9" y="1532.2" width="12.0" height="12.0" fill="#F39400"/>
<rect x="1078.0" y="1189.3" width="350.6" height="389.5" fill="none" stroke="#262626" stroke-width="1.7"/>
<line x1="1093.4" y1="1578.8" x2="1093.4" y2="1585.3" stroke="#262626" stroke-width="1.7"/><text x="1091.4" y="1619.0" dx="0.90" font-size="33.3" letter-spacing="1.80" text-anchor="middle" fill="#000">1</text>
<line x1="1146.6" y1="1578.8" x2="1146.6" y2="1585.3" stroke="#262626" stroke-width="1.7"/><text x="1146.6" y="1619.0" dx="0.90" font-size="33.3" letter-spacing="1.80" text-anchor="middle" fill="#000">2</text>
<line x1="1199.4" y1="1578.8" x2="1199.4" y2="1585.3" stroke="#262626" stroke-width="1.7"/><text x="1199.9" y="1619.0" dx="0.90" font-size="33.3" letter-spacing="1.80" text-anchor="middle" fill="#000">3</text>
<line x1="1252.6" y1="1578.8" x2="1252.6" y2="1585.3" stroke="#262626" stroke-width="1.7"/><text x="1247.6" y="1619.0" dx="0.90" font-size="33.3" letter-spacing="1.80" text-anchor="middle" fill="#000">4</text>
<line x1="1305.5" y1="1578.8" x2="1305.5" y2="1585.3" stroke="#262626" stroke-width="1.7"/><text x="1306.5" y="1619.0" dx="0.90" font-size="33.3" letter-spacing="1.80" text-anchor="middle" fill="#000">5</text>
<line x1="1358.7" y1="1578.8" x2="1358.7" y2="1585.3" stroke="#262626" stroke-width="1.7"/><text x="1361.5" y="1619.0" dx="0.90" font-size="33.3" letter-spacing="1.80" text-anchor="middle" fill="#000">6</text>
<line x1="1411.9" y1="1578.8" x2="1411.9" y2="1585.3" stroke="#262626" stroke-width="1.7"/><text x="1414.7" y="1619.0" dx="0.90" font-size="33.3" letter-spacing="1.80" text-anchor="middle" fill="#000">7</text>
<line x1="1071.5" y1="1535.4" x2="1078.0" y2="1535.4" stroke="#262626" stroke-width="1.7"/><text x="1064.1" y="1549.8" dx="1.80" font-size="33.3" letter-spacing="1.80" text-anchor="end" fill="#000">0.5</text>
<line x1="1071.5" y1="1448.9" x2="1078.0" y2="1448.9" stroke="#262626" stroke-width="1.7"/><text x="1064.1" y="1463.3" dx="1.80" font-size="33.3" letter-spacing="1.80" text-anchor="end" fill="#000">1.0</text>
<line x1="1071.5" y1="1362.3" x2="1078.0" y2="1362.3" stroke="#262626" stroke-width="1.7"/><text x="1064.1" y="1376.8" dx="1.80" font-size="33.3" letter-spacing="1.80" text-anchor="end" fill="#000">1.5</text>
<line x1="1071.5" y1="1275.8" x2="1078.0" y2="1275.8" stroke="#262626" stroke-width="1.7"/><text x="1064.1" y="1290.2" dx="1.80" font-size="33.3" letter-spacing="1.80" text-anchor="end" fill="#000">2.0</text>
<line x1="1071.5" y1="1189.3" x2="1078.0" y2="1189.3" stroke="#262626" stroke-width="1.7"/><text x="1064.1" y="1203.7" dx="1.80" font-size="33.3" letter-spacing="1.80" text-anchor="end" fill="#000">2.5</text>
<rect x="1092.3" y="1472" width="141.2" height="92.3" rx="4.5" fill="#fff" fill-opacity="0.8" stroke="#CFCFCF" stroke-width="1.6"/>
<path d="M1102.4,1494.7 H1162.0 M1132.2,1480.4 V1509.0 M1127.2,1480.4 H1137.2 M1127.2,1509.0 H1137.2" stroke="#F39400" stroke-width="2.4" fill="none"/><rect x="1126.2" y="1488.7" width="12.0" height="12.0" fill="#F39400"/><text x="1184.4" y="1504.2" font-size="25.5" letter-spacing="0.30" text-anchor="start" fill="#000">FB</text>
<path d="M1102.4,1536.9 H1162.0 M1132.2,1522.6 V1551.2 M1127.2,1522.6 H1137.2 M1127.2,1551.2 H1137.2" stroke="#E20A17" stroke-width="2.4" fill="none"/><polygon points="1132.2,1529.1 1137.0,1536.9 1132.2,1544.7 1127.4,1536.9" fill="#E20A17"/><text x="1184.4" y="1546.4" font-size="25.5" letter-spacing="0.30" text-anchor="start" fill="#000">SC</text>
<text x="0" y="0" dx="0.87" transform="translate(992.4,1368.5) rotate(-90)" font-size="31.8" letter-spacing="1.74" text-anchor="middle" fill="#000">Biomass (g/L/day)</text>
<text x="1243.6" y="1660.5" dx="1.34" font-size="31.2" letter-spacing="2.68" text-anchor="middle" fill="#000">Time (day)</text>
<text x="922" y="1170.5" font-size="55.6" font-weight="bold" fill="#000">d</text>
</g>
<g id="panelE">
<rect x="1662.9" y="177.3" width="42.1" height="318.2" fill="#3585BC"/>
<rect x="1746.7" y="143.6" width="42.1" height="351.9" fill="#3585BC"/>
<rect x="1830.5" y="231.7" width="42.1" height="263.8" fill="#3585BC"/>
<rect x="1914.2" y="278.2" width="42.1" height="217.3" fill="#3585BC"/>
<path d="M1683.9,170.0 V184.9 M1678.4,170.0 H1689.4 M1678.4,184.9 H1689.4" stroke="#000" stroke-width="2" fill="none"/>
<path d="M1767.7,116.3 V171.7 M1762.2,116.3 H1773.2 M1762.2,171.7 H1773.2" stroke="#000" stroke-width="2" fill="none"/>
<path d="M1851.5,207.9 V255.1 M1846.0,207.9 H1857.0 M1846.0,255.1 H1857.0" stroke="#000" stroke-width="2" fill="none"/>
<path d="M1935.3,260.7 V296.3 M1929.8,260.7 H1940.8 M1929.8,296.3 H1940.8" stroke="#000" stroke-width="2" fill="none"/>
<polygon points="1683.9,146.8 1685.4,150.5 1689.3,150.8 1686.3,153.3 1687.3,157.2 1683.9,155.0 1680.5,157.2 1681.5,153.3 1678.5,150.8 1682.4,150.5" fill="#4169E1" stroke="#4169E1" stroke-width="1.1" stroke-linejoin="round"/><polygon points="1683.9,158.7 1685.4,162.4 1689.3,162.7 1686.3,165.2 1687.3,169.0 1683.9,166.9 1680.5,169.0 1681.5,165.2 1678.5,162.7 1682.4,162.4" fill="#4169E1" stroke="#4169E1" stroke-width="1.1" stroke-linejoin="round"/><polygon points="1683.9,174.2 1685.4,177.9 1689.3,178.1 1686.3,180.7 1687.3,184.5 1683.9,182.4 1680.5,184.5 1681.5,180.7 1678.5,178.1 1682.4,177.9" fill="#4169E1" stroke="#4169E1" stroke-width="1.1" stroke-linejoin="round"/><polygon points="1683.9,179.2 1685.4,182.8 1689.3,183.1 1686.3,185.6 1687.3,189.5 1683.9,187.4 1680.5,189.5 1681.5,185.6 1678.5,183.1 1682.4,182.8" fill="#4169E1" stroke="#4169E1" stroke-width="1.1" stroke-linejoin="round"/><polygon points="1683.9,184.1 1685.4,187.8 1689.3,188.0 1686.3,190.6 1687.3,194.4 1683.9,192.3 1680.5,194.4 1681.5,190.6 1678.5,188.0 1682.4,187.8" fill="#4169E1" stroke="#4169E1" stroke-width="1.1" stroke-linejoin="round"/><polygon points="1683.9,186.4 1685.4,190.1 1689.3,190.3 1686.3,192.9 1687.3,196.7 1683.9,194.6 1680.5,196.7 1681.5,192.9 1678.5,190.3 1682.4,190.1" fill="#4169E1" stroke="#4169E1" stroke-width="1.1" stroke-linejoin="round"/>
<polygon points="1767.7,101.7 1769.2,105.3 1773.1,105.6 1770.1,108.1 1771.1,112.0 1767.7,109.9 1764.3,112.0 1765.3,108.1 1762.3,105.6 1766.2,105.3" fill="#4169E1" stroke="#4169E1" stroke-width="1.1" stroke-linejoin="round"/><polygon points="1767.7,118.2 1769.2,121.8 1773.1,122.1 1770.1,124.6 1771.1,128.5 1767.7,126.4 1764.3,128.5 1765.3,124.6 1762.3,122.1 1766.2,121.8" fill="#4169E1" stroke="#4169E1" stroke-width="1.1" stroke-linejoin="round"/><polygon points="1767.7,128.0 1769.2,131.7 1773.1,132.0 1770.1,134.5 1771.1,138.4 1767.7,136.2 1764.3,138.4 1765.3,134.5 1762.3,132.0 1766.2,131.7" fill="#4169E1" stroke="#4169E1" stroke-width="1.1" stroke-linejoin="round"/><polygon points="1767.7,132.3 1769.2,136.0 1773.1,136.3 1770.1,138.8 1771.1,142.6 1767.7,140.5 1764.3,142.6 1765.3,138.8 1762.3,136.3 1766.2,136.0" fill="#4169E1" stroke="#4169E1" stroke-width="1.1" stroke-linejoin="round"/><polygon points="1767.7,173.5 1769.2,177.2 1773.1,177.5 1770.1,180.0 1771.1,183.9 1767.7,181.7 1764.3,183.9 1765.3,180.0 1762.3,177.5 1766.2,177.2" fill="#4169E1" stroke="#4169E1" stroke-width="1.1" stroke-linejoin="round"/><polygon points="1767.7,176.5 1769.2,180.2 1773.1,180.5 1770.1,183.0 1771.1,186.8 1767.7,184.7 1764.3,186.8 1765.3,183.0 1762.3,180.5 1766.2,180.2" fill="#4169E1" stroke="#4169E1" stroke-width="1.1" stroke-linejoin="round"/>
<polygon points="1851.5,187.4 1853.0,191.1 1856.9,191.3 1853.9,193.9 1854.9,197.7 1851.5,195.6 1848.1,197.7 1849.1,193.9 1846.1,191.3 1850.0,191.1" fill="#4169E1" stroke="#4169E1" stroke-width="1.1" stroke-linejoin="round"/><polygon points="1851.5,218.7 1853.0,222.4 1856.9,222.7 1853.9,225.2 1854.9,229.0 1851.5,226.9 1848.1,229.0 1849.1,225.2 1846.1,222.7 1850.0,222.4" fill="#4169E1" stroke="#4169E1" stroke-width="1.1" stroke-linejoin="round"/><polygon points="1851.5,225.3 1853.0,229.0 1856.9,229.3 1853.9,231.8 1854.9,235.6 1851.5,233.5 1848.1,235.6 1849.1,231.8 1846.1,229.3 1850.0,229.0" fill="#4169E1" stroke="#4169E1" stroke-width="1.1" stroke-linejoin="round"/><polygon points="1851.5,229.3 1853.0,232.9 1856.9,233.2 1853.9,235.7 1854.9,239.6 1851.5,237.5 1848.1,239.6 1849.1,235.7 1846.1,233.2 1850.0,232.9" fill="#4169E1" stroke="#4169E1" stroke-width="1.1" stroke-linejoin="round"/><polygon points="1851.5,233.6 1853.0,237.2 1856.9,237.5 1853.9,240.0 1854.9,243.9 1851.5,241.8 1848.1,243.9 1849.1,240.0 1846.1,237.5 1850.0,237.2" fill="#4169E1" stroke="#4169E1" stroke-width="1.1" stroke-linejoin="round"/><polygon points="1851.5,267.5 1853.0,271.2 1856.9,271.5 1853.9,274.0 1854.9,277.8 1851.5,275.7 1848.1,277.8 1849.1,274.0 1846.1,271.5 1850.0,271.2" fill="#4169E1" stroke="#4169E1" stroke-width="1.1" stroke-linejoin="round"/>
<polygon points="1935.3,254.3 1936.8,258.0 1940.7,258.3 1937.7,260.8 1938.7,264.6 1935.3,262.5 1931.9,264.6 1932.9,260.8 1929.9,258.3 1933.8,258.0" fill="#4169E1" stroke="#4169E1" stroke-width="1.1" stroke-linejoin="round"/><polygon points="1935.3,259.9 1936.8,263.6 1940.7,263.9 1937.7,266.4 1938.7,270.2 1935.3,268.1 1931.9,270.2 1932.9,266.4 1929.9,263.9 1933.8,263.6" fill="#4169E1" stroke="#4169E1" stroke-width="1.1" stroke-linejoin="round"/><polygon points="1935.3,264.9 1936.8,268.6 1940.7,268.8 1937.7,271.3 1938.7,275.2 1935.3,273.1 1931.9,275.2 1932.9,271.3 1929.9,268.8 1933.8,268.6" fill="#4169E1" stroke="#4169E1" stroke-width="1.1" stroke-linejoin="round"/><polygon points="1935.3,268.2 1936.8,271.9 1940.7,272.1 1937.7,274.6 1938.7,278.5 1935.3,276.4 1931.9,278.5 1932.9,274.6 1929.9,272.1 1933.8,271.9" fill="#4169E1" stroke="#4169E1" stroke-width="1.1" stroke-linejoin="round"/><polygon points="1935.3,287.3 1936.8,291.0 1940.7,291.2 1937.7,293.8 1938.7,297.6 1935.3,295.5 1931.9,297.6 1932.9,293.8 1929.9,291.2 1933.8,291.0" fill="#4169E1" stroke="#4169E1" stroke-width="1.1" stroke-linejoin="round"/><polygon points="1935.3,303.8 1936.8,307.5 1940.7,307.7 1937.7,310.3 1938.7,314.1 1935.3,312.0 1931.9,314.1 1932.9,310.3 1929.9,307.7 1933.8,307.5" fill="#4169E1" stroke="#4169E1" stroke-width="1.1" stroke-linejoin="round"/>
<path d="M1631.9,231.0 C1634.0,227.4 1639.0,217.3 1644.4,209.6 C1649.8,201.9 1657.6,191.7 1664.2,184.9 C1670.8,178.0 1677.4,172.8 1684.0,168.4 C1690.6,164.0 1697.7,160.8 1703.8,158.5 C1709.8,156.2 1715.9,155.3 1720.3,154.5 C1724.6,153.7 1726.3,153.5 1730.1,153.5 C1734.0,153.5 1736.7,153.1 1743.3,154.5 C1749.9,155.9 1759.8,157.8 1769.7,161.8 C1779.6,165.7 1791.7,172.5 1802.7,178.3 C1813.7,184.0 1827.4,191.7 1835.6,196.4 C1843.9,201.1 1846.6,202.7 1852.1,206.3 C1857.6,209.9 1863.1,213.7 1868.6,217.8 C1874.1,221.9 1879.6,226.1 1885.1,231.0 C1890.6,236.0 1896.1,242.0 1901.6,247.5 C1907.1,253.0 1912.6,259.0 1918.1,264.0 C1923.6,268.9 1929.1,273.0 1934.6,277.2 C1940.1,281.3 1945.8,285.4 1951.0,288.7 C1956.3,292.0 1963.4,295.6 1965.9,297.0" fill="none" stroke="#FF0000" stroke-width="2.7" stroke-linecap="square"/>
<rect x="1616.2" y="88.2" width="366.2" height="407.3" fill="none" stroke="#262626" stroke-width="1.7"/>
<line x1="1683.9" y1="495.5" x2="1683.9" y2="502.0" stroke="#262626" stroke-width="1.7"/><text x="1683.9" y="537.1" dx="0.90" font-size="34.0" letter-spacing="1.80" text-anchor="middle" fill="#000">1</text>
<line x1="1767.7" y1="495.5" x2="1767.7" y2="502.0" stroke="#262626" stroke-width="1.7"/><text x="1767.7" y="537.1" dx="0.90" font-size="34.0" letter-spacing="1.80" text-anchor="middle" fill="#000">2</text>
<line x1="1851.5" y1="495.5" x2="1851.5" y2="502.0" stroke="#262626" stroke-width="1.7"/><text x="1851.5" y="537.1" dx="0.90" font-size="34.0" letter-spacing="1.80" text-anchor="middle" fill="#000">3</text>
<line x1="1935.3" y1="495.5" x2="1935.3" y2="502.0" stroke="#262626" stroke-width="1.7"/><text x="1935.3" y="537.1" dx="0.90" font-size="34.0" letter-spacing="1.80" text-anchor="middle" fill="#000">4</text>
<line x1="1609.7" y1="495.1" x2="1616.2" y2="495.1" stroke="#262626" stroke-width="1.7"/><text x="1601.8" y="509.9" dx="1.80" font-size="34.0" letter-spacing="1.80" text-anchor="end" fill="#000">0.00</text>
<line x1="1609.7" y1="444.7" x2="1616.2" y2="444.7" stroke="#262626" stroke-width="1.7"/><text x="1601.8" y="459.5" dx="1.80" font-size="34.0" letter-spacing="1.80" text-anchor="end" fill="#000">0.25</text>
<line x1="1609.7" y1="394.2" x2="1616.2" y2="394.2" stroke="#262626" stroke-width="1.7"/><text x="1601.8" y="409.0" dx="1.80" font-size="34.0" letter-spacing="1.80" text-anchor="end" fill="#000">0.50</text>
<line x1="1609.7" y1="343.8" x2="1616.2" y2="343.8" stroke="#262626" stroke-width="1.7"/><text x="1601.8" y="358.6" dx="1.80" font-size="34.0" letter-spacing="1.80" text-anchor="end" fill="#000">0.75</text>
<line x1="1609.7" y1="293.3" x2="1616.2" y2="293.3" stroke="#262626" stroke-width="1.7"/><text x="1601.8" y="308.1" dx="1.80" font-size="34.0" letter-spacing="1.80" text-anchor="end" fill="#000">1.00</text>
<line x1="1609.7" y1="242.9" x2="1616.2" y2="242.9" stroke="#262626" stroke-width="1.7"/><text x="1601.8" y="257.7" dx="1.80" font-size="34.0" letter-spacing="1.80" text-anchor="end" fill="#000">1.25</text>
<line x1="1609.7" y1="192.4" x2="1616.2" y2="192.4" stroke="#262626" stroke-width="1.7"/><text x="1601.8" y="207.2" dx="1.80" font-size="34.0" letter-spacing="1.80" text-anchor="end" fill="#000">1.50</text>
<line x1="1609.7" y1="141.9" x2="1616.2" y2="141.9" stroke="#262626" stroke-width="1.7"/><text x="1601.8" y="156.8" dx="1.80" font-size="34.0" letter-spacing="1.80" text-anchor="end" fill="#000">1.75</text>
<line x1="1609.7" y1="91.5" x2="1616.2" y2="91.5" stroke="#262626" stroke-width="1.7"/><text x="1601.8" y="106.3" dx="1.80" font-size="34.0" letter-spacing="1.80" text-anchor="end" fill="#000">2.00</text>
<text x="1788.7" y="76.0" dx="0.96" font-size="33.0" letter-spacing="1.92" text-anchor="middle" fill="#000">Low Light</text>
<text x="0" y="0" dx="1.18" transform="translate(1512.5,294.5) rotate(-90)" font-size="33.0" letter-spacing="2.37" text-anchor="middle" fill="#000">Productivity (OD/day)</text>
<text x="1456.5" y="73.0" font-size="55.6" font-weight="bold" fill="#000">e</text>
</g>
<g id="panelF">
<rect x="1661.8" y="705.5" width="42.1" height="336.5" fill="#4C92C3"/>
<rect x="1745.8" y="668.3" width="42.1" height="373.7" fill="#4C92C3"/>
<rect x="1829.9" y="673.2" width="42.1" height="368.8" fill="#4C92C3"/>
<rect x="1913.9" y="705.8" width="42.1" height="336.2" fill="#4C92C3"/>
<path d="M1682.8,700.2 V711.8 M1677.3,700.2 H1688.3 M1677.3,711.8 H1688.3" stroke="#000" stroke-width="2" fill="none"/>
<path d="M1766.8,662.3 V674.8 M1761.3,662.3 H1772.3 M1761.3,674.8 H1772.3" stroke="#000" stroke-width="2" fill="none"/>
<path d="M1850.9,656.4 V690.3 M1845.4,656.4 H1856.4 M1845.4,690.3 H1856.4" stroke="#000" stroke-width="2" fill="none"/>
<path d="M1934.9,674.8 V737.5 M1929.4,674.8 H1940.4 M1929.4,737.5 H1940.4" stroke="#000" stroke-width="2" fill="none"/>
<polygon points="1682.8,681.3 1684.3,685.0 1688.2,685.3 1685.2,687.8 1686.2,691.7 1682.8,689.5 1679.4,691.7 1680.4,687.8 1677.4,685.3 1681.3,685.0" fill="#4169E1" stroke="#4169E1" stroke-width="1.1" stroke-linejoin="round"/><polygon points="1682.8,691.2 1684.3,694.9 1688.2,695.2 1685.2,697.7 1686.2,701.5 1682.8,699.4 1679.4,701.5 1680.4,697.7 1677.4,695.2 1681.3,694.9" fill="#4169E1" stroke="#4169E1" stroke-width="1.1" stroke-linejoin="round"/><polygon points="1682.8,701.1 1684.3,704.8 1688.2,705.1 1685.2,707.6 1686.2,711.4 1682.8,709.3 1679.4,711.4 1680.4,707.6 1677.4,705.1 1681.3,704.8" fill="#4169E1" stroke="#4169E1" stroke-width="1.1" stroke-linejoin="round"/><polygon points="1682.8,706.7 1684.3,710.4 1688.2,710.7 1685.2,713.2 1686.2,717.0 1682.8,714.9 1679.4,717.0 1680.4,713.2 1677.4,710.7 1681.3,710.4" fill="#4169E1" stroke="#4169E1" stroke-width="1.1" stroke-linejoin="round"/><polygon points="1682.8,709.4 1684.3,713.0 1688.2,713.3 1685.2,715.8 1686.2,719.7 1682.8,717.6 1679.4,719.7 1680.4,715.8 1677.4,713.3 1681.3,713.0" fill="#4169E1" stroke="#4169E1" stroke-width="1.1" stroke-linejoin="round"/><polygon points="1682.8,712.0 1684.3,715.7 1688.2,715.9 1685.2,718.5 1686.2,722.3 1682.8,720.2 1679.4,722.3 1680.4,718.5 1677.4,715.9 1681.3,715.7" fill="#4169E1" stroke="#4169E1" stroke-width="1.1" stroke-linejoin="round"/>
<polygon points="1766.8,650.7 1768.3,654.4 1772.2,654.6 1769.2,657.2 1770.2,661.0 1766.8,658.9 1763.4,661.0 1764.4,657.2 1761.4,654.6 1765.3,654.4" fill="#4169E1" stroke="#4169E1" stroke-width="1.1" stroke-linejoin="round"/><polygon points="1766.8,659.9 1768.3,663.6 1772.2,663.9 1769.2,666.4 1770.2,670.2 1766.8,668.1 1763.4,670.2 1764.4,666.4 1761.4,663.9 1765.3,663.6" fill="#4169E1" stroke="#4169E1" stroke-width="1.1" stroke-linejoin="round"/><polygon points="1766.8,663.2 1768.3,666.9 1772.2,667.2 1769.2,669.7 1770.2,673.5 1766.8,671.4 1763.4,673.5 1764.4,669.7 1761.4,667.2 1765.3,666.9" fill="#4169E1" stroke="#4169E1" stroke-width="1.1" stroke-linejoin="round"/><polygon points="1766.8,666.5 1768.3,670.2 1772.2,670.4 1769.2,673.0 1770.2,676.8 1766.8,674.7 1763.4,676.8 1764.4,673.0 1761.4,670.4 1765.3,670.2" fill="#4169E1" stroke="#4169E1" stroke-width="1.1" stroke-linejoin="round"/><polygon points="1766.8,669.1 1768.3,672.8 1772.2,673.1 1769.2,675.6 1770.2,679.5 1766.8,677.3 1763.4,679.5 1764.4,675.6 1761.4,673.1 1765.3,672.8" fill="#4169E1" stroke="#4169E1" stroke-width="1.1" stroke-linejoin="round"/>
<polygon points="1850.9,646.1 1852.4,649.7 1856.3,650.0 1853.3,652.5 1854.3,656.4 1850.9,654.3 1847.5,656.4 1848.5,652.5 1845.5,650.0 1849.4,649.7" fill="#4169E1" stroke="#4169E1" stroke-width="1.1" stroke-linejoin="round"/><polygon points="1850.9,650.7 1852.4,654.4 1856.3,654.6 1853.3,657.2 1854.3,661.0 1850.9,658.9 1847.5,661.0 1848.5,657.2 1845.5,654.6 1849.4,654.4" fill="#4169E1" stroke="#4169E1" stroke-width="1.1" stroke-linejoin="round"/><polygon points="1850.9,663.2 1852.4,666.9 1856.3,667.2 1853.3,669.7 1854.3,673.5 1850.9,671.4 1847.5,673.5 1848.5,669.7 1845.5,667.2 1849.4,666.9" fill="#4169E1" stroke="#4169E1" stroke-width="1.1" stroke-linejoin="round"/><polygon points="1850.9,680.4 1852.4,684.0 1856.3,684.3 1853.3,686.8 1854.3,690.7 1850.9,688.6 1847.5,690.7 1848.5,686.8 1845.5,684.3 1849.4,684.0" fill="#4169E1" stroke="#4169E1" stroke-width="1.1" stroke-linejoin="round"/><polygon points="1850.9,683.0 1852.4,686.7 1856.3,686.9 1853.3,689.5 1854.3,693.3 1850.9,691.2 1847.5,693.3 1848.5,689.5 1845.5,686.9 1849.4,686.7" fill="#4169E1" stroke="#4169E1" stroke-width="1.1" stroke-linejoin="round"/>
<polygon points="1934.9,658.3 1936.4,661.9 1940.3,662.2 1937.3,664.7 1938.3,668.6 1934.9,666.5 1931.5,668.6 1932.5,664.7 1929.5,662.2 1933.4,661.9" fill="#4169E1" stroke="#4169E1" stroke-width="1.1" stroke-linejoin="round"/><polygon points="1934.9,672.4 1936.4,676.1 1940.3,676.4 1937.3,678.9 1938.3,682.8 1934.9,680.6 1931.5,682.8 1932.5,678.9 1929.5,676.4 1933.4,676.1" fill="#4169E1" stroke="#4169E1" stroke-width="1.1" stroke-linejoin="round"/><polygon points="1934.9,688.9 1936.4,692.6 1940.3,692.9 1937.3,695.4 1938.3,699.2 1934.9,697.1 1931.5,699.2 1932.5,695.4 1929.5,692.9 1933.4,692.6" fill="#4169E1" stroke="#4169E1" stroke-width="1.1" stroke-linejoin="round"/><polygon points="1934.9,702.8 1936.4,706.5 1940.3,706.7 1937.3,709.2 1938.3,713.1 1934.9,711.0 1931.5,713.1 1932.5,709.2 1929.5,706.7 1933.4,706.5" fill="#4169E1" stroke="#4169E1" stroke-width="1.1" stroke-linejoin="round"/><polygon points="1934.9,735.7 1936.4,739.4 1940.3,739.7 1937.3,742.2 1938.3,746.1 1934.9,743.9 1931.5,746.1 1932.5,742.2 1929.5,739.7 1933.4,739.4" fill="#4169E1" stroke="#4169E1" stroke-width="1.1" stroke-linejoin="round"/><polygon points="1934.9,744.0 1936.4,747.7 1940.3,747.9 1937.3,750.5 1938.3,754.3 1934.9,752.2 1931.5,754.3 1932.5,750.5 1929.5,747.9 1933.4,747.7" fill="#4169E1" stroke="#4169E1" stroke-width="1.1" stroke-linejoin="round"/>
<path d="M1629.6,750.7 C1633.7,747.8 1645.2,739.4 1654.3,733.2 C1663.4,727.0 1673.0,719.5 1684.0,713.4 C1695.0,707.4 1708.7,701.3 1720.3,696.9 C1731.8,692.5 1742.2,689.5 1753.2,687.0 C1764.2,684.6 1776.3,683.1 1786.2,682.1 C1796.1,681.1 1804.3,680.8 1812.6,680.8 C1820.8,680.8 1826.3,680.9 1835.6,682.1 C1845.0,683.3 1857.6,685.6 1868.6,687.7 C1879.6,689.8 1890.6,692.2 1901.6,694.6 C1912.6,697.1 1923.8,699.6 1934.6,702.5 C1945.3,705.5 1960.7,710.8 1965.9,712.4" fill="none" stroke="#FF0000" stroke-width="2.7" stroke-linecap="square"/>
<rect x="1614.6" y="633.1" width="367.8" height="408.9" fill="none" stroke="#262626" stroke-width="1.7"/>
<line x1="1682.8" y1="1042.0" x2="1682.8" y2="1048.5" stroke="#262626" stroke-width="1.7"/><text x="1682.8" y="1084.0" dx="0.90" font-size="34.0" letter-spacing="1.80" text-anchor="middle" fill="#000">1</text>
<line x1="1766.8" y1="1042.0" x2="1766.8" y2="1048.5" stroke="#262626" stroke-width="1.7"/><text x="1766.8" y="1084.0" dx="0.90" font-size="34.0" letter-spacing="1.80" text-anchor="middle" fill="#000">2</text>
<line x1="1850.9" y1="1042.0" x2="1850.9" y2="1048.5" stroke="#262626" stroke-width="1.7"/><text x="1850.9" y="1084.0" dx="0.90" font-size="34.0" letter-spacing="1.80" text-anchor="middle" fill="#000">3</text>
<line x1="1934.9" y1="1042.0" x2="1934.9" y2="1048.5" stroke="#262626" stroke-width="1.7"/><text x="1934.9" y="1084.0" dx="0.90" font-size="34.0" letter-spacing="1.80" text-anchor="middle" fill="#000">4</text>
<line x1="1608.1" y1="1042.0" x2="1614.6" y2="1042.0" stroke="#262626" stroke-width="1.7"/><text x="1598.5" y="1051.0" dx="1.80" font-size="34.0" letter-spacing="1.80" text-anchor="end" fill="#000">0.0</text>
<line x1="1608.1" y1="994.6" x2="1614.6" y2="994.6" stroke="#262626" stroke-width="1.7"/><text x="1598.5" y="1003.6" dx="1.80" font-size="34.0" letter-spacing="1.80" text-anchor="end" fill="#000">0.5</text>
<line x1="1608.1" y1="947.3" x2="1614.6" y2="947.3" stroke="#262626" stroke-width="1.7"/><text x="1598.5" y="956.3" dx="1.80" font-size="34.0" letter-spacing="1.80" text-anchor="end" fill="#000">1.0</text>
<line x1="1608.1" y1="899.9" x2="1614.6" y2="899.9" stroke="#262626" stroke-width="1.7"/><text x="1598.5" y="908.9" dx="1.80" font-size="34.0" letter-spacing="1.80" text-anchor="end" fill="#000">1.5</text>
<line x1="1608.1" y1="852.5" x2="1614.6" y2="852.5" stroke="#262626" stroke-width="1.7"/><text x="1598.5" y="861.5" dx="1.80" font-size="34.0" letter-spacing="1.80" text-anchor="end" fill="#000">2.0</text>
<line x1="1608.1" y1="805.2" x2="1614.6" y2="805.2" stroke="#262626" stroke-width="1.7"/><text x="1598.5" y="814.2" dx="1.80" font-size="34.0" letter-spacing="1.80" text-anchor="end" fill="#000">2.5</text>
<line x1="1608.1" y1="757.8" x2="1614.6" y2="757.8" stroke="#262626" stroke-width="1.7"/><text x="1598.5" y="766.8" dx="1.80" font-size="34.0" letter-spacing="1.80" text-anchor="end" fill="#000">3.0</text>
<line x1="1608.1" y1="710.4" x2="1614.6" y2="710.4" stroke="#262626" stroke-width="1.7"/><text x="1598.5" y="719.4" dx="1.80" font-size="34.0" letter-spacing="1.80" text-anchor="end" fill="#000">3.5</text>
<line x1="1608.1" y1="663.1" x2="1614.6" y2="663.1" stroke="#262626" stroke-width="1.7"/><text x="1598.5" y="672.1" dx="1.80" font-size="34.0" letter-spacing="1.80" text-anchor="end" fill="#000">4.0</text>
<text x="1787.8" y="621.1" dx="1.08" font-size="33.0" letter-spacing="2.16" text-anchor="middle" fill="#000">High Light</text>
<text x="0" y="0" dx="1.22" transform="translate(1528.4,838.7) rotate(-90)" font-size="33.0" letter-spacing="2.45" text-anchor="middle" fill="#000">Productivity (OD/day)</text>
<text x="1459.3" y="638.0" font-size="55.6" font-weight="bold" fill="#000">f</text>
</g>
<g id="panelG">
<rect x="1668.0" y="1242.2" width="42.1" height="327.9" fill="#4C92C3"/>
<rect x="1751.7" y="1211.7" width="42.1" height="358.4" fill="#4C92C3"/>
<rect x="1835.0" y="1263.9" width="42.1" height="306.2" fill="#4C92C3"/>
<rect x="1919.0" y="1284.6" width="42.1" height="285.5" fill="#4C92C3"/>
<path d="M1689.1,1243.2 V1258.2 M1683.6,1243.2 H1694.6 M1683.6,1258.2 H1694.6" stroke="#000" stroke-width="2" fill="none"/>
<path d="M1772.7,1195.3 V1227.8 M1767.2,1195.3 H1778.2 M1767.2,1227.8 H1778.2" stroke="#000" stroke-width="2" fill="none"/>
<path d="M1856.0,1257.2 V1272.9 M1850.5,1257.2 H1861.5 M1850.5,1272.9 H1861.5" stroke="#000" stroke-width="2" fill="none"/>
<path d="M1940.0,1263.9 V1304.7 M1934.5,1263.9 H1945.5 M1934.5,1304.7 H1945.5" stroke="#000" stroke-width="2" fill="none"/>
<polygon points="1689.1,1218.1 1690.5,1221.7 1694.5,1222.0 1691.5,1224.5 1692.4,1228.4 1689.1,1226.3 1685.7,1228.4 1686.7,1224.5 1683.7,1222.0 1687.6,1221.7" fill="#4169E1" stroke="#4169E1" stroke-width="1.1" stroke-linejoin="round"/><polygon points="1689.1,1221.4 1690.5,1225.1 1694.5,1225.3 1691.5,1227.9 1692.4,1231.7 1689.1,1229.6 1685.7,1231.7 1686.7,1227.9 1683.7,1225.3 1687.6,1225.1" fill="#4169E1" stroke="#4169E1" stroke-width="1.1" stroke-linejoin="round"/><polygon points="1689.1,1228.1 1690.5,1231.8 1694.5,1232.0 1691.5,1234.6 1692.4,1238.4 1689.1,1236.3 1685.7,1238.4 1686.7,1234.6 1683.7,1232.0 1687.6,1231.8" fill="#4169E1" stroke="#4169E1" stroke-width="1.1" stroke-linejoin="round"/><polygon points="1689.1,1233.1 1690.5,1236.8 1694.5,1237.0 1691.5,1239.6 1692.4,1243.4 1689.1,1241.3 1685.7,1243.4 1686.7,1239.6 1683.7,1237.0 1687.6,1236.8" fill="#4169E1" stroke="#4169E1" stroke-width="1.1" stroke-linejoin="round"/><polygon points="1689.1,1244.8 1690.5,1248.5 1694.5,1248.8 1691.5,1251.3 1692.4,1255.1 1689.1,1253.0 1685.7,1255.1 1686.7,1251.3 1683.7,1248.8 1687.6,1248.5" fill="#4169E1" stroke="#4169E1" stroke-width="1.1" stroke-linejoin="round"/><polygon points="1689.1,1256.5 1690.5,1260.2 1694.5,1260.5 1691.5,1263.0 1692.4,1266.8 1689.1,1264.7 1685.7,1266.8 1686.7,1263.0 1683.7,1260.5 1687.6,1260.2" fill="#4169E1" stroke="#4169E1" stroke-width="1.1" stroke-linejoin="round"/><polygon points="1689.1,1264.2 1690.5,1267.9 1694.5,1268.2 1691.5,1270.7 1692.4,1274.5 1689.1,1272.4 1685.7,1274.5 1686.7,1270.7 1683.7,1268.2 1687.6,1267.9" fill="#4169E1" stroke="#4169E1" stroke-width="1.1" stroke-linejoin="round"/>
<polygon points="1772.7,1180.6 1774.2,1184.3 1778.1,1184.5 1775.1,1187.1 1776.1,1190.9 1772.7,1188.8 1769.4,1190.9 1770.3,1187.1 1767.3,1184.5 1771.3,1184.3" fill="#4169E1" stroke="#4169E1" stroke-width="1.1" stroke-linejoin="round"/><polygon points="1772.7,1186.3 1774.2,1189.9 1778.1,1190.2 1775.1,1192.7 1776.1,1196.6 1772.7,1194.5 1769.4,1196.6 1770.3,1192.7 1767.3,1190.2 1771.3,1189.9" fill="#4169E1" stroke="#4169E1" stroke-width="1.1" stroke-linejoin="round"/><polygon points="1772.7,1194.6 1774.2,1198.3 1778.1,1198.6 1775.1,1201.1 1776.1,1204.9 1772.7,1202.8 1769.4,1204.9 1770.3,1201.1 1767.3,1198.6 1771.3,1198.3" fill="#4169E1" stroke="#4169E1" stroke-width="1.1" stroke-linejoin="round"/><polygon points="1772.7,1204.7 1774.2,1208.3 1778.1,1208.6 1775.1,1211.1 1776.1,1215.0 1772.7,1212.9 1769.4,1215.0 1770.3,1211.1 1767.3,1208.6 1771.3,1208.3" fill="#4169E1" stroke="#4169E1" stroke-width="1.1" stroke-linejoin="round"/><polygon points="1772.7,1214.7 1774.2,1218.4 1778.1,1218.6 1775.1,1221.2 1776.1,1225.0 1772.7,1222.9 1769.4,1225.0 1770.3,1221.2 1767.3,1218.6 1771.3,1218.4" fill="#4169E1" stroke="#4169E1" stroke-width="1.1" stroke-linejoin="round"/><polygon points="1772.7,1221.4 1774.2,1225.1 1778.1,1225.3 1775.1,1227.9 1776.1,1231.7 1772.7,1229.6 1769.4,1231.7 1770.3,1227.9 1767.3,1225.3 1771.3,1225.1" fill="#4169E1" stroke="#4169E1" stroke-width="1.1" stroke-linejoin="round"/><polygon points="1772.7,1228.8 1774.2,1232.4 1778.1,1232.7 1775.1,1235.2 1776.1,1239.1 1772.7,1237.0 1769.4,1239.1 1770.3,1235.2 1767.3,1232.7 1771.3,1232.4" fill="#4169E1" stroke="#4169E1" stroke-width="1.1" stroke-linejoin="round"/>
<polygon points="1856.0,1248.8 1857.5,1252.5 1861.4,1252.8 1858.4,1255.3 1859.4,1259.1 1856.0,1257.0 1852.7,1259.1 1853.6,1255.3 1850.6,1252.8 1854.6,1252.5" fill="#4169E1" stroke="#4169E1" stroke-width="1.1" stroke-linejoin="round"/><polygon points="1856.0,1251.5 1857.5,1255.2 1861.4,1255.4 1858.4,1258.0 1859.4,1261.8 1856.0,1259.7 1852.7,1261.8 1853.6,1258.0 1850.6,1255.4 1854.6,1255.2" fill="#4169E1" stroke="#4169E1" stroke-width="1.1" stroke-linejoin="round"/><polygon points="1856.0,1256.5 1857.5,1260.2 1861.4,1260.5 1858.4,1263.0 1859.4,1266.8 1856.0,1264.7 1852.7,1266.8 1853.6,1263.0 1850.6,1260.5 1854.6,1260.2" fill="#4169E1" stroke="#4169E1" stroke-width="1.1" stroke-linejoin="round"/><polygon points="1856.0,1261.5 1857.5,1265.2 1861.4,1265.5 1858.4,1268.0 1859.4,1271.9 1856.0,1269.7 1852.7,1271.9 1853.6,1268.0 1850.6,1265.5 1854.6,1265.2" fill="#4169E1" stroke="#4169E1" stroke-width="1.1" stroke-linejoin="round"/><polygon points="1856.0,1266.6 1857.5,1270.2 1861.4,1270.5 1858.4,1273.0 1859.4,1276.9 1856.0,1274.8 1852.7,1276.9 1853.6,1273.0 1850.6,1270.5 1854.6,1270.2" fill="#4169E1" stroke="#4169E1" stroke-width="1.1" stroke-linejoin="round"/><polygon points="1856.0,1277.3 1857.5,1280.9 1861.4,1281.2 1858.4,1283.7 1859.4,1287.6 1856.0,1285.5 1852.7,1287.6 1853.6,1283.7 1850.6,1281.2 1854.6,1280.9" fill="#4169E1" stroke="#4169E1" stroke-width="1.1" stroke-linejoin="round"/>
<polygon points="1940.0,1264.2 1941.5,1267.9 1945.4,1268.2 1942.4,1270.7 1943.4,1274.5 1940.0,1272.4 1936.6,1274.5 1937.6,1270.7 1934.6,1268.2 1938.5,1267.9" fill="#4169E1" stroke="#4169E1" stroke-width="1.1" stroke-linejoin="round"/><polygon points="1940.0,1268.2 1941.5,1271.9 1945.4,1272.2 1942.4,1274.7 1943.4,1278.5 1940.0,1276.4 1936.6,1278.5 1937.6,1274.7 1934.6,1272.2 1938.5,1271.9" fill="#4169E1" stroke="#4169E1" stroke-width="1.1" stroke-linejoin="round"/><polygon points="1940.0,1278.9 1941.5,1282.6 1945.4,1282.9 1942.4,1285.4 1943.4,1289.3 1940.0,1287.1 1936.6,1289.3 1937.6,1285.4 1934.6,1282.9 1938.5,1282.6" fill="#4169E1" stroke="#4169E1" stroke-width="1.1" stroke-linejoin="round"/><polygon points="1940.0,1313.4 1941.5,1317.1 1945.4,1317.3 1942.4,1319.9 1943.4,1323.7 1940.0,1321.6 1936.6,1323.7 1937.6,1319.9 1934.6,1317.3 1938.5,1317.1" fill="#4169E1" stroke="#4169E1" stroke-width="1.1" stroke-linejoin="round"/>
<path d="M1637.4,1264.6 C1639.3,1261.9 1644.1,1255.1 1649.1,1248.8 C1654.1,1242.6 1661.1,1233.8 1667.5,1227.1 C1673.9,1220.4 1681.4,1213.6 1687.6,1208.7 C1693.7,1203.8 1698.2,1201.0 1704.3,1197.7 C1710.4,1194.3 1718.2,1190.9 1724.4,1188.6 C1730.5,1186.4 1735.5,1185.3 1741.1,1184.3 C1746.7,1183.3 1752.3,1182.7 1757.8,1182.6 C1763.4,1182.5 1768.4,1182.9 1774.6,1183.6 C1780.7,1184.3 1787.4,1185.4 1794.6,1186.9 C1801.9,1188.5 1810.2,1189.9 1818.1,1193.0 C1825.9,1196.0 1833.1,1200.5 1841.5,1205.3 C1849.8,1210.2 1859.3,1216.8 1868.2,1222.1 C1877.2,1227.4 1885.5,1233.0 1895.0,1237.1 C1904.5,1241.3 1916.2,1243.9 1925.1,1247.2 C1934.0,1250.4 1940.9,1253.3 1948.5,1256.5 C1956.2,1259.8 1967.2,1264.9 1970.9,1266.6" fill="none" stroke="#FF0000" stroke-width="2.7" stroke-linecap="square"/>
<rect x="1621.5" y="1163.5" width="365.9" height="406.6" fill="none" stroke="#262626" stroke-width="1.7"/>
<line x1="1689.1" y1="1570.1" x2="1689.1" y2="1576.6" stroke="#262626" stroke-width="1.7"/><text x="1689.1" y="1612.0" dx="0.90" font-size="34.0" letter-spacing="1.80" text-anchor="middle" fill="#000">1</text>
<line x1="1772.7" y1="1570.1" x2="1772.7" y2="1576.6" stroke="#262626" stroke-width="1.7"/><text x="1772.7" y="1612.0" dx="0.90" font-size="34.0" letter-spacing="1.80" text-anchor="middle" fill="#000">2</text>
<line x1="1856.0" y1="1570.1" x2="1856.0" y2="1576.6" stroke="#262626" stroke-width="1.7"/><text x="1856.0" y="1612.0" dx="0.90" font-size="34.0" letter-spacing="1.80" text-anchor="middle" fill="#000">3</text>
<line x1="1940.0" y1="1570.1" x2="1940.0" y2="1576.6" stroke="#262626" stroke-width="1.7"/><text x="1940.0" y="1612.0" dx="0.90" font-size="34.0" letter-spacing="1.80" text-anchor="middle" fill="#000">4</text>
<line x1="1615.0" y1="1570.1" x2="1621.5" y2="1570.1" stroke="#262626" stroke-width="1.7"/><text x="1605.8" y="1575.4" dx="1.80" font-size="34.0" letter-spacing="1.80" text-anchor="end" fill="#000">0.0</text>
<line x1="1615.0" y1="1498.6" x2="1621.5" y2="1498.6" stroke="#262626" stroke-width="1.7"/><text x="1605.8" y="1503.9" dx="1.80" font-size="34.0" letter-spacing="1.80" text-anchor="end" fill="#000">0.5</text>
<line x1="1615.0" y1="1427.1" x2="1621.5" y2="1427.1" stroke="#262626" stroke-width="1.7"/><text x="1605.8" y="1432.4" dx="1.80" font-size="34.0" letter-spacing="1.80" text-anchor="end" fill="#000">1.0</text>
<line x1="1615.0" y1="1355.6" x2="1621.5" y2="1355.6" stroke="#262626" stroke-width="1.7"/><text x="1605.8" y="1360.9" dx="1.80" font-size="34.0" letter-spacing="1.80" text-anchor="end" fill="#000">1.5</text>
<line x1="1615.0" y1="1284.1" x2="1621.5" y2="1284.1" stroke="#262626" stroke-width="1.7"/><text x="1605.8" y="1289.4" dx="1.80" font-size="34.0" letter-spacing="1.80" text-anchor="end" fill="#000">2.0</text>
<line x1="1615.0" y1="1212.6" x2="1621.5" y2="1212.6" stroke="#262626" stroke-width="1.7"/><text x="1605.8" y="1217.9" dx="1.80" font-size="34.0" letter-spacing="1.80" text-anchor="end" fill="#000">2.5</text>
<text x="1798.6" y="1153.5" dx="1.11" font-size="33.0" letter-spacing="2.22" text-anchor="middle" fill="#000">Changing Light</text>
<text x="0" y="0" dx="1.19" transform="translate(1539.4,1371.0) rotate(-90)" font-size="33.0" letter-spacing="2.38" text-anchor="middle" fill="#000">Productivity (OD/day)</text>
<text x="1795.0" y="1655.3" dx="0.98" font-size="33.0" letter-spacing="1.95" text-anchor="middle" fill="#000">Initial OD</text>
<text x="1458.1" y="1156.5" font-size="55.6" font-weight="bold" fill="#000">g</text>
</g>
</svg>
</body></html>
